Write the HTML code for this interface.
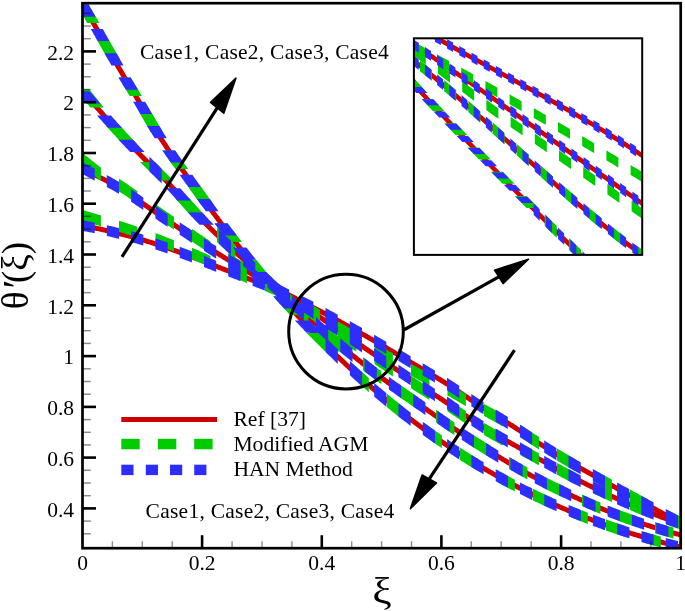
<!DOCTYPE html>
<html><head><meta charset="utf-8"><title>plot</title>
<style>
html,body{margin:0;padding:0;background:#fff;}
svg{display:block;}
text{font-family:"Liberation Serif","Times New Roman",serif;fill:#000;}
.tk{font-size:21.5px;}
.lg{font-size:21.6px;}
.cs{font-size:21.5px;letter-spacing:0.25px;}
.ax{font-size:38px;}
.ay{font-size:37px;}
</style></head><body>
<svg width="685" height="611" viewBox="0 0 685 611">
<rect width="685" height="611" fill="#fff"/>
<clipPath id="cm"><rect x="82.5" y="3.2" width="598.2" height="545.0"/></clipPath>
<g clip-path="url(#cm)">
<polygon fill="#cf0000" points="82.5,223 83.5,223.1 84.5,223.3 85.5,223.5 86.5,223.7 87.5,223.9 88.5,224.1 89.5,224.3 90.5,224.5 91.5,224.7 92.5,224.9 93.5,225.1 94.5,225.3 95.5,225.6 96.5,225.8 97.5,226 98.5,226.2 99.5,226.4 100.5,226.6 101.5,226.8 102.5,227.1 103.5,227.3 104.5,227.5 105.5,227.7 106.5,228 107.5,228.2 108.5,228.4 109.5,228.7 110.5,228.9 111.5,229.1 112.5,229.4 113.5,229.6 114.5,229.8 115.5,230.1 116.5,230.3 117.5,230.6 118.5,230.8 119.5,231.1 120.5,231.3 121.5,231.6 122.5,231.8 123.5,232.1 124.5,232.3 125.5,232.6 126.5,232.8 127.5,233.1 128.5,233.3 129.5,233.6 130.5,233.9 131.5,234.1 132.5,234.4 133.5,234.7 134.5,235 135.5,235.2 136.5,235.5 137.5,235.8 138.5,236.1 139.5,236.4 140.5,236.6 141.5,236.9 142.5,237.2 143.5,237.5 144.5,237.8 145.5,238.1 146.5,238.4 147.5,238.7 148.5,239 149.5,239.4 150.5,239.7 151.5,240 152.5,240.3 153.5,240.6 154.5,240.9 155.5,241.3 156.5,241.6 157.5,241.9 158.5,242.3 159.5,242.6 160.5,242.9 161.5,243.3 162.5,243.6 163.5,243.9 164.5,244.3 165.5,244.6 166.5,245 167.5,245.3 168.5,245.7 169.5,246 170.5,246.4 171.5,246.7 172.5,247.1 173.5,247.4 174.5,247.8 175.5,248.2 176.5,248.5 177.5,248.9 178.5,249.2 179.5,249.6 180.5,250 181.5,250.3 182.5,250.7 183.5,251.1 184.5,251.4 185.5,251.8 186.5,252.2 187.5,252.6 188.5,252.9 189.5,253.3 190.5,253.7 191.5,254.1 192.5,254.4 193.5,254.8 194.5,255.2 195.5,255.6 196.5,255.9 197.5,256.3 198.5,256.7 199.5,257.1 200.5,257.5 201.5,257.9 202.5,258.2 203.5,258.6 204.5,259 205.5,259.4 206.5,259.8 207.5,260.2 208.5,260.6 209.5,261 210.5,261.4 211.5,261.8 212.5,262.2 213.5,262.5 214.5,262.9 215.5,263.3 216.5,263.7 217.5,264.1 218.5,264.5 219.5,264.9 220.5,265.3 221.5,265.7 222.5,266 223.5,266.4 224.5,266.8 225.5,267.2 226.5,267.6 227.5,268 228.5,268.3 229.5,268.7 230.5,269.1 231.5,269.5 232.5,269.9 233.5,270.2 234.5,270.6 235.5,271 236.5,271.4 237.5,271.8 238.5,272.1 239.5,272.5 240.5,272.9 241.5,273.3 242.5,273.7 243.5,274.1 244.5,274.5 245.5,274.9 246.5,275.3 247.5,275.6 248.5,276 249.5,276.4 250.5,276.8 251.5,277.2 252.5,277.6 253.5,278 254.5,278.4 255.5,278.8 256.5,279.1 257.5,279.5 258.5,279.9 259.5,280.3 260.5,280.7 261.5,281 262.5,281.4 263.5,281.8 264.5,282.2 265.5,282.5 266.5,282.9 267.5,283.3 268.5,283.7 269.5,284 270.5,284.4 271.5,284.8 272.5,285.2 273.5,285.6 274.5,286 275.5,286.4 276.5,286.8 277.5,287.2 278.5,287.6 279.5,288 280.5,288.4 281.5,288.9 282.5,289.3 283.5,289.8 284.5,290.2 285.5,290.7 286.5,291.2 287.5,291.7 288.5,292.1 289.5,292.6 290.5,293.1 291.5,293.6 292.5,294.1 293.5,294.6 294.5,295.1 295.5,295.6 296.5,296.1 297.5,296.7 298.5,297.2 299.5,297.7 300.5,298.2 301.5,298.7 302.5,299.2 303.5,299.8 304.5,300.3 305.5,300.8 306.5,301.3 307.5,301.8 308.5,302.3 309.5,302.8 310.5,303.4 311.5,303.9 312.5,304.4 313.5,304.9 314.5,305.4 315.5,305.9 316.5,306.4 317.5,307 318.5,307.5 319.5,308 320.5,308.5 321.5,309 322.5,309.6 323.5,310.1 324.5,310.6 325.5,311.1 326.5,311.7 327.5,312.2 328.5,312.7 329.5,313.2 330.5,313.8 331.5,314.3 332.5,314.8 333.5,315.4 334.5,315.9 335.5,316.4 336.5,317 337.5,317.5 338.5,318 339.5,318.6 340.5,319.1 341.5,319.7 342.5,320.2 343.5,320.8 344.5,321.3 345.5,321.9 346.5,322.4 347.5,323 348.5,323.5 349.5,324.1 350.5,324.6 351.5,325.2 352.5,325.7 353.5,326.3 354.5,326.8 355.5,327.4 356.5,328 357.5,328.5 358.5,329.1 359.5,329.6 360.5,330.2 361.5,330.8 362.5,331.3 363.5,331.9 364.5,332.4 365.5,333 366.5,333.6 367.5,334.1 368.5,334.7 369.5,335.3 370.5,335.8 371.5,336.4 372.5,337 373.5,337.6 374.5,338.1 375.5,338.7 376.5,339.3 377.5,339.8 378.5,340.4 379.5,341 380.5,341.6 381.5,342.1 382.5,342.7 383.5,343.3 384.5,343.9 385.5,344.5 386.5,345 387.5,345.6 388.5,346.2 389.5,346.8 390.5,347.4 391.5,347.9 392.5,348.5 393.5,349.1 394.5,349.7 395.5,350.3 396.5,350.9 397.5,351.5 398.5,352.1 399.5,352.7 400.5,353.3 401.5,353.8 402.5,354.4 403.5,355 404.5,355.6 405.5,356.2 406.5,356.8 407.5,357.4 408.5,358 409.5,358.6 410.5,359.2 411.5,359.8 412.5,360.4 413.5,361 414.5,361.6 415.5,362.2 416.5,362.7 417.5,363.3 418.5,363.9 419.5,364.5 420.5,365.1 421.5,365.7 422.5,366.3 423.5,366.9 424.5,367.5 425.5,368.1 426.5,368.7 427.5,369.3 428.5,369.8 429.5,370.4 430.5,371 431.5,371.6 432.5,372.2 433.5,372.8 434.5,373.4 435.5,374 436.5,374.6 437.5,375.2 438.5,375.8 439.5,376.4 440.5,377 441.5,377.6 442.5,378.2 443.5,378.9 444.5,379.5 445.5,380.1 446.5,380.7 447.5,381.3 448.5,382 449.5,382.6 450.5,383.3 451.5,383.9 452.5,384.5 453.5,385.2 454.5,385.8 455.5,386.5 456.5,387.2 457.5,387.8 458.5,388.5 459.5,389.2 460.5,389.8 461.5,390.5 462.5,391.2 463.5,391.8 464.5,392.5 465.5,393.2 466.5,393.9 467.5,394.5 468.5,395.2 469.5,395.9 470.5,396.6 471.5,397.2 472.5,397.9 473.5,398.6 474.5,399.3 475.5,399.9 476.5,400.6 477.5,401.2 478.5,401.9 479.5,402.5 480.5,403.2 481.5,403.8 482.5,404.5 483.5,405.1 484.5,405.8 485.5,406.4 486.5,407 487.5,407.6 488.5,408.3 489.5,408.9 490.5,409.5 491.5,410.1 492.5,410.7 493.5,411.3 494.5,411.9 495.5,412.5 496.5,413.2 497.5,413.8 498.5,414.4 499.5,415 500.5,415.6 501.5,416.2 502.5,416.8 503.5,417.4 504.5,418 505.5,418.6 506.5,419.3 507.5,419.9 508.5,420.5 509.5,421.1 510.5,421.7 511.5,422.4 512.5,423 513.5,423.6 514.5,424.3 515.5,424.9 516.5,425.6 517.5,426.2 518.5,426.9 519.5,427.5 520.5,428.2 521.5,428.8 522.5,429.5 523.5,430.1 524.5,430.8 525.5,431.4 526.5,432.1 527.5,432.7 528.5,433.4 529.5,434.1 530.5,434.7 531.5,435.4 532.5,436 533.5,436.7 534.5,437.3 535.5,438 536.5,438.6 537.5,439.3 538.5,439.9 539.5,440.6 540.5,441.2 541.5,441.9 542.5,442.5 543.5,443.1 544.5,443.8 545.5,444.4 546.5,445 547.5,445.7 548.5,446.3 549.5,446.9 550.5,447.5 551.5,448.2 552.5,448.8 553.5,449.4 554.5,450 555.5,450.6 556.5,451.2 557.5,451.8 558.5,452.4 559.5,453 560.5,453.6 561.5,454.2 562.5,454.8 563.5,455.4 564.5,456 565.5,456.6 566.5,457.2 567.5,457.8 568.5,458.4 569.5,459 570.5,459.6 571.5,460.1 572.5,460.7 573.5,461.3 574.5,461.9 575.5,462.4 576.5,463 577.5,463.6 578.5,464.2 579.5,464.7 580.5,465.3 581.5,465.9 582.5,466.4 583.5,467 584.5,467.6 585.5,468.1 586.5,468.7 587.5,469.3 588.5,469.8 589.5,470.4 590.5,470.9 591.5,471.5 592.5,472.1 593.5,472.6 594.5,473.2 595.5,473.7 596.5,474.3 597.5,474.8 598.5,475.4 599.5,475.9 600.5,476.5 601.5,477 602.5,477.6 603.5,478.1 604.5,478.7 605.5,479.2 606.5,479.8 607.5,480.3 608.5,480.9 609.5,481.4 610.5,482 611.5,482.5 612.5,483 613.5,483.6 614.5,484.1 615.5,484.7 616.5,485.2 617.5,485.8 618.5,486.3 619.5,486.9 620.5,487.4 621.5,487.9 622.5,488.5 623.5,489 624.5,489.6 625.5,490.1 626.5,490.7 627.5,491.2 628.5,491.8 629.5,492.3 630.5,492.9 631.5,493.4 632.5,494 633.5,494.5 634.5,495.1 635.5,495.6 636.5,496.2 637.5,496.7 638.5,497.2 639.5,497.8 640.5,498.3 641.5,498.9 642.5,499.4 643.5,500 644.5,500.5 645.5,501.1 646.5,501.6 647.5,502.2 648.5,502.7 649.5,503.3 650.5,503.8 651.5,504.4 652.5,504.9 653.5,505.5 654.5,506 655.5,506.6 656.5,507.1 657.5,507.6 658.5,508.2 659.5,508.7 660.5,509.3 661.5,509.8 662.5,510.3 663.5,510.9 664.5,511.4 665.5,511.9 666.5,512.5 667.5,513 668.5,513.5 669.5,514.1 670.5,514.6 671.5,515.1 672.5,515.6 673.5,516.2 674.5,516.7 675.5,517.2 676.5,517.7 677.5,518.2 678.5,518.7 679.5,519.3 680.5,519.8 680.5,525.4 679.5,524.9 678.5,524.4 677.5,523.9 676.5,523.3 675.5,522.8 674.5,522.3 673.5,521.8 672.5,521.3 671.5,520.8 670.5,520.2 669.5,519.7 668.5,519.2 667.5,518.7 666.5,518.1 665.5,517.6 664.5,517.1 663.5,516.5 662.5,516 661.5,515.5 660.5,514.9 659.5,514.4 658.5,513.9 657.5,513.3 656.5,512.8 655.5,512.2 654.5,511.7 653.5,511.2 652.5,510.6 651.5,510.1 650.5,509.5 649.5,509 648.5,508.4 647.5,507.9 646.5,507.3 645.5,506.8 644.5,506.2 643.5,505.7 642.5,505.2 641.5,504.6 640.5,504.1 639.5,503.5 638.5,503 637.5,502.4 636.5,501.9 635.5,501.3 634.5,500.8 633.5,500.2 632.5,499.7 631.5,499.1 630.5,498.6 629.5,498 628.5,497.5 627.5,496.9 626.5,496.4 625.5,495.8 624.5,495.3 623.5,494.7 622.5,494.2 621.5,493.6 620.5,493.1 619.5,492.6 618.5,492 617.5,491.5 616.5,490.9 615.5,490.4 614.5,489.8 613.5,489.3 612.5,488.7 611.5,488.2 610.5,487.7 609.5,487.1 608.5,486.6 607.5,486 606.5,485.5 605.5,484.9 604.5,484.4 603.5,483.8 602.5,483.3 601.5,482.7 600.5,482.2 599.5,481.6 598.5,481.1 597.5,480.5 596.5,480 595.5,479.4 594.5,478.9 593.5,478.3 592.5,477.8 591.5,477.2 590.5,476.7 589.5,476.1 588.5,475.6 587.5,475 586.5,474.4 585.5,473.9 584.5,473.3 583.5,472.7 582.5,472.2 581.5,471.6 580.5,471.1 579.5,470.5 578.5,469.9 577.5,469.4 576.5,468.8 575.5,468.2 574.5,467.6 573.5,467.1 572.5,466.5 571.5,465.9 570.5,465.3 569.5,464.8 568.5,464.2 567.5,463.6 566.5,463 565.5,462.4 564.5,461.8 563.5,461.2 562.5,460.7 561.5,460.1 560.5,459.5 559.5,458.9 558.5,458.3 557.5,457.7 556.5,457.1 555.5,456.5 554.5,455.9 553.5,455.3 552.5,454.6 551.5,454 550.5,453.4 549.5,452.8 548.5,452.2 547.5,451.6 546.5,450.9 545.5,450.3 544.5,449.7 543.5,449.1 542.5,448.4 541.5,447.8 540.5,447.2 539.5,446.5 538.5,445.9 537.5,445.2 536.5,444.6 535.5,443.9 534.5,443.3 533.5,442.6 532.5,442 531.5,441.3 530.5,440.7 529.5,440 528.5,439.4 527.5,438.7 526.5,438.1 525.5,437.4 524.5,436.7 523.5,436.1 522.5,435.4 521.5,434.8 520.5,434.1 519.5,433.5 518.5,432.8 517.5,432.2 516.5,431.5 515.5,430.9 514.5,430.2 513.5,429.6 512.5,428.9 511.5,428.3 510.5,427.7 509.5,427 508.5,426.4 507.5,425.8 506.5,425.1 505.5,424.5 504.5,423.9 503.5,423.3 502.5,422.7 501.5,422.1 500.5,421.4 499.5,420.8 498.5,420.2 497.5,419.6 496.5,419 495.5,418.4 494.5,417.8 493.5,417.2 492.5,416.6 491.5,416 490.5,415.4 489.5,414.7 488.5,414.1 487.5,413.5 486.5,412.9 485.5,412.3 484.5,411.7 483.5,411 482.5,410.4 481.5,409.8 480.5,409.1 479.5,408.5 478.5,407.9 477.5,407.2 476.5,406.6 475.5,405.9 474.5,405.2 473.5,404.6 472.5,403.9 471.5,403.3 470.5,402.6 469.5,401.9 468.5,401.3 467.5,400.6 466.5,399.9 465.5,399.2 464.5,398.6 463.5,397.9 462.5,397.2 461.5,396.5 460.5,395.9 459.5,395.2 458.5,394.5 457.5,393.8 456.5,393.2 455.5,392.5 454.5,391.8 453.5,391.2 452.5,390.5 451.5,389.9 450.5,389.2 449.5,388.6 448.5,387.9 447.5,387.3 446.5,386.6 445.5,386 444.5,385.4 443.5,384.7 442.5,384.1 441.5,383.5 440.5,382.9 439.5,382.3 438.5,381.7 437.5,381 436.5,380.4 435.5,379.8 434.5,379.2 433.5,378.6 432.5,378 431.5,377.4 430.5,376.8 429.5,376.2 428.5,375.7 427.5,375.1 426.5,374.5 425.5,373.9 424.5,373.3 423.5,372.7 422.5,372.1 421.5,371.5 420.5,370.9 419.5,370.3 418.5,369.7 417.5,369.2 416.5,368.6 415.5,368 414.5,367.4 413.5,366.8 412.5,366.2 411.5,365.6 410.5,365 409.5,364.4 408.5,363.8 407.5,363.2 406.5,362.6 405.5,362 404.5,361.4 403.5,360.8 402.5,360.2 401.5,359.7 400.5,359.1 399.5,358.5 398.5,357.9 397.5,357.3 396.5,356.7 395.5,356.1 394.5,355.5 393.5,354.9 392.5,354.3 391.5,353.7 390.5,353.2 389.5,352.6 388.5,352 387.5,351.4 386.5,350.8 385.5,350.2 384.5,349.7 383.5,349.1 382.5,348.5 381.5,347.9 380.5,347.3 379.5,346.8 378.5,346.2 377.5,345.6 376.5,345 375.5,344.5 374.5,343.9 373.5,343.3 372.5,342.7 371.5,342.2 370.5,341.6 369.5,341 368.5,340.5 367.5,339.9 366.5,339.3 365.5,338.8 364.5,338.2 363.5,337.6 362.5,337.1 361.5,336.5 360.5,335.9 359.5,335.4 358.5,334.8 357.5,334.2 356.5,333.7 355.5,333.1 354.5,332.6 353.5,332 352.5,331.5 351.5,330.9 350.5,330.3 349.5,329.8 348.5,329.2 347.5,328.7 346.5,328.1 345.5,327.6 344.5,327 343.5,326.5 342.5,325.9 341.5,325.4 340.5,324.8 339.5,324.3 338.5,323.7 337.5,323.2 336.5,322.7 335.5,322.1 334.5,321.6 333.5,321 332.5,320.5 331.5,320 330.5,319.4 329.5,318.9 328.5,318.4 327.5,317.8 326.5,317.3 325.5,316.8 324.5,316.3 323.5,315.7 322.5,315.2 321.5,314.7 320.5,314.2 319.5,313.6 318.5,313.1 317.5,312.6 316.5,312.1 315.5,311.6 314.5,311 313.5,310.5 312.5,310 311.5,309.5 310.5,309 309.5,308.5 308.5,307.9 307.5,307.4 306.5,306.9 305.5,306.4 304.5,305.9 303.5,305.4 302.5,304.9 301.5,304.3 300.5,303.8 299.5,303.3 298.5,302.8 297.5,302.3 296.5,301.8 295.5,301.3 294.5,300.7 293.5,300.2 292.5,299.7 291.5,299.2 290.5,298.7 289.5,298.2 288.5,297.7 287.5,297.2 286.5,296.7 285.5,296.2 284.5,295.8 283.5,295.3 282.5,294.8 281.5,294.4 280.5,293.9 279.5,293.5 278.5,293 277.5,292.6 276.5,292.2 275.5,291.8 274.5,291.4 273.5,290.9 272.5,290.6 271.5,290.2 270.5,289.8 269.5,289.4 268.5,289 267.5,288.6 266.5,288.3 265.5,287.9 264.5,287.5 263.5,287.1 262.5,286.8 261.5,286.4 260.5,286 259.5,285.6 258.5,285.3 257.5,284.9 256.5,284.5 255.5,284.1 254.5,283.7 253.5,283.3 252.5,283 251.5,282.6 250.5,282.2 249.5,281.8 248.5,281.4 247.5,281 246.5,280.6 245.5,280.2 244.5,279.8 243.5,279.4 242.5,279.1 241.5,278.7 240.5,278.3 239.5,277.9 238.5,277.5 237.5,277.1 236.5,276.7 235.5,276.4 234.5,276 233.5,275.6 232.5,275.2 231.5,274.8 230.5,274.4 229.5,274.1 228.5,273.7 227.5,273.3 226.5,272.9 225.5,272.5 224.5,272.2 223.5,271.8 222.5,271.4 221.5,271 220.5,270.6 219.5,270.2 218.5,269.9 217.5,269.5 216.5,269.1 215.5,268.7 214.5,268.3 213.5,267.9 212.5,267.5 211.5,267.1 210.5,266.7 209.5,266.4 208.5,266 207.5,265.6 206.5,265.2 205.5,264.8 204.5,264.4 203.5,264 202.5,263.6 201.5,263.2 200.5,262.8 199.5,262.4 198.5,262.1 197.5,261.7 196.5,261.3 195.5,260.9 194.5,260.5 193.5,260.2 192.5,259.8 191.5,259.4 190.5,259 189.5,258.6 188.5,258.3 187.5,257.9 186.5,257.5 185.5,257.1 184.5,256.8 183.5,256.4 182.5,256 181.5,255.7 180.5,255.3 179.5,254.9 178.5,254.6 177.5,254.2 176.5,253.8 175.5,253.5 174.5,253.1 173.5,252.8 172.5,252.4 171.5,252 170.5,251.7 169.5,251.3 168.5,251 167.5,250.6 166.5,250.3 165.5,249.9 164.5,249.6 163.5,249.2 162.5,248.9 161.5,248.5 160.5,248.2 159.5,247.9 158.5,247.5 157.5,247.2 156.5,246.9 155.5,246.5 154.5,246.2 153.5,245.9 152.5,245.5 151.5,245.2 150.5,244.9 149.5,244.6 148.5,244.3 147.5,244 146.5,243.7 145.5,243.4 144.5,243 143.5,242.7 142.5,242.4 141.5,242.1 140.5,241.9 139.5,241.6 138.5,241.3 137.5,241 136.5,240.7 135.5,240.4 134.5,240.1 133.5,239.9 132.5,239.6 131.5,239.3 130.5,239 129.5,238.8 128.5,238.5 127.5,238.3 126.5,238 125.5,237.7 124.5,237.5 123.5,237.2 122.5,237 121.5,236.7 120.5,236.5 119.5,236.2 118.5,236 117.5,235.7 116.5,235.5 115.5,235.2 114.5,235 113.5,234.7 112.5,234.5 111.5,234.3 110.5,234 109.5,233.8 108.5,233.6 107.5,233.3 106.5,233.1 105.5,232.9 104.5,232.6 103.5,232.4 102.5,232.2 101.5,232 100.5,231.7 99.5,231.5 98.5,231.3 97.5,231.1 96.5,230.9 95.5,230.7 94.5,230.5 93.5,230.2 92.5,230 91.5,229.8 90.5,229.6 89.5,229.4 88.5,229.2 87.5,229 86.5,228.8 85.5,228.6 84.5,228.4 83.5,228.2 82.5,228"/>
<polygon fill="#cf0000" points="82.5,165.3 83.5,165.9 84.5,166.4 85.5,167 86.5,167.5 87.5,168 88.5,168.6 89.5,169.1 90.5,169.6 91.5,170.1 92.5,170.7 93.5,171.2 94.5,171.7 95.5,172.2 96.5,172.8 97.5,173.3 98.5,173.8 99.5,174.3 100.5,174.9 101.5,175.4 102.5,175.9 103.5,176.4 104.5,177 105.5,177.5 106.5,178 107.5,178.5 108.5,179.1 109.5,179.6 110.5,180.2 111.5,180.7 112.5,181.3 113.5,181.8 114.5,182.4 115.5,182.9 116.5,183.5 117.5,184.1 118.5,184.7 119.5,185.3 120.5,185.8 121.5,186.4 122.5,187 123.5,187.7 124.5,188.3 125.5,188.9 126.5,189.5 127.5,190.1 128.5,190.8 129.5,191.4 130.5,192.1 131.5,192.7 132.5,193.4 133.5,194 134.5,194.7 135.5,195.4 136.5,196.1 137.5,196.7 138.5,197.4 139.5,198.1 140.5,198.8 141.5,199.5 142.5,200.2 143.5,200.9 144.5,201.6 145.5,202.3 146.5,202.9 147.5,203.6 148.5,204.4 149.5,205.1 150.5,205.8 151.5,206.5 152.5,207.2 153.5,207.9 154.5,208.6 155.5,209.3 156.5,210 157.5,210.7 158.5,211.3 159.5,212 160.5,212.7 161.5,213.4 162.5,214.1 163.5,214.8 164.5,215.5 165.5,216.1 166.5,216.8 167.5,217.5 168.5,218.1 169.5,218.8 170.5,219.5 171.5,220.1 172.5,220.8 173.5,221.5 174.5,222.1 175.5,222.8 176.5,223.4 177.5,224.1 178.5,224.8 179.5,225.4 180.5,226.1 181.5,226.7 182.5,227.4 183.5,228 184.5,228.7 185.5,229.4 186.5,230 187.5,230.7 188.5,231.3 189.5,232 190.5,232.7 191.5,233.3 192.5,234 193.5,234.6 194.5,235.3 195.5,235.9 196.5,236.6 197.5,237.3 198.5,237.9 199.5,238.6 200.5,239.2 201.5,239.9 202.5,240.5 203.5,241.2 204.5,241.9 205.5,242.5 206.5,243.2 207.5,243.8 208.5,244.5 209.5,245.1 210.5,245.8 211.5,246.4 212.5,247.1 213.5,247.7 214.5,248.4 215.5,249 216.5,249.7 217.5,250.3 218.5,250.9 219.5,251.6 220.5,252.2 221.5,252.8 222.5,253.5 223.5,254.1 224.5,254.7 225.5,255.3 226.5,255.9 227.5,256.6 228.5,257.2 229.5,257.8 230.5,258.4 231.5,259 232.5,259.6 233.5,260.2 234.5,260.8 235.5,261.4 236.5,262 237.5,262.6 238.5,263.2 239.5,263.8 240.5,264.4 241.5,265 242.5,265.6 243.5,266.2 244.5,266.8 245.5,267.4 246.5,268 247.5,268.6 248.5,269.2 249.5,269.8 250.5,270.4 251.5,271 252.5,271.6 253.5,272.2 254.5,272.7 255.5,273.3 256.5,273.9 257.5,274.5 258.5,275.1 259.5,275.7 260.5,276.3 261.5,276.9 262.5,277.5 263.5,278.1 264.5,278.7 265.5,279.3 266.5,279.9 267.5,280.5 268.5,281.1 269.5,281.7 270.5,282.3 271.5,282.9 272.5,283.5 273.5,284.1 274.5,284.7 275.5,285.3 276.5,285.9 277.5,286.5 278.5,287.1 279.5,287.7 280.5,288.3 281.5,288.9 282.5,289.6 283.5,290.2 284.5,290.8 285.5,291.4 286.5,292 287.5,292.7 288.5,293.3 289.5,293.9 290.5,294.5 291.5,295.2 292.5,295.8 293.5,296.4 294.5,297.1 295.5,297.7 296.5,298.4 297.5,299 298.5,299.6 299.5,300.3 300.5,300.9 301.5,301.6 302.5,302.3 303.5,302.9 304.5,303.6 305.5,304.3 306.5,304.9 307.5,305.6 308.5,306.3 309.5,307 310.5,307.6 311.5,308.3 312.5,309 313.5,309.7 314.5,310.4 315.5,311.1 316.5,311.8 317.5,312.5 318.5,313.2 319.5,313.8 320.5,314.5 321.5,315.2 322.5,315.9 323.5,316.6 324.5,317.3 325.5,318 326.5,318.7 327.5,319.4 328.5,320.1 329.5,320.8 330.5,321.5 331.5,322.2 332.5,322.9 333.5,323.6 334.5,324.3 335.5,325 336.5,325.7 337.5,326.3 338.5,327 339.5,327.7 340.5,328.4 341.5,329.1 342.5,329.8 343.5,330.5 344.5,331.2 345.5,331.8 346.5,332.5 347.5,333.2 348.5,333.9 349.5,334.6 350.5,335.3 351.5,335.9 352.5,336.6 353.5,337.3 354.5,338 355.5,338.7 356.5,339.4 357.5,340 358.5,340.7 359.5,341.4 360.5,342.1 361.5,342.8 362.5,343.5 363.5,344.1 364.5,344.8 365.5,345.5 366.5,346.2 367.5,346.9 368.5,347.5 369.5,348.2 370.5,348.9 371.5,349.6 372.5,350.3 373.5,350.9 374.5,351.6 375.5,352.3 376.5,353 377.5,353.7 378.5,354.3 379.5,355 380.5,355.7 381.5,356.4 382.5,357.1 383.5,357.7 384.5,358.4 385.5,359.1 386.5,359.8 387.5,360.5 388.5,361.1 389.5,361.8 390.5,362.5 391.5,363.2 392.5,363.9 393.5,364.5 394.5,365.2 395.5,365.9 396.5,366.6 397.5,367.2 398.5,367.9 399.5,368.6 400.5,369.3 401.5,370 402.5,370.6 403.5,371.3 404.5,372 405.5,372.6 406.5,373.3 407.5,374 408.5,374.7 409.5,375.3 410.5,376 411.5,376.7 412.5,377.3 413.5,378 414.5,378.7 415.5,379.3 416.5,380 417.5,380.6 418.5,381.3 419.5,382 420.5,382.6 421.5,383.3 422.5,383.9 423.5,384.6 424.5,385.2 425.5,385.9 426.5,386.5 427.5,387.2 428.5,387.8 429.5,388.5 430.5,389.1 431.5,389.8 432.5,390.4 433.5,391.1 434.5,391.7 435.5,392.4 436.5,393 437.5,393.7 438.5,394.3 439.5,395 440.5,395.6 441.5,396.3 442.5,396.9 443.5,397.6 444.5,398.3 445.5,398.9 446.5,399.6 447.5,400.2 448.5,400.9 449.5,401.6 450.5,402.2 451.5,402.9 452.5,403.6 453.5,404.3 454.5,404.9 455.5,405.6 456.5,406.3 457.5,407 458.5,407.7 459.5,408.4 460.5,409 461.5,409.7 462.5,410.4 463.5,411.1 464.5,411.8 465.5,412.5 466.5,413.2 467.5,413.8 468.5,414.5 469.5,415.2 470.5,415.9 471.5,416.6 472.5,417.2 473.5,417.9 474.5,418.6 475.5,419.2 476.5,419.9 477.5,420.5 478.5,421.2 479.5,421.8 480.5,422.5 481.5,423.1 482.5,423.8 483.5,424.4 484.5,425 485.5,425.6 486.5,426.2 487.5,426.8 488.5,427.4 489.5,428 490.5,428.6 491.5,429.2 492.5,429.8 493.5,430.4 494.5,431 495.5,431.6 496.5,432.2 497.5,432.7 498.5,433.3 499.5,433.9 500.5,434.5 501.5,435 502.5,435.6 503.5,436.2 504.5,436.7 505.5,437.3 506.5,437.8 507.5,438.4 508.5,439 509.5,439.5 510.5,440.1 511.5,440.6 512.5,441.2 513.5,441.8 514.5,442.3 515.5,442.9 516.5,443.5 517.5,444 518.5,444.6 519.5,445.1 520.5,445.7 521.5,446.3 522.5,446.8 523.5,447.4 524.5,448 525.5,448.5 526.5,449.1 527.5,449.6 528.5,450.2 529.5,450.8 530.5,451.3 531.5,451.9 532.5,452.4 533.5,453 534.5,453.6 535.5,454.1 536.5,454.7 537.5,455.2 538.5,455.8 539.5,456.4 540.5,456.9 541.5,457.5 542.5,458 543.5,458.6 544.5,459.1 545.5,459.7 546.5,460.2 547.5,460.8 548.5,461.3 549.5,461.9 550.5,462.4 551.5,463 552.5,463.5 553.5,464.1 554.5,464.6 555.5,465.2 556.5,465.7 557.5,466.2 558.5,466.8 559.5,467.3 560.5,467.9 561.5,468.4 562.5,468.9 563.5,469.5 564.5,470 565.5,470.5 566.5,471.1 567.5,471.6 568.5,472.1 569.5,472.7 570.5,473.2 571.5,473.7 572.5,474.2 573.5,474.7 574.5,475.3 575.5,475.8 576.5,476.3 577.5,476.8 578.5,477.3 579.5,477.8 580.5,478.3 581.5,478.9 582.5,479.4 583.5,479.9 584.5,480.4 585.5,480.9 586.5,481.4 587.5,481.9 588.5,482.4 589.5,482.9 590.5,483.4 591.5,483.9 592.5,484.3 593.5,484.8 594.5,485.3 595.5,485.8 596.5,486.3 597.5,486.8 598.5,487.3 599.5,487.7 600.5,488.2 601.5,488.7 602.5,489.2 603.5,489.7 604.5,490.1 605.5,490.6 606.5,491.1 607.5,491.5 608.5,492 609.5,492.5 610.5,492.9 611.5,493.4 612.5,493.9 613.5,494.3 614.5,494.8 615.5,495.2 616.5,495.7 617.5,496.1 618.5,496.6 619.5,497 620.5,497.5 621.5,497.9 622.5,498.4 623.5,498.8 624.5,499.3 625.5,499.7 626.5,500.1 627.5,500.6 628.5,501 629.5,501.5 630.5,501.9 631.5,502.3 632.5,502.7 633.5,503.2 634.5,503.6 635.5,504 636.5,504.4 637.5,504.9 638.5,505.3 639.5,505.7 640.5,506.1 641.5,506.5 642.5,506.9 643.5,507.3 644.5,507.7 645.5,508.2 646.5,508.6 647.5,509 648.5,509.4 649.5,509.8 650.5,510.2 651.5,510.5 652.5,510.9 653.5,511.3 654.5,511.7 655.5,512.1 656.5,512.5 657.5,512.9 658.5,513.3 659.5,513.6 660.5,514 661.5,514.4 662.5,514.8 663.5,515.1 664.5,515.5 665.5,515.9 666.5,516.2 667.5,516.6 668.5,517 669.5,517.3 670.5,517.7 671.5,518 672.5,518.4 673.5,518.8 674.5,519.1 675.5,519.5 676.5,519.8 677.5,520.1 678.5,520.5 679.5,520.8 680.5,521.2 680.5,526.4 679.5,526.1 678.5,525.8 677.5,525.4 676.5,525.1 675.5,524.7 674.5,524.4 673.5,524.1 672.5,523.7 671.5,523.3 670.5,523 669.5,522.6 668.5,522.3 667.5,521.9 666.5,521.6 665.5,521.2 664.5,520.8 663.5,520.5 662.5,520.1 661.5,519.7 660.5,519.4 659.5,519 658.5,518.6 657.5,518.2 656.5,517.8 655.5,517.5 654.5,517.1 653.5,516.7 652.5,516.3 651.5,515.9 650.5,515.5 649.5,515.1 648.5,514.7 647.5,514.3 646.5,513.9 645.5,513.5 644.5,513.1 643.5,512.7 642.5,512.3 641.5,511.9 640.5,511.5 639.5,511.1 638.5,510.7 637.5,510.3 636.5,509.9 635.5,509.4 634.5,509 633.5,508.6 632.5,508.2 631.5,507.8 630.5,507.3 629.5,506.9 628.5,506.5 627.5,506 626.5,505.6 625.5,505.2 624.5,504.7 623.5,504.3 622.5,503.9 621.5,503.4 620.5,503 619.5,502.5 618.5,502.1 617.5,501.6 616.5,501.2 615.5,500.7 614.5,500.3 613.5,499.8 612.5,499.4 611.5,498.9 610.5,498.4 609.5,498 608.5,497.5 607.5,497.1 606.5,496.6 605.5,496.1 604.5,495.7 603.5,495.2 602.5,494.7 601.5,494.2 600.5,493.8 599.5,493.3 598.5,492.8 597.5,492.3 596.5,491.8 595.5,491.4 594.5,490.9 593.5,490.4 592.5,489.9 591.5,489.4 590.5,488.9 589.5,488.4 588.5,487.9 587.5,487.5 586.5,487 585.5,486.5 584.5,486 583.5,485.5 582.5,485 581.5,484.5 580.5,484 579.5,483.4 578.5,482.9 577.5,482.4 576.5,481.9 575.5,481.4 574.5,480.9 573.5,480.4 572.5,479.9 571.5,479.3 570.5,478.8 569.5,478.3 568.5,477.8 567.5,477.3 566.5,476.7 565.5,476.2 564.5,475.7 563.5,475.1 562.5,474.6 561.5,474.1 560.5,473.5 559.5,473 558.5,472.5 557.5,471.9 556.5,471.4 555.5,470.9 554.5,470.3 553.5,469.8 552.5,469.2 551.5,468.7 550.5,468.1 549.5,467.6 548.5,467 547.5,466.5 546.5,465.9 545.5,465.4 544.5,464.8 543.5,464.3 542.5,463.7 541.5,463.2 540.5,462.6 539.5,462.1 538.5,461.5 537.5,461 536.5,460.4 535.5,459.9 534.5,459.3 533.5,458.7 532.5,458.2 531.5,457.6 530.5,457.1 529.5,456.5 528.5,455.9 527.5,455.4 526.5,454.8 525.5,454.3 524.5,453.7 523.5,453.1 522.5,452.6 521.5,452 520.5,451.4 519.5,450.9 518.5,450.3 517.5,449.8 516.5,449.2 515.5,448.6 514.5,448.1 513.5,447.5 512.5,446.9 511.5,446.4 510.5,445.8 509.5,445.3 508.5,444.7 507.5,444.1 506.5,443.6 505.5,443 504.5,442.5 503.5,441.9 502.5,441.3 501.5,440.8 500.5,440.2 499.5,439.6 498.5,439.1 497.5,438.5 496.5,437.9 495.5,437.4 494.5,436.8 493.5,436.2 492.5,435.6 491.5,435 490.5,434.5 489.5,433.9 488.5,433.3 487.5,432.7 486.5,432.1 485.5,431.5 484.5,430.9 483.5,430.3 482.5,429.6 481.5,429 480.5,428.4 479.5,427.8 478.5,427.1 477.5,426.5 476.5,425.9 475.5,425.2 474.5,424.6 473.5,423.9 472.5,423.2 471.5,422.6 470.5,421.9 469.5,421.2 468.5,420.6 467.5,419.9 466.5,419.2 465.5,418.5 464.5,417.9 463.5,417.2 462.5,416.5 461.5,415.8 460.5,415.1 459.5,414.4 458.5,413.7 457.5,413.1 456.5,412.4 455.5,411.7 454.5,411 453.5,410.3 452.5,409.6 451.5,408.9 450.5,408.3 449.5,407.6 448.5,406.9 447.5,406.2 446.5,405.6 445.5,404.9 444.5,404.2 443.5,403.6 442.5,402.9 441.5,402.3 440.5,401.6 439.5,400.9 438.5,400.3 437.5,399.6 436.5,399 435.5,398.3 434.5,397.7 433.5,397 432.5,396.4 431.5,395.7 430.5,395.1 429.5,394.4 428.5,393.8 427.5,393.1 426.5,392.5 425.5,391.9 424.5,391.2 423.5,390.6 422.5,389.9 421.5,389.3 420.5,388.6 419.5,387.9 418.5,387.3 417.5,386.6 416.5,386 415.5,385.3 414.5,384.7 413.5,384 412.5,383.3 411.5,382.7 410.5,382 409.5,381.3 408.5,380.7 407.5,380 406.5,379.3 405.5,378.7 404.5,378 403.5,377.3 402.5,376.7 401.5,376 400.5,375.3 399.5,374.6 398.5,374 397.5,373.3 396.5,372.6 395.5,371.9 394.5,371.3 393.5,370.6 392.5,369.9 391.5,369.2 390.5,368.5 389.5,367.9 388.5,367.2 387.5,366.5 386.5,365.8 385.5,365.2 384.5,364.5 383.5,363.8 382.5,363.1 381.5,362.4 380.5,361.8 379.5,361.1 378.5,360.4 377.5,359.7 376.5,359 375.5,358.4 374.5,357.7 373.5,357 372.5,356.3 371.5,355.6 370.5,355 369.5,354.3 368.5,353.6 367.5,352.9 366.5,352.2 365.5,351.5 364.5,350.9 363.5,350.2 362.5,349.5 361.5,348.8 360.5,348.1 359.5,347.5 358.5,346.8 357.5,346.1 356.5,345.4 355.5,344.7 354.5,344 353.5,343.4 352.5,342.7 351.5,342 350.5,341.3 349.5,340.6 348.5,340 347.5,339.3 346.5,338.6 345.5,337.9 344.5,337.2 343.5,336.5 342.5,335.9 341.5,335.2 340.5,334.5 339.5,333.8 338.5,333.1 337.5,332.4 336.5,331.7 335.5,331 334.5,330.4 333.5,329.7 332.5,329 331.5,328.3 330.5,327.6 329.5,326.9 328.5,326.2 327.5,325.5 326.5,324.8 325.5,324.1 324.5,323.4 323.5,322.7 322.5,322 321.5,321.3 320.5,320.6 319.5,319.9 318.5,319.2 317.5,318.5 316.5,317.9 315.5,317.2 314.5,316.5 313.5,315.8 312.5,315.1 311.5,314.4 310.5,313.7 309.5,313 308.5,312.3 307.5,311.7 306.5,311 305.5,310.3 304.5,309.6 303.5,308.9 302.5,308.3 301.5,307.6 300.5,306.9 299.5,306.3 298.5,305.6 297.5,305 296.5,304.3 295.5,303.7 294.5,303 293.5,302.4 292.5,301.7 291.5,301.1 290.5,300.4 289.5,299.8 288.5,299.2 287.5,298.6 286.5,297.9 285.5,297.3 284.5,296.7 283.5,296.1 282.5,295.4 281.5,294.8 280.5,294.2 279.5,293.6 278.5,293 277.5,292.4 276.5,291.8 275.5,291.1 274.5,290.5 273.5,289.9 272.5,289.3 271.5,288.7 270.5,288.1 269.5,287.5 268.5,286.9 267.5,286.3 266.5,285.7 265.5,285.1 264.5,284.5 263.5,283.9 262.5,283.3 261.5,282.7 260.5,282.1 259.5,281.5 258.5,280.9 257.5,280.3 256.5,279.7 255.5,279.2 254.5,278.6 253.5,278 252.5,277.4 251.5,276.8 250.5,276.2 249.5,275.6 248.5,275 247.5,274.4 246.5,273.8 245.5,273.2 244.5,272.6 243.5,272 242.5,271.4 241.5,270.8 240.5,270.2 239.5,269.6 238.5,269 237.5,268.5 236.5,267.9 235.5,267.3 234.5,266.7 233.5,266.1 232.5,265.5 231.5,264.8 230.5,264.2 229.5,263.6 228.5,263 227.5,262.4 226.5,261.8 225.5,261.2 224.5,260.6 223.5,260 222.5,259.4 221.5,258.7 220.5,258.1 219.5,257.5 218.5,256.9 217.5,256.2 216.5,255.6 215.5,255 214.5,254.3 213.5,253.7 212.5,253 211.5,252.4 210.5,251.7 209.5,251.1 208.5,250.4 207.5,249.8 206.5,249.1 205.5,248.5 204.5,247.8 203.5,247.2 202.5,246.5 201.5,245.9 200.5,245.2 199.5,244.6 198.5,243.9 197.5,243.2 196.5,242.6 195.5,241.9 194.5,241.3 193.5,240.6 192.5,240 191.5,239.3 190.5,238.6 189.5,238 188.5,237.3 187.5,236.7 186.5,236 185.5,235.3 184.5,234.7 183.5,234 182.5,233.4 181.5,232.7 180.5,232.1 179.5,231.4 178.5,230.7 177.5,230.1 176.5,229.4 175.5,228.8 174.5,228.1 173.5,227.5 172.5,226.8 171.5,226.1 170.5,225.5 169.5,224.8 168.5,224.2 167.5,223.5 166.5,222.8 165.5,222.2 164.5,221.5 163.5,220.8 162.5,220.1 161.5,219.5 160.5,218.8 159.5,218.1 158.5,217.4 157.5,216.7 156.5,216 155.5,215.4 154.5,214.7 153.5,214 152.5,213.3 151.5,212.6 150.5,211.9 149.5,211.2 148.5,210.5 147.5,209.8 146.5,209.1 145.5,208.4 144.5,207.7 143.5,207 142.5,206.3 141.5,205.6 140.5,204.9 139.5,204.2 138.5,203.5 137.5,202.8 136.5,202.1 135.5,201.4 134.5,200.7 133.5,200.1 132.5,199.4 131.5,198.7 130.5,198.1 129.5,197.4 128.5,196.7 127.5,196.1 126.5,195.4 125.5,194.8 124.5,194.2 123.5,193.5 122.5,192.9 121.5,192.3 120.5,191.7 119.5,191.1 118.5,190.5 117.5,189.9 116.5,189.3 115.5,188.7 114.5,188.1 113.5,187.6 112.5,187 111.5,186.4 110.5,185.9 109.5,185.3 108.5,184.8 107.5,184.2 106.5,183.7 105.5,183.1 104.5,182.6 103.5,182.1 102.5,181.6 101.5,181 100.5,180.5 99.5,180 98.5,179.4 97.5,178.9 96.5,178.4 95.5,177.9 94.5,177.4 93.5,176.8 92.5,176.3 91.5,175.8 90.5,175.3 89.5,174.7 88.5,174.2 87.5,173.7 86.5,173.2 85.5,172.6 84.5,172.1 83.5,171.6 82.5,171"/>
<polygon fill="#cf0000" points="85.8,91.2 86.8,92.3 87.8,93.4 88.8,94.6 89.8,95.7 90.8,96.8 91.8,98 92.8,99.1 93.8,100.3 94.8,101.4 95.8,102.5 96.8,103.7 97.8,104.8 98.8,105.9 99.8,107.1 100.8,108.2 101.8,109.3 102.8,110.5 103.8,111.6 104.8,112.7 105.8,113.9 106.8,115 107.8,116.1 108.8,117.3 109.8,118.4 110.8,119.5 111.8,120.6 112.9,121.7 113.9,122.9 114.9,124 115.9,125.1 116.9,126.2 117.9,127.3 118.9,128.4 119.9,129.5 120.9,130.7 121.9,131.8 122.9,132.9 123.9,134 124.9,135.1 125.9,136.1 126.9,137.2 127.9,138.3 128.9,139.4 129.9,140.5 130.9,141.6 131.9,142.6 132.9,143.7 133.9,144.8 134.9,145.8 135.9,146.9 137,147.9 138,149 139,150 140,151 141,152.1 142,153.1 143,154.1 144,155.1 145,156.1 142.5,153.6 143.5,154.6 144.5,155.6 145.5,156.6 146.5,157.6 147.5,158.6 148.5,159.6 149.5,160.6 150.5,161.5 151.5,162.5 152.5,163.5 153.5,164.5 154.5,165.5 155.5,166.5 156.5,167.4 161,172 162,173 163,174 164,175 165,176 166,177 167,178.1 168,179.1 169,180.2 170,181.2 170.9,182.3 171.9,183.3 172.9,184.4 173.9,185.4 174.9,186.5 175.9,187.6 176.9,188.7 177.9,189.8 178.9,190.8 179.9,191.9 180.9,193 181.9,194.1 182.9,195.2 183.9,196.3 184.9,197.4 185.9,198.6 186.9,199.7 187.9,200.8 188.9,201.9 189.9,203 190.9,204.1 191.9,205.2 192.9,206.3 193.9,207.5 194.9,208.6 195.9,209.7 196.9,210.8 197.9,211.9 198.9,213 199.9,214 200.9,215.1 201.9,216.2 202.9,217.3 203.9,218.3 205,219.4 206,220.4 207,221.4 208,222.5 209,223.5 210,224.5 211,225.5 208.5,223 209.5,224 210.5,225 211.5,226 212.5,226.9 213.5,227.9 214.5,228.9 215.5,229.9 216.5,230.9 217.5,231.8 218.5,232.8 219.5,233.7 220.5,234.7 221.5,235.7 222.5,236.6 223.5,237.6 224.5,238.5 225.5,239.4 226.5,240.4 227.5,241.3 228.5,242.3 229.5,243.2 230.5,244.1 231.5,245.1 232.5,246 233.5,246.9 234.5,247.8 235.5,248.7 236.5,249.6 237.5,250.6 238.5,251.5 239.5,252.4 240.5,253.2 241.5,254.1 242.5,255 243.5,255.9 244.5,256.8 245.5,257.7 246.5,258.5 247.5,259.4 248.5,260.3 249.5,261.2 250.5,262 251.5,262.9 252.5,263.8 253.5,264.6 254.5,265.5 255.5,266.4 256.5,267.2 257.5,268.1 258.5,269 259.5,269.9 260.5,270.8 261.5,271.7 262.5,272.6 263.5,273.5 264.5,274.4 265.5,275.3 266.5,276.2 267.5,277.1 268.5,278 269.5,278.9 270.5,279.9 271.5,280.8 272.5,281.7 273.5,282.6 274.5,283.6 275.5,284.5 276.5,285.4 277.5,286.3 278.5,287.3 279.5,288.2 280.5,289.1 281.5,290 282.5,290.9 283.5,291.8 284.5,292.7 285.5,293.6 286.5,294.5 287.5,295.4 288.5,296.3 289.5,297.2 290.5,298.1 291.5,299 292.5,299.9 293.5,300.8 294.5,301.7 295.5,302.6 296.5,303.4 297.5,304.3 298.5,305.2 299.5,306.1 300.5,307 301.5,307.9 302.5,308.8 303.5,309.7 304.5,310.5 305.5,311.4 306.5,312.3 307.5,313.2 308.5,314.1 309.5,315 310.5,315.9 311.5,316.8 312.5,317.7 313.5,318.6 314.5,319.4 315.5,320.3 316.5,321.2 317.5,322.1 318.5,323 319.5,323.9 320.5,324.8 321.5,325.6 322.5,326.5 323.5,327.4 324.5,328.3 325.5,329.2 326.5,330 327.5,330.9 328.5,331.8 329.5,332.7 330.5,333.5 331.5,334.4 332.5,335.3 333.5,336.1 334.5,337 335.5,337.8 336.5,338.7 337.5,339.5 338.5,340.4 339.5,341.2 340.5,342.1 341.5,342.9 342.5,343.8 343.5,344.6 344.5,345.4 345.5,346.3 346.5,347.1 347.5,347.9 348.5,348.8 349.5,349.6 350.5,350.4 351.5,351.2 352.5,352 353.5,352.9 354.5,353.7 355.5,354.5 356.5,355.3 357.5,356.1 358.5,356.9 359.5,357.7 360.5,358.5 361.5,359.3 362.5,360.1 363.5,360.9 364.5,361.7 365.5,362.4 366.5,363.2 367.5,364 368.5,364.8 369.5,365.6 370.5,366.3 371.5,367.1 372.5,367.9 373.5,368.6 374.5,369.4 375.5,370.1 376.5,370.9 377.5,371.7 378.5,372.4 379.5,373.2 380.5,373.9 381.5,374.7 382.5,375.4 383.5,376.1 384.5,376.9 385.5,377.6 386.5,378.3 387.5,379.1 388.5,379.8 389.5,380.5 390.5,381.2 391.5,382 392.5,382.7 393.5,383.4 394.5,384.1 395.5,384.8 396.5,385.5 397.5,386.2 398.5,386.9 399.5,387.6 400.5,388.3 401.5,389 402.5,389.7 403.5,390.4 404.5,391.1 405.5,391.8 406.5,392.5 407.5,393.2 408.5,393.9 409.5,394.6 410.5,395.3 411.5,396 412.5,396.7 413.5,397.4 414.5,398.1 415.5,398.7 416.5,399.4 417.5,400.1 418.5,400.8 419.5,401.5 420.5,402.2 421.5,402.9 422.5,403.6 423.5,404.3 424.5,405 425.5,405.7 426.5,406.4 427.5,407.1 428.5,407.8 429.5,408.5 430.5,409.2 431.5,409.9 432.5,410.6 433.5,411.3 434.5,412 435.5,412.7 436.5,413.4 437.5,414.1 438.5,414.8 439.5,415.5 440.5,416.2 441.5,416.9 442.5,417.6 443.5,418.3 444.5,419 445.5,419.7 446.5,420.4 447.5,421.1 448.5,421.8 449.5,422.4 450.5,423.1 451.5,423.8 452.5,424.5 453.5,425.2 454.5,425.8 455.5,426.5 456.5,427.2 457.5,427.8 458.5,428.5 459.5,429.2 460.5,429.8 461.5,430.5 462.5,431.2 463.5,431.8 464.5,432.5 465.5,433.1 466.5,433.8 467.5,434.4 468.5,435.1 469.5,435.7 470.5,436.4 471.5,437 472.5,437.6 473.5,438.3 474.5,438.9 475.5,439.6 476.5,440.2 477.5,440.8 478.5,441.5 479.5,442.1 480.5,442.7 481.5,443.3 482.5,444 483.5,444.6 484.5,445.2 485.5,445.8 486.5,446.5 487.5,447.1 488.5,447.7 489.5,448.3 490.5,448.9 491.5,449.5 492.5,450.1 493.5,450.8 494.5,451.4 495.5,452 496.5,452.6 497.5,453.2 498.5,453.8 499.5,454.4 500.5,455 501.5,455.6 502.5,456.2 503.5,456.8 504.5,457.4 505.5,458 506.5,458.5 507.5,459.1 508.5,459.7 509.5,460.3 510.5,460.9 511.5,461.5 512.5,462.1 513.5,462.6 514.5,463.2 515.5,463.8 516.5,464.4 517.5,465 518.5,465.5 519.5,466.1 520.5,466.7 521.5,467.2 522.5,467.8 523.5,468.4 524.5,468.9 525.5,469.5 526.5,470.1 527.5,470.6 528.5,471.2 529.5,471.7 530.5,472.3 531.5,472.8 532.5,473.4 533.5,473.9 534.5,474.4 535.5,475 536.5,475.5 537.5,476.1 538.5,476.6 539.5,477.1 540.5,477.6 541.5,478.2 542.5,478.7 543.5,479.2 544.5,479.7 545.5,480.2 546.5,480.7 547.5,481.3 548.5,481.8 549.5,482.3 550.5,482.8 551.5,483.3 552.5,483.8 553.5,484.3 554.5,484.7 555.5,485.2 556.5,485.7 557.5,486.2 558.5,486.7 559.5,487.2 560.5,487.7 561.5,488.1 562.5,488.6 563.5,489.1 564.5,489.6 565.5,490 566.5,490.5 567.5,491 568.5,491.4 569.5,491.9 570.5,492.4 571.5,492.8 572.5,493.3 573.5,493.7 574.5,494.2 575.5,494.7 576.5,495.1 577.5,495.6 578.5,496 579.5,496.5 580.5,496.9 581.5,497.4 582.5,497.8 583.5,498.3 584.5,498.7 585.5,499.1 586.5,499.6 587.5,500 588.5,500.5 589.5,500.9 590.5,501.3 591.5,501.7 592.5,502.2 593.5,502.6 594.5,503 595.5,503.4 596.5,503.9 597.5,504.3 598.5,504.7 599.5,505.1 600.5,505.5 601.5,505.9 602.5,506.3 603.5,506.7 604.5,507.2 605.5,507.6 606.5,508 607.5,508.4 608.5,508.7 609.5,509.1 610.5,509.5 611.5,509.9 612.5,510.3 613.5,510.7 614.5,511.1 615.5,511.5 616.5,511.8 617.5,512.2 618.5,512.6 619.5,513 620.5,513.3 621.5,513.7 622.5,514.1 623.5,514.4 624.5,514.8 625.5,515.2 626.5,515.5 627.5,515.9 628.5,516.2 629.5,516.6 630.5,517 631.5,517.3 632.5,517.7 633.5,518 634.5,518.3 635.5,518.7 636.5,519 637.5,519.4 638.5,519.7 639.5,520.1 640.5,520.4 641.5,520.7 642.5,521.1 643.5,521.4 644.5,521.7 645.5,522 646.5,522.4 647.5,522.7 648.5,523 649.5,523.3 650.5,523.6 651.5,524 652.5,524.3 653.5,524.6 654.5,524.9 655.5,525.2 656.5,525.5 657.5,525.8 658.5,526.1 659.5,526.4 660.5,526.7 661.5,527 662.5,527.3 663.5,527.6 664.5,527.9 665.5,528.2 666.5,528.5 667.5,528.7 668.5,529 669.5,529.3 670.5,529.6 671.5,529.9 672.5,530.1 673.5,530.4 674.5,530.7 675.5,530.9 676.5,531.2 677.5,531.5 678.5,531.7 679.5,532 680.5,532.3 680.5,537.4 679.5,537.2 678.5,536.9 677.5,536.6 676.5,536.4 675.5,536.1 674.5,535.9 673.5,535.6 672.5,535.3 671.5,535 670.5,534.8 669.5,534.5 668.5,534.2 667.5,533.9 666.5,533.7 665.5,533.4 664.5,533.1 663.5,532.8 662.5,532.5 661.5,532.2 660.5,531.9 659.5,531.6 658.5,531.3 657.5,531 656.5,530.7 655.5,530.4 654.5,530.1 653.5,529.8 652.5,529.5 651.5,529.2 650.5,528.9 649.5,528.6 648.5,528.3 647.5,527.9 646.5,527.6 645.5,527.3 644.5,527 643.5,526.6 642.5,526.3 641.5,526 640.5,525.7 639.5,525.3 638.5,525 637.5,524.7 636.5,524.3 635.5,524 634.5,523.6 633.5,523.3 632.5,522.9 631.5,522.6 630.5,522.3 629.5,521.9 628.5,521.5 627.5,521.2 626.5,520.8 625.5,520.5 624.5,520.1 623.5,519.8 622.5,519.4 621.5,519 620.5,518.7 619.5,518.3 618.5,517.9 617.5,517.6 616.5,517.2 615.5,516.8 614.5,516.4 613.5,516 612.5,515.7 611.5,515.3 610.5,514.9 609.5,514.5 608.5,514.1 607.5,513.7 606.5,513.3 605.5,512.9 604.5,512.5 603.5,512.1 602.5,511.7 601.5,511.3 600.5,510.9 599.5,510.5 598.5,510.1 597.5,509.7 596.5,509.3 595.5,508.9 594.5,508.5 593.5,508 592.5,507.6 591.5,507.2 590.5,506.8 589.5,506.3 588.5,505.9 587.5,505.5 586.5,505 585.5,504.6 584.5,504.2 583.5,503.7 582.5,503.3 581.5,502.8 580.5,502.4 579.5,502 578.5,501.5 577.5,501.1 576.5,500.6 575.5,500.2 574.5,499.7 573.5,499.2 572.5,498.8 571.5,498.3 570.5,497.9 569.5,497.4 568.5,497 567.5,496.5 566.5,496 565.5,495.6 564.5,495.1 563.5,494.6 562.5,494.1 561.5,493.7 560.5,493.2 559.5,492.7 558.5,492.2 557.5,491.8 556.5,491.3 555.5,490.8 554.5,490.3 553.5,489.8 552.5,489.3 551.5,488.8 550.5,488.3 549.5,487.8 548.5,487.4 547.5,486.9 546.5,486.3 545.5,485.8 544.5,485.3 543.5,484.8 542.5,484.3 541.5,483.8 540.5,483.3 539.5,482.8 538.5,482.2 537.5,481.7 536.5,481.2 535.5,480.7 534.5,480.1 533.5,479.6 532.5,479 531.5,478.5 530.5,478 529.5,477.4 528.5,476.9 527.5,476.3 526.5,475.8 525.5,475.2 524.5,474.7 523.5,474.1 522.5,473.5 521.5,473 520.5,472.4 519.5,471.9 518.5,471.3 517.5,470.7 516.5,470.1 515.5,469.6 514.5,469 513.5,468.4 512.5,467.8 511.5,467.3 510.5,466.7 509.5,466.1 508.5,465.5 507.5,464.9 506.5,464.4 505.5,463.8 504.5,463.2 503.5,462.6 502.5,462 501.5,461.4 500.5,460.8 499.5,460.2 498.5,459.6 497.5,459 496.5,458.4 495.5,457.8 494.5,457.2 493.5,456.6 492.5,456 491.5,455.4 490.5,454.8 489.5,454.2 488.5,453.6 487.5,452.9 486.5,452.3 485.5,451.7 484.5,451.1 483.5,450.5 482.5,449.9 481.5,449.2 480.5,448.6 479.5,448 478.5,447.4 477.5,446.7 476.5,446.1 475.5,445.5 474.5,444.8 473.5,444.2 472.5,443.6 471.5,442.9 470.5,442.3 469.5,441.7 468.5,441 467.5,440.4 466.5,439.7 465.5,439.1 464.5,438.4 463.5,437.8 462.5,437.1 461.5,436.5 460.5,435.8 459.5,435.2 458.5,434.5 457.5,433.9 456.5,433.2 455.5,432.5 454.5,431.9 453.5,431.2 452.5,430.5 451.5,429.8 450.5,429.2 449.5,428.5 448.5,427.8 447.5,427.1 446.5,426.4 445.5,425.8 444.5,425.1 443.5,424.4 442.5,423.7 441.5,423 440.5,422.3 439.5,421.6 438.5,420.9 437.5,420.2 436.5,419.5 435.5,418.8 434.5,418.1 433.5,417.4 432.5,416.7 431.5,416 430.5,415.3 429.5,414.6 428.5,413.9 427.5,413.2 426.5,412.5 425.5,411.8 424.5,411.1 423.5,410.4 422.5,409.7 421.5,409 420.5,408.3 419.5,407.6 418.5,406.9 417.5,406.2 416.5,405.5 415.5,404.8 414.5,404.1 413.5,403.4 412.5,402.7 411.5,402.1 410.5,401.4 409.5,400.7 408.5,400 407.5,399.3 406.5,398.6 405.5,397.9 404.5,397.2 403.5,396.5 402.5,395.8 401.5,395.1 400.5,394.4 399.5,393.7 398.5,393 397.5,392.3 396.5,391.6 395.5,390.9 394.5,390.2 393.5,389.5 392.5,388.8 391.5,388.1 390.5,387.4 389.5,386.7 388.5,386 387.5,385.2 386.5,384.5 385.5,383.8 384.5,383.1 383.5,382.3 382.5,381.6 381.5,380.9 380.5,380.1 379.5,379.4 378.5,378.7 377.5,377.9 376.5,377.2 375.5,376.4 374.5,375.7 373.5,374.9 372.5,374.1 371.5,373.4 370.5,372.6 369.5,371.9 368.5,371.1 367.5,370.3 366.5,369.6 365.5,368.8 364.5,368 363.5,367.2 362.5,366.4 361.5,365.7 360.5,364.9 359.5,364.1 358.5,363.3 357.5,362.5 356.5,361.7 355.5,360.9 354.5,360.1 353.5,359.3 352.5,358.5 351.5,357.7 350.5,356.9 349.5,356 348.5,355.2 347.5,354.4 346.5,353.6 345.5,352.8 344.5,351.9 343.5,351.1 342.5,350.3 341.5,349.5 340.5,348.6 339.5,347.8 338.5,346.9 337.5,346.1 336.5,345.3 335.5,344.4 334.5,343.6 333.5,342.7 332.5,341.9 331.5,341 330.5,340.1 329.5,339.3 328.5,338.4 327.5,337.5 326.5,336.7 325.5,335.8 324.5,334.9 323.5,334.1 322.5,333.2 321.5,332.3 320.5,331.4 319.5,330.6 318.5,329.7 317.5,328.8 316.5,327.9 315.5,327 314.5,326.1 313.5,325.2 312.5,324.4 311.5,323.5 310.5,322.6 309.5,321.7 308.5,320.8 307.5,319.9 306.5,319 305.5,318.1 304.5,317.2 303.5,316.3 302.5,315.5 301.5,314.6 300.5,313.7 299.5,312.8 298.5,311.9 297.5,311 296.5,310.1 295.5,309.2 294.5,308.3 293.5,307.5 292.5,306.6 291.5,305.7 290.5,304.8 289.5,303.9 288.5,303 287.5,302.1 286.5,301.2 285.5,300.4 284.5,299.5 283.5,298.6 282.5,297.7 281.5,296.8 280.5,295.9 279.5,294.9 278.5,294 277.5,293.1 276.5,292.2 275.5,291.3 274.5,290.4 273.5,289.4 272.5,288.5 271.5,287.6 270.5,286.7 269.5,285.7 268.5,284.8 267.5,283.9 266.5,283 265.5,282.1 264.5,281.1 263.5,280.2 262.5,279.3 261.5,278.4 260.5,277.5 259.5,276.6 258.5,275.7 257.5,274.8 256.5,273.9 255.5,273 254.5,272.1 253.5,271.3 252.5,270.4 251.5,269.5 250.5,268.6 249.5,267.8 248.5,266.9 247.5,266 246.5,265.2 245.5,264.3 244.5,263.4 243.5,262.6 242.5,261.7 241.5,260.8 240.5,259.9 239.5,259 238.5,258.2 237.5,257.3 236.5,256.4 235.5,255.5 234.5,254.6 233.5,253.7 232.5,252.8 231.5,251.9 230.5,250.9 229.5,250 228.5,249.1 227.5,248.2 226.5,247.2 225.5,246.3 224.5,245.4 223.5,244.4 222.5,243.5 221.5,242.5 220.5,241.6 219.5,240.7 218.5,239.7 217.5,238.7 216.5,237.8 215.5,236.8 214.5,235.9 213.5,234.9 212.5,233.9 211.5,233 210.5,232 209.5,231 208.5,230 204,225.5 203,224.5 202,223.5 201,222.5 200,221.4 199,220.4 198,219.4 197.1,218.3 196.1,217.3 195.1,216.2 194.1,215.1 193.1,214 192.1,213 191.1,211.9 190.1,210.8 189.1,209.7 188.1,208.6 187.1,207.5 186.1,206.3 185.1,205.2 184.1,204.1 183.1,203 182.1,201.9 181.1,200.8 180.1,199.7 179.1,198.6 178.1,197.4 177.1,196.3 176.1,195.2 175.1,194.1 174.1,193 173.1,191.9 172.1,190.8 171.1,189.8 170.1,188.7 169.1,187.6 168.1,186.5 167.1,185.4 166.1,184.4 165.1,183.3 164.1,182.3 163,181.2 162,180.2 161,179.1 160,178.1 159,177 158,176 157,175 156,174 155,173 154,172 156.5,174.5 155.5,173.5 154.5,172.5 153.5,171.5 152.5,170.5 151.5,169.5 150.5,168.6 149.5,167.6 148.5,166.6 147.5,165.6 146.5,164.6 145.5,163.6 144.5,162.7 143.5,161.7 142.5,160.7 138,156.1 137,155.1 136,154.1 135,153.1 134,152.1 133,151 132,150 131,149 130,147.9 129.1,146.9 128.1,145.8 127.1,144.8 126.1,143.7 125.1,142.6 124.1,141.6 123.1,140.5 122.1,139.4 121.1,138.3 120.1,137.2 119.1,136.1 118.1,135.1 117.1,134 116.1,132.9 115.1,131.8 114.1,130.7 113.1,129.5 112.1,128.4 111.1,127.3 110.1,126.2 109.1,125.1 108.1,124 107.1,122.9 106.1,121.7 105.2,120.6 104.2,119.5 103.2,118.4 102.2,117.3 101.2,116.1 100.2,115 99.2,113.9 98.2,112.7 97.2,111.6 96.2,110.5 95.2,109.3 94.2,108.2 93.2,107.1 92.2,105.9 91.2,104.8 90.2,103.7 89.2,102.5 88.2,101.4 87.2,100.3 86.2,99.1 85.2,98 84.2,96.8 83.2,95.7 82.2,94.6 81.2,93.4 80.2,92.3 79.2,91.2"/>
<polygon fill="#cf0000" points="85.4,4.6 86.4,6.2 87.4,7.9 88.4,9.6 89.4,11.3 90.4,13 91.4,14.7 92.4,16.4 93.4,18.1 94.4,19.8 95.4,21.6 96.4,23.3 97.4,25.1 98.4,26.8 99.4,28.6 100.4,30.3 101.4,32.1 102.4,33.9 103.4,35.6 104.4,37.4 105.4,39.2 106.4,40.9 107.4,42.7 108.4,44.5 109.4,46.2 110.4,48 111.4,49.8 112.4,51.5 113.4,53.3 114.4,55.1 115.4,56.8 116.4,58.6 117.4,60.3 118.4,62 119.4,63.8 120.4,65.5 121.4,67.2 122.4,68.9 123.4,70.6 124.4,72.3 125.4,74 126.4,75.7 127.4,77.4 128.4,79 129.4,80.7 130.4,82.3 131.4,84 132.4,85.7 133.4,87.3 134.4,89 135.4,90.6 136.4,92.3 137.4,94 138.4,95.6 139.4,97.3 140.4,99 141.4,100.7 142.4,102.4 143.4,104.1 144.4,105.8 145.4,107.5 146.4,109.2 147.4,110.9 148.4,112.7 149.4,114.4 150.4,116.1 151.4,117.8 152.4,119.6 153.4,121.3 154.4,123 155.4,124.7 156.4,126.4 157.4,128.1 158.4,129.7 159.4,131.4 160.4,133.1 161.4,134.7 162.4,136.3 163.5,137.9 164.5,139.5 165.5,141 166.5,142.6 167.5,144.1 168.5,145.6 169.5,147.1 170.5,148.6 171.5,150.1 172.5,151.6 173.5,153 174.5,154.5 175.5,155.9 176.6,157.3 177.6,158.7 178.6,160.2 179.6,161.6 180.6,163 181.6,164.4 182.6,165.8 183.6,167.2 184.6,168.6 185.6,170 186.6,171.4 187.6,172.8 188.6,174.2 189.6,175.6 190.6,177 191.6,178.4 192.6,179.8 193.6,181.2 194.6,182.6 195.6,183.9 196.6,185.3 197.6,186.7 198.6,188.1 199.6,189.5 200.6,190.9 201.6,192.3 202.6,193.7 203.6,195.1 204.6,196.5 205.6,197.9 206.6,199.3 207.6,200.6 208.6,202 209.6,203.4 210.6,204.8 211.6,206.2 212.6,207.6 213.6,208.9 214.6,210.3 215.6,211.7 216.6,213 217.6,214.4 218.6,215.8 219.6,217.1 220.6,218.5 221.6,219.8 222.6,221.2 223.6,222.5 224.6,223.9 225.6,225.2 226.6,226.5 227.6,227.9 228.6,229.2 229.6,230.5 230.6,231.8 231.6,233.1 232.6,234.4 233.7,235.7 234.7,237 235.7,238.3 236.7,239.6 237.7,240.9 238.7,242.2 239.7,243.5 240.7,244.8 241.7,246 242.7,247.3 243.7,248.6 244.7,249.8 245.7,251.1 246.7,252.4 247.7,253.6 248.7,254.9 249.7,256.1 250.7,257.4 251.7,258.6 252.7,259.8 253.7,261.1 254.7,262.3 255.7,263.5 256.7,264.8 257.7,266 258.7,267.2 259.7,268.4 260.7,269.6 261.7,270.9 262.7,272.1 263.8,273.3 264.8,274.5 265.8,275.7 266.8,276.9 267.8,278 268.8,279.2 269.8,280.4 270.8,281.6 271.8,282.8 272.8,283.9 273.8,285.1 274.8,286.3 275.8,287.4 276.8,288.6 277.8,289.8 278.8,290.9 279.8,292.1 280.8,293.2 281.8,294.4 282.8,295.5 283.8,296.6 284.8,297.8 285.8,298.9 286.8,300 287.8,301.2 288.9,302.3 289.9,303.4 290.9,304.5 291.9,305.6 292.9,306.7 293.9,307.8 294.9,308.9 295.9,310 296.9,311.1 297.9,312.2 298.9,313.3 299.9,314.4 300.9,315.5 301.9,316.6 302.9,317.7 303.9,318.7 304.9,319.8 305.9,320.9 306.9,321.9 307.9,323 308.9,324.1 309.9,325.1 310.9,326.2 312,327.2 313,328.3 314,329.3 315,330.4 316,331.4 317,332.4 318,333.5 319,334.5 320,335.5 321,336.5 322,337.6 323,338.6 324,339.6 325,340.6 326,341.6 327,342.6 328,343.6 325.5,341.1 326.5,342.1 327.5,343.1 328.5,344.1 329.5,345.1 330.5,346.1 331.5,347 332.5,348 333.5,349 334.5,350 335.5,351 336.5,351.9 337.5,352.9 338.5,353.9 339.5,354.8 340.5,355.8 341.5,356.7 342.5,357.7 343.5,358.6 344.5,359.6 345.5,360.5 346.5,361.5 347.5,362.4 348.5,363.4 349.5,364.3 350.5,365.2 351.5,366.2 352.5,367.1 353.5,368 354.5,368.9 355.5,369.8 356.5,370.7 357.5,371.7 358.5,372.6 359.5,373.5 360.5,374.4 361.5,375.3 362.5,376.2 363.5,377.1 364.5,378 365.5,378.8 366.5,379.7 367.5,380.6 368.5,381.5 369.5,382.4 370.5,383.2 371.5,384.1 372.5,385 373.5,385.8 374.5,386.7 375.5,387.6 376.5,388.4 377.5,389.3 378.5,390.1 379.5,391 380.5,391.8 381.5,392.7 382.5,393.5 383.5,394.4 384.5,395.2 385.5,396 386.5,396.9 387.5,397.7 388.5,398.5 389.5,399.3 390.5,400.1 391.5,401 392.5,401.8 393.5,402.6 394.5,403.4 395.5,404.2 396.5,405 397.5,405.8 398.5,406.6 399.5,407.4 400.5,408.2 401.5,409 402.5,409.8 403.5,410.6 404.5,411.3 405.5,412.1 406.5,412.9 407.5,413.7 408.5,414.4 409.5,415.2 410.5,416 411.5,416.7 412.5,417.5 413.5,418.3 414.5,419 415.5,419.8 416.5,420.5 417.5,421.3 418.5,422 419.5,422.8 420.5,423.5 421.5,424.3 422.5,425 423.5,425.7 424.5,426.5 425.5,427.2 426.5,427.9 427.5,428.6 428.5,429.4 429.5,430.1 430.5,430.8 431.5,431.5 432.5,432.2 433.5,432.9 434.5,433.6 435.5,434.3 436.5,435 437.5,435.7 438.5,436.4 439.5,437.1 440.5,437.8 441.5,438.5 442.5,439.2 443.5,439.9 444.5,440.6 445.5,441.2 446.5,441.9 447.5,442.6 448.5,443.3 449.5,443.9 450.5,444.6 451.5,445.3 452.5,445.9 453.5,446.6 454.5,447.2 455.5,447.9 456.5,448.5 457.5,449.2 458.5,449.8 459.5,450.5 460.5,451.1 461.5,451.8 462.5,452.4 463.5,453.1 464.5,453.7 465.5,454.3 466.5,455 467.5,455.6 468.5,456.2 469.5,456.8 470.5,457.4 471.5,458.1 472.5,458.7 473.5,459.3 474.5,459.9 475.5,460.5 476.5,461.1 477.5,461.7 478.5,462.3 479.5,462.9 480.5,463.5 481.5,464.1 482.5,464.7 483.5,465.3 484.5,465.9 485.5,466.5 486.5,467.1 487.5,467.6 488.5,468.2 489.5,468.8 490.5,469.4 491.5,470 492.5,470.5 493.5,471.1 494.5,471.7 495.5,472.2 496.5,472.8 497.5,473.4 498.5,473.9 499.5,474.5 500.5,475 501.5,475.6 502.5,476.1 503.5,476.7 504.5,477.2 505.5,477.8 506.5,478.3 507.5,478.8 508.5,479.4 509.5,479.9 510.5,480.4 511.5,481 512.5,481.5 513.5,482 514.5,482.6 515.5,483.1 516.5,483.6 517.5,484.1 518.5,484.6 519.5,485.1 520.5,485.7 521.5,486.2 522.5,486.7 523.5,487.2 524.5,487.7 525.5,488.2 526.5,488.7 527.5,489.2 528.5,489.7 529.5,490.2 530.5,490.7 531.5,491.2 532.5,491.6 533.5,492.1 534.5,492.6 535.5,493.1 536.5,493.6 537.5,494 538.5,494.5 539.5,495 540.5,495.5 541.5,495.9 542.5,496.4 543.5,496.9 544.5,497.3 545.5,497.8 546.5,498.3 547.5,498.7 548.5,499.2 549.5,499.6 550.5,500.1 551.5,500.5 552.5,501 553.5,501.4 554.5,501.9 555.5,502.3 556.5,502.8 557.5,503.2 558.5,503.6 559.5,504.1 560.5,504.5 561.5,504.9 562.5,505.4 563.5,505.8 564.5,506.2 565.5,506.6 566.5,507.1 567.5,507.5 568.5,507.9 569.5,508.3 570.5,508.7 571.5,509.2 572.5,509.6 573.5,510 574.5,510.4 575.5,510.8 576.5,511.2 577.5,511.6 578.5,512 579.5,512.4 580.5,512.8 581.5,513.2 582.5,513.6 583.5,514 584.5,514.4 585.5,514.8 586.5,515.1 587.5,515.5 588.5,515.9 589.5,516.3 590.5,516.7 591.5,517.1 592.5,517.4 593.5,517.8 594.5,518.2 595.5,518.6 596.5,518.9 597.5,519.3 598.5,519.7 599.5,520 600.5,520.4 601.5,520.7 602.5,521.1 603.5,521.5 604.5,521.8 605.5,522.2 606.5,522.5 607.5,522.9 608.5,523.2 609.5,523.6 610.5,523.9 611.5,524.3 612.5,524.6 613.5,525 614.5,525.3 615.5,525.6 616.5,526 617.5,526.3 618.5,526.6 619.5,527 620.5,527.3 621.5,527.6 622.5,528 623.5,528.3 624.5,528.6 625.5,528.9 626.5,529.3 627.5,529.6 628.5,529.9 629.5,530.2 630.5,530.5 631.5,530.9 632.5,531.2 633.5,531.5 634.5,531.8 635.5,532.1 636.5,532.4 637.5,532.7 638.5,533 639.5,533.3 640.5,533.6 641.5,533.9 642.5,534.2 643.5,534.5 644.5,534.8 645.5,535.1 646.5,535.4 647.5,535.7 648.5,536 649.5,536.3 650.5,536.5 651.5,536.8 652.5,537.1 653.5,537.4 654.5,537.7 655.5,538 656.5,538.2 657.5,538.5 658.5,538.8 659.5,539.1 660.5,539.3 661.5,539.6 662.5,539.9 663.5,540.1 664.5,540.4 665.5,540.7 666.5,540.9 667.5,541.2 668.5,541.5 669.5,541.7 670.5,542 671.5,542.2 672.5,542.5 673.5,542.8 674.5,543 675.5,543.3 676.5,543.5 677.5,543.8 678.5,544 679.5,544.3 680.5,544.5 680.5,549.7 679.5,549.4 678.5,549.2 677.5,548.9 676.5,548.7 675.5,548.4 674.5,548.2 673.5,547.9 672.5,547.7 671.5,547.4 670.5,547.1 669.5,546.9 668.5,546.6 667.5,546.4 666.5,546.1 665.5,545.8 664.5,545.6 663.5,545.3 662.5,545.1 661.5,544.8 660.5,544.5 659.5,544.2 658.5,544 657.5,543.7 656.5,543.4 655.5,543.1 654.5,542.9 653.5,542.6 652.5,542.3 651.5,542 650.5,541.7 649.5,541.5 648.5,541.2 647.5,540.9 646.5,540.6 645.5,540.3 644.5,540 643.5,539.7 642.5,539.4 641.5,539.1 640.5,538.8 639.5,538.5 638.5,538.2 637.5,537.9 636.5,537.6 635.5,537.3 634.5,537 633.5,536.7 632.5,536.4 631.5,536.1 630.5,535.8 629.5,535.5 628.5,535.2 627.5,534.8 626.5,534.5 625.5,534.2 624.5,533.9 623.5,533.6 622.5,533.2 621.5,532.9 620.5,532.6 619.5,532.2 618.5,531.9 617.5,531.6 616.5,531.3 615.5,530.9 614.5,530.6 613.5,530.2 612.5,529.9 611.5,529.6 610.5,529.2 609.5,528.9 608.5,528.5 607.5,528.2 606.5,527.8 605.5,527.5 604.5,527.1 603.5,526.8 602.5,526.4 601.5,526.1 600.5,525.7 599.5,525.3 598.5,525 597.5,524.6 596.5,524.2 595.5,523.9 594.5,523.5 593.5,523.1 592.5,522.8 591.5,522.4 590.5,522 589.5,521.6 588.5,521.3 587.5,520.9 586.5,520.5 585.5,520.1 584.5,519.7 583.5,519.3 582.5,519 581.5,518.6 580.5,518.2 579.5,517.8 578.5,517.4 577.5,517 576.5,516.6 575.5,516.2 574.5,515.8 573.5,515.4 572.5,515 571.5,514.6 570.5,514.1 569.5,513.7 568.5,513.3 567.5,512.9 566.5,512.5 565.5,512.1 564.5,511.6 563.5,511.2 562.5,510.8 561.5,510.4 560.5,509.9 559.5,509.5 558.5,509.1 557.5,508.7 556.5,508.2 555.5,507.8 554.5,507.3 553.5,506.9 552.5,506.5 551.5,506 550.5,505.6 549.5,505.1 548.5,504.7 547.5,504.2 546.5,503.8 545.5,503.3 544.5,502.8 543.5,502.4 542.5,501.9 541.5,501.5 540.5,501 539.5,500.5 538.5,500.1 537.5,499.6 536.5,499.1 535.5,498.6 534.5,498.2 533.5,497.7 532.5,497.2 531.5,496.7 530.5,496.2 529.5,495.7 528.5,495.2 527.5,494.8 526.5,494.3 525.5,493.8 524.5,493.3 523.5,492.8 522.5,492.3 521.5,491.8 520.5,491.3 519.5,490.8 518.5,490.2 517.5,489.7 516.5,489.2 515.5,488.7 514.5,488.2 513.5,487.7 512.5,487.1 511.5,486.6 510.5,486.1 509.5,485.6 508.5,485 507.5,484.5 506.5,484 505.5,483.4 504.5,482.9 503.5,482.4 502.5,481.8 501.5,481.3 500.5,480.7 499.5,480.2 498.5,479.6 497.5,479.1 496.5,478.5 495.5,478 494.5,477.4 493.5,476.8 492.5,476.3 491.5,475.7 490.5,475.1 489.5,474.6 488.5,474 487.5,473.4 486.5,472.8 485.5,472.3 484.5,471.7 483.5,471.1 482.5,470.5 481.5,469.9 480.5,469.3 479.5,468.8 478.5,468.2 477.5,467.6 476.5,467 475.5,466.4 474.5,465.8 473.5,465.2 472.5,464.5 471.5,463.9 470.5,463.3 469.5,462.7 468.5,462.1 467.5,461.5 466.5,460.8 465.5,460.2 464.5,459.6 463.5,459 462.5,458.3 461.5,457.7 460.5,457.1 459.5,456.4 458.5,455.8 457.5,455.2 456.5,454.5 455.5,453.9 454.5,453.2 453.5,452.6 452.5,451.9 451.5,451.3 450.5,450.6 449.5,449.9 448.5,449.3 447.5,448.6 446.5,447.9 445.5,447.3 444.5,446.6 443.5,445.9 442.5,445.2 441.5,444.6 440.5,443.9 439.5,443.2 438.5,442.5 437.5,441.8 436.5,441.1 435.5,440.4 434.5,439.7 433.5,439 432.5,438.3 431.5,437.6 430.5,436.9 429.5,436.2 428.5,435.5 427.5,434.8 426.5,434.1 425.5,433.4 424.5,432.6 423.5,431.9 422.5,431.2 421.5,430.5 420.5,429.7 419.5,429 418.5,428.3 417.5,427.5 416.5,426.8 415.5,426 414.5,425.3 413.5,424.5 412.5,423.8 411.5,423 410.5,422.3 409.5,421.5 408.5,420.7 407.5,420 406.5,419.2 405.5,418.4 404.5,417.7 403.5,416.9 402.5,416.1 401.5,415.3 400.5,414.6 399.5,413.8 398.5,413 397.5,412.2 396.5,411.4 395.5,410.6 394.5,409.8 393.5,409 392.5,408.2 391.5,407.4 390.5,406.6 389.5,405.8 388.5,405 387.5,404.2 386.5,403.3 385.5,402.5 384.5,401.7 383.5,400.9 382.5,400 381.5,399.2 380.5,398.4 379.5,397.5 378.5,396.7 377.5,395.8 376.5,395 375.5,394.1 374.5,393.3 373.5,392.4 372.5,391.6 371.5,390.7 370.5,389.9 369.5,389 368.5,388.1 367.5,387.3 366.5,386.4 365.5,385.5 364.5,384.6 363.5,383.7 362.5,382.9 361.5,382 360.5,381.1 359.5,380.2 358.5,379.3 357.5,378.4 356.5,377.5 355.5,376.6 354.5,375.7 353.5,374.8 352.5,373.9 351.5,372.9 350.5,372 349.5,371.1 348.5,370.2 347.5,369.3 346.5,368.3 345.5,367.4 344.5,366.5 343.5,365.5 342.5,364.6 341.5,363.6 340.5,362.7 339.5,361.7 338.5,360.8 337.5,359.8 336.5,358.9 335.5,357.9 334.5,357 333.5,356 332.5,355 331.5,354 330.5,353.1 329.5,352.1 328.5,351.1 327.5,350.1 326.5,349.1 325.5,348.1 321,343.6 320,342.6 319,341.6 318,340.6 317,339.6 316,338.6 315,337.6 314,336.5 313,335.5 312,334.5 311,333.5 310,332.4 309,331.4 308,330.4 307,329.3 306,328.3 305,327.2 304.1,326.2 303.1,325.1 302.1,324.1 301.1,323 300.1,321.9 299.1,320.9 298.1,319.8 297.1,318.7 296.1,317.7 295.1,316.6 294.1,315.5 293.1,314.4 292.1,313.3 291.1,312.2 290.1,311.1 289.1,310 288.1,308.9 287.1,307.8 286.1,306.7 285.1,305.6 284.1,304.5 283.1,303.4 282.1,302.3 281.2,301.2 280.2,300 279.2,298.9 278.2,297.8 277.2,296.6 276.2,295.5 275.2,294.4 274.2,293.2 273.2,292.1 272.2,290.9 271.2,289.8 270.2,288.6 269.2,287.4 268.2,286.3 267.2,285.1 266.2,283.9 265.2,282.8 264.2,281.6 263.2,280.4 262.2,279.2 261.2,278 260.2,276.9 259.2,275.7 258.2,274.5 257.2,273.3 256.3,272.1 255.3,270.9 254.3,269.6 253.3,268.4 252.3,267.2 251.3,266 250.3,264.8 249.3,263.5 248.3,262.3 247.3,261.1 246.3,259.8 245.3,258.6 244.3,257.4 243.3,256.1 242.3,254.9 241.3,253.6 240.3,252.4 239.3,251.1 238.3,249.8 237.3,248.6 236.3,247.3 235.3,246 234.3,244.8 233.3,243.5 232.3,242.2 231.3,240.9 230.3,239.6 229.3,238.3 228.3,237 227.3,235.7 226.4,234.4 225.4,233.1 224.4,231.8 223.4,230.5 222.4,229.2 221.4,227.9 220.4,226.5 219.4,225.2 218.4,223.9 217.4,222.5 216.4,221.2 215.4,219.8 214.4,218.5 213.4,217.1 212.4,215.8 211.4,214.4 210.4,213 209.4,211.7 208.4,210.3 207.4,208.9 206.4,207.6 205.4,206.2 204.4,204.8 203.4,203.4 202.4,202 201.4,200.6 200.4,199.3 199.4,197.9 198.4,196.5 197.4,195.1 196.4,193.7 195.4,192.3 194.4,190.9 193.4,189.5 192.4,188.1 191.4,186.7 190.4,185.3 189.4,183.9 188.4,182.6 187.4,181.2 186.4,179.8 185.4,178.4 184.4,177 183.4,175.6 182.4,174.2 181.4,172.8 180.4,171.4 179.4,170 178.4,168.6 177.4,167.2 176.4,165.8 175.4,164.4 174.4,163 173.4,161.6 172.4,160.2 171.4,158.7 170.4,157.3 169.5,155.9 168.5,154.5 167.5,153 166.5,151.6 165.5,150.1 164.5,148.6 163.5,147.1 162.5,145.6 161.5,144.1 160.5,142.6 159.5,141 158.5,139.5 157.5,137.9 156.6,136.3 155.6,134.7 154.6,133.1 153.6,131.4 152.6,129.7 151.6,128.1 150.6,126.4 149.6,124.7 148.6,123 147.6,121.3 146.6,119.6 145.6,117.8 144.6,116.1 143.6,114.4 142.6,112.7 141.6,110.9 140.6,109.2 139.6,107.5 138.6,105.8 137.6,104.1 136.6,102.4 135.6,100.7 134.6,99 133.6,97.3 132.6,95.6 131.6,94 130.6,92.3 129.6,90.6 128.6,89 127.6,87.3 126.6,85.7 125.6,84 124.6,82.3 123.6,80.7 122.6,79 121.6,77.4 120.6,75.7 119.6,74 118.6,72.3 117.6,70.6 116.6,68.9 115.6,67.2 114.6,65.5 113.6,63.8 112.6,62 111.6,60.3 110.6,58.6 109.6,56.8 108.6,55.1 107.6,53.3 106.6,51.5 105.6,49.8 104.6,48 103.6,46.2 102.6,44.5 101.6,42.7 100.6,40.9 99.6,39.2 98.6,37.4 97.6,35.6 96.6,33.9 95.6,32.1 94.6,30.3 93.6,28.6 92.6,26.8 91.6,25.1 90.6,23.3 89.6,21.6 88.6,19.8 87.6,18.1 86.6,16.4 85.6,14.7 84.6,13 83.6,11.3 82.6,9.6 81.6,7.9 80.6,6.2 79.6,4.6"/>
<polygon fill="#00cc00" points="82.5,210 83.5,210.3 84.5,210.6 85.5,210.9 86.5,211.2 87.5,211.4 88.5,211.7 89.5,212 90.5,212.3 91.5,212.6 92.5,212.9 93.5,213.2 94.5,213.5 95.5,213.8 96.5,214.1 97.5,214.4 98.5,214.7 99.5,215 100.5,215.3 100.9,215.4 100.9,226.3 100.5,226.2 99.5,225.9 98.5,225.6 97.5,225.3 96.5,225 95.5,224.7 94.5,224.4 93.5,224.1 92.5,223.8 91.5,223.5 90.5,223.2 89.5,222.9 88.5,222.7 87.5,222.4 86.5,222.1 85.5,221.8 84.5,221.5 83.5,221.2 82.5,221"/>
<polygon fill="#00cc00" points="119,220.7 119.5,220.9 120.5,221.2 121.5,221.5 122.5,221.8 123.5,222.1 124.5,222.4 125.5,222.8 126.5,223.1 127.5,223.4 128.5,223.7 129.5,224 130.5,224.4 131.5,224.7 132.5,225 133.5,225.4 134.5,225.7 135.5,226 136.5,226.4 137.4,226.7 137.4,237.7 136.5,237.4 135.5,237.1 134.5,236.7 133.5,236.4 132.5,236.1 131.5,235.7 130.5,235.4 129.5,235.1 128.5,234.8 127.5,234.4 126.5,234.1 125.5,233.8 124.5,233.5 123.5,233.2 122.5,232.8 121.5,232.5 120.5,232.2 119.5,231.9 119,231.8"/>
<polygon fill="#00cc00" points="155.5,233 156.5,233.4 157.5,233.8 158.5,234.2 159.5,234.6 160.5,234.9 161.5,235.3 162.5,235.7 163.5,236.1 164.5,236.5 165.5,236.9 166.5,237.3 167.5,237.7 168.5,238.1 169.5,238.5 170.5,238.9 171.5,239.3 172.5,239.7 173.5,240.1 173.9,240.3 173.9,251.6 173.5,251.4 172.5,251 171.5,250.6 170.5,250.2 169.5,249.8 168.5,249.4 167.5,249 166.5,248.6 165.5,248.2 164.5,247.8 163.5,247.4 162.5,247 161.5,246.6 160.5,246.2 159.5,245.8 158.5,245.5 157.5,245.1 156.5,244.7 155.5,244.3"/>
<polygon fill="#00cc00" points="192,247.8 192.5,248 193.5,248.4 194.5,248.9 195.5,249.3 196.5,249.7 197.5,250.1 198.5,250.6 199.5,251 200.5,251.5 201.5,251.9 202.5,252.3 203.5,252.8 204.5,253.2 205.5,253.6 206.5,254.1 207.5,254.5 208.5,255 209.5,255.4 210.4,255.8 210.4,267.3 209.5,266.9 208.5,266.4 207.5,266 206.5,265.5 205.5,265.1 204.5,264.7 203.5,264.2 202.5,263.8 201.5,263.3 200.5,262.9 199.5,262.5 198.5,262 197.5,261.6 196.5,261.2 195.5,260.7 194.5,260.3 193.5,259.9 192.5,259.5 192,259.2"/>
<polygon fill="#00cc00" points="228.5,263.7 229.5,264.1 230.5,264.6 231.5,265 232.5,265.4 233.5,265.8 234.5,266.3 235.5,266.7 236.5,267.1 237.5,267.6 238.5,268 239.5,268.4 240.5,268.9 241.5,269.3 242.5,269.7 243.5,270.2 244.5,270.6 245.5,271.1 246.5,271.5 246.9,271.7 246.9,283.1 246.5,282.9 245.5,282.5 244.5,282.1 243.5,281.6 242.5,281.2 241.5,280.7 240.5,280.3 239.5,279.9 238.5,279.4 237.5,279 236.5,278.6 235.5,278.1 234.5,277.7 233.5,277.3 232.5,276.9 231.5,276.4 230.5,276 229.5,275.6 228.5,275.1"/>
<polygon fill="#00cc00" points="265,279.4 265.5,279.6 266.5,280.1 267.5,280.5 268.5,280.9 269.5,281.3 270.5,281.8 271.5,282.2 272.5,282.6 273.5,283.1 274.5,283.5 275.5,284 276.5,284.4 277.5,284.9 278.5,285.4 279.5,285.8 280.5,286.3 281.5,286.8 282.5,287.3 283.4,287.9 283.4,299.4 282.5,298.9 281.5,298.4 280.5,297.9 279.5,297.4 278.5,296.9 277.5,296.4 276.5,296 275.5,295.5 274.5,295.1 273.5,294.6 272.5,294.2 271.5,293.7 270.5,293.3 269.5,292.9 268.5,292.5 267.5,292 266.5,291.6 265.5,291.2 265,291"/>
<polygon fill="#00cc00" points="301.5,298.4 302.5,299 303.5,299.6 304.5,300.2 305.5,300.8 306.5,301.5 307.5,302.1 308.5,302.7 309.5,303.3 310.5,303.9 311.5,304.6 312.5,305.2 313.5,305.8 314.5,306.4 315.5,307 316.5,307.7 317.5,308.3 318.5,308.9 319.5,309.5 319.9,309.8 319.9,322.1 319.5,321.9 318.5,321.2 317.5,320.6 316.5,320 315.5,319.4 314.5,318.8 313.5,318.1 312.5,317.5 311.5,316.9 310.5,316.3 309.5,315.7 308.5,315.1 307.5,314.4 306.5,313.8 305.5,313.2 304.5,312.6 303.5,312 302.5,311.3 301.5,310.7"/>
<polygon fill="#00cc00" points="338,321.4 338.5,321.7 339.5,322.3 340.5,322.9 341.5,323.5 342.5,324.1 343.5,324.6 344.5,325.2 345.5,325.7 346.5,326.3 347.5,326.9 348.5,327.5 349.5,328 350.5,328.6 351.5,329.2 352.5,329.7 353.5,330.3 354.5,330.9 355.5,331.5 356.4,332 356.4,344.1 355.5,343.6 354.5,343 353.5,342.4 352.5,341.9 351.5,341.3 350.5,340.7 349.5,340.1 348.5,339.6 347.5,339 346.5,338.4 345.5,337.9 344.5,337.3 343.5,336.7 342.5,336.2 341.5,335.6 340.5,335.1 339.5,334.4 338.5,333.8 338,333.5"/>
<polygon fill="#00cc00" points="374.5,342.5 375.5,343.1 376.5,343.6 377.5,344.2 378.5,344.8 379.5,345.4 380.5,346 381.5,346.6 382.5,347.2 383.5,347.8 384.5,348.4 385.5,349 386.5,349.6 387.5,350.2 388.5,350.8 389.5,351.4 390.5,352 391.5,352.6 392.5,353.2 392.9,353.4 392.9,365.7 392.5,365.4 391.5,364.8 390.5,364.2 389.5,363.6 388.5,363 387.5,362.4 386.5,361.8 385.5,361.2 384.5,360.6 383.5,360 382.5,359.4 381.5,358.8 380.5,358.2 379.5,357.6 378.5,357.1 377.5,356.5 376.5,355.9 375.5,355.3 374.5,354.7"/>
<polygon fill="#00cc00" points="411,363.9 411.5,364.2 412.5,364.7 413.5,365.3 414.5,365.8 415.5,366.3 416.5,366.9 417.5,367.4 418.5,368 419.5,368.5 420.5,369 421.5,369.6 422.5,370.1 423.5,370.6 424.5,371.1 425.5,371.6 426.5,372.2 427.5,372.7 428.5,373.2 429.4,373.7 429.4,385.6 428.5,385.1 427.5,384.6 426.5,384 425.5,383.5 424.5,383 423.5,382.5 422.5,382 421.5,381.5 420.5,380.9 419.5,380.4 418.5,379.9 417.5,379.3 416.5,378.8 415.5,378.2 414.5,377.7 413.5,377.1 412.5,376.6 411.5,376.1 411,375.8"/>
<polygon fill="#00cc00" points="447.5,383.3 448.5,383.8 449.5,384.4 450.5,385 451.5,385.5 452.5,386.1 453.5,386.7 454.5,387.3 455.5,387.9 456.5,388.5 457.5,389.1 458.5,389.7 459.5,390.3 460.5,390.9 461.5,391.5 462.5,392.1 463.5,392.6 464.5,393.2 465.5,393.8 465.9,394 465.9,406.1 465.5,405.9 464.5,405.3 463.5,404.8 462.5,404.2 461.5,403.6 460.5,403 459.5,402.4 458.5,401.8 457.5,401.2 456.5,400.6 455.5,400 454.5,399.5 453.5,398.9 452.5,398.3 451.5,397.7 450.5,397.1 449.5,396.6 448.5,396 447.5,395.4"/>
<polygon fill="#00cc00" points="484,404 484.5,404.3 485.5,404.8 486.5,405.3 487.5,405.8 488.5,406.3 489.5,406.9 490.5,407.4 491.5,408 492.5,408.6 493.5,409.1 494.5,409.7 495.5,410.3 496.5,410.9 497.5,411.4 498.5,412 499.5,412.6 500.5,413.2 501.5,413.7 502.4,414.3 502.4,426.3 501.5,425.8 500.5,425.2 499.5,424.6 498.5,424 497.5,423.4 496.5,422.9 495.5,422.3 494.5,421.7 493.5,421.1 492.5,420.6 491.5,420 490.5,419.4 489.5,418.9 488.5,418.4 487.5,417.8 486.5,417.3 485.5,416.8 484.5,416.3 484,416"/>
<polygon fill="#00cc00" points="520.5,424.9 521.5,425.5 522.5,426.2 523.5,426.8 524.5,427.5 525.5,428.1 526.5,428.8 527.5,429.5 528.5,430.1 529.5,430.8 530.5,431.4 531.5,432.1 532.5,432.7 533.5,433.4 534.5,434 535.5,434.7 536.5,435.3 537.5,436 538.5,436.6 538.9,436.9 538.9,449.4 538.5,449.2 537.5,448.5 536.5,447.9 535.5,447.2 534.5,446.6 533.5,445.9 532.5,445.3 531.5,444.6 530.5,444 529.5,443.3 528.5,442.7 527.5,442 526.5,441.3 525.5,440.7 524.5,440 523.5,439.4 522.5,438.7 521.5,438.1 520.5,437.4"/>
<polygon fill="#00cc00" points="557,448.4 557.5,448.7 558.5,449.3 559.5,449.9 560.5,450.5 561.5,451.1 562.5,451.7 563.5,452.2 564.5,452.8 565.5,453.4 566.5,454 567.5,454.6 568.5,455.2 569.5,455.8 570.5,456.4 571.5,456.9 572.5,457.5 573.5,458.1 574.5,458.7 575.4,459.2 575.4,471.4 574.5,470.8 573.5,470.3 572.5,469.7 571.5,469.1 570.5,468.5 569.5,468 568.5,467.4 567.5,466.8 566.5,466.2 565.5,465.6 564.5,465 563.5,464.4 562.5,463.8 561.5,463.2 560.5,462.6 559.5,462 558.5,461.4 557.5,460.8 557,460.5"/>
<polygon fill="#00cc00" points="593.5,469.5 594.5,470 595.5,470.6 596.5,471.1 597.5,471.7 598.5,472.2 599.5,472.8 600.5,473.3 601.5,473.9 602.5,474.4 603.5,475 604.5,475.5 605.5,476.1 606.5,476.6 607.5,477.2 608.5,477.7 609.5,478.3 610.5,478.8 611.5,479.4 611.9,479.6 611.9,491.6 611.5,491.3 610.5,490.8 609.5,490.2 608.5,489.7 607.5,489.2 606.5,488.6 605.5,488.1 604.5,487.5 603.5,487 602.5,486.4 601.5,485.9 600.5,485.3 599.5,484.8 598.5,484.2 597.5,483.7 596.5,483.1 595.5,482.6 594.5,482 593.5,481.5"/>
<polygon fill="#00cc00" points="630,489.4 630.5,489.7 631.5,490.3 632.5,490.8 633.5,491.4 634.5,491.9 635.5,492.5 636.5,493 637.5,493.6 638.5,494.1 639.5,494.7 640.5,495.2 641.5,495.8 642.5,496.3 643.5,496.9 644.5,497.4 645.5,498 646.5,498.5 647.5,499.1 648.4,499.5 648.4,511.5 647.5,511 646.5,510.5 645.5,509.9 644.5,509.4 643.5,508.8 642.5,508.3 641.5,507.7 640.5,507.2 639.5,506.6 638.5,506.1 637.5,505.5 636.5,505 635.5,504.4 634.5,503.9 633.5,503.3 632.5,502.8 631.5,502.2 630.5,501.7 630,501.4"/>
<polygon fill="#00cc00" points="666.5,509.4 667.5,509.9 668.5,510.5 669.5,511 670.5,511.5 671.5,512 672.5,512.5 673.5,513.1 674.5,513.6 675.5,514.1 676.5,514.6 677.5,515.1 678.5,515.6 679.5,516.2 680.5,516.7 680.5,528.5 679.5,528 678.5,527.5 677.5,527 676.5,526.4 675.5,525.9 674.5,525.4 673.5,524.9 672.5,524.4 671.5,523.9 670.5,523.3 669.5,522.8 668.5,522.3 667.5,521.8 666.5,521.2"/>
<polygon fill="#00cc00" points="82.5,153 83.5,153.8 84.5,154.6 85.5,155.4 86.5,156.2 87.5,157 88.5,157.8 89.5,158.6 90.5,159.4 91.5,160.2 92.5,161 93.5,161.8 94.5,162.6 95.5,163.4 96.5,164.2 97.5,164.9 98.5,165.7 99.5,166.5 100.5,167.3 100.9,167.6 100.9,181 100.5,180.7 99.5,180 98.5,179.2 97.5,178.4 96.5,177.6 95.5,176.8 94.5,176 93.5,175.2 92.5,174.4 91.5,173.6 90.5,172.8 89.5,172 88.5,171.2 87.5,170.4 86.5,169.6 85.5,168.8 84.5,168 83.5,167.2 82.5,166.4"/>
<polygon fill="#00cc00" points="119,178.7 119.5,179 120.5,179.7 121.5,180.3 122.5,181 123.5,181.6 124.5,182.3 125.5,182.9 126.5,183.6 127.5,184.3 128.5,185 129.5,185.7 130.5,186.4 131.5,187 132.5,187.7 133.5,188.5 134.5,189.2 135.5,189.9 136.5,190.6 137.4,191.2 137.4,203.9 136.5,203.3 135.5,202.6 134.5,201.9 133.5,201.2 132.5,200.5 131.5,199.8 130.5,199.1 129.5,198.4 128.5,197.7 127.5,197 126.5,196.3 125.5,195.6 124.5,195 123.5,194.3 122.5,193.7 121.5,193 120.5,192.4 119.5,191.7 119,191.4"/>
<polygon fill="#00cc00" points="155.5,204.1 156.5,204.8 157.5,205.5 158.5,206.2 159.5,206.9 160.5,207.6 161.5,208.3 162.5,209 163.5,209.7 164.5,210.4 165.5,211.1 166.5,211.8 167.5,212.5 168.5,213.1 169.5,213.8 170.5,214.5 171.5,215.2 172.5,215.8 173.5,216.5 173.9,216.8 173.9,229.5 173.5,229.3 172.5,228.6 171.5,227.9 170.5,227.2 169.5,226.6 168.5,225.9 167.5,225.2 166.5,224.5 165.5,223.8 164.5,223.2 163.5,222.5 162.5,221.8 161.5,221.1 160.5,220.4 159.5,219.7 158.5,219 157.5,218.3 156.5,217.6 155.5,216.9"/>
<polygon fill="#00cc00" points="192,229 192.5,229.3 193.5,230 194.5,230.6 195.5,231.3 196.5,232 197.5,232.7 198.5,233.3 199.5,234 200.5,234.7 201.5,235.3 202.5,236 203.5,236.7 204.5,237.3 205.5,238 206.5,238.7 207.5,239.3 208.5,240 209.5,240.7 210.4,241.3 210.4,253.9 209.5,253.3 208.5,252.6 207.5,252 206.5,251.3 205.5,250.6 204.5,250 203.5,249.3 202.5,248.6 201.5,248 200.5,247.3 199.5,246.6 198.5,246 197.5,245.3 196.5,244.6 195.5,243.9 194.5,243.3 193.5,242.6 192.5,241.9 192,241.6"/>
<polygon fill="#00cc00" points="228.5,253.1 229.5,253.7 230.5,254.3 231.5,254.9 232.5,255.6 233.5,256.2 234.5,256.8 235.5,257.4 236.5,258 237.5,258.7 238.5,259.3 239.5,259.9 240.5,260.5 241.5,261.1 242.5,261.7 243.5,262.3 244.5,262.9 245.5,263.6 246.5,264.2 246.9,264.4 246.9,276.7 246.5,276.5 245.5,275.9 244.5,275.3 243.5,274.7 242.5,274.1 241.5,273.4 240.5,272.8 239.5,272.2 238.5,271.6 237.5,271 236.5,270.4 235.5,269.8 234.5,269.1 233.5,268.5 232.5,267.9 231.5,267.3 230.5,266.7 229.5,266 228.5,265.4"/>
<polygon fill="#00cc00" points="265,275.4 265.5,275.7 266.5,276.4 267.5,277 268.5,277.6 269.5,278.2 270.5,278.8 271.5,279.4 272.5,280.1 273.5,280.7 274.5,281.3 275.5,281.9 276.5,282.5 277.5,283.2 278.5,283.8 279.5,284.4 280.5,285.1 281.5,285.7 282.5,286.3 283.4,286.9 283.4,299.3 282.5,298.7 281.5,298.1 280.5,297.4 279.5,296.8 278.5,296.2 277.5,295.6 276.5,294.9 275.5,294.3 274.5,293.7 273.5,293.1 272.5,292.4 271.5,291.8 270.5,291.2 269.5,290.6 268.5,290 267.5,289.4 266.5,288.7 265.5,288.1 265,287.8"/>
<polygon fill="#00cc00" points="301.5,299.1 302.5,299.8 303.5,300.5 304.5,301.3 305.5,302 306.5,302.7 307.5,303.4 308.5,304.2 309.5,304.9 310.5,305.6 311.5,306.4 312.5,307.1 313.5,307.9 314.5,308.6 315.5,309.3 316.5,310.1 317.5,310.8 318.5,311.6 319.5,312.3 319.9,312.6 319.9,325.6 319.5,325.3 318.5,324.6 317.5,323.9 316.5,323.1 315.5,322.4 314.5,321.6 313.5,320.9 312.5,320.1 311.5,319.4 310.5,318.7 309.5,317.9 308.5,317.2 307.5,316.5 306.5,315.7 305.5,315 304.5,314.3 303.5,313.6 302.5,312.8 301.5,312.1"/>
<polygon fill="#00cc00" points="338,326.2 338.5,326.6 339.5,327.4 340.5,328.1 341.5,328.8 342.5,329.4 343.5,330.1 344.5,330.8 345.5,331.5 346.5,332.2 347.5,332.9 348.5,333.5 349.5,334.2 350.5,334.9 351.5,335.6 352.5,336.3 353.5,337 354.5,337.6 355.5,338.3 356.4,338.9 356.4,351.7 355.5,351.1 354.5,350.4 353.5,349.7 352.5,349 351.5,348.4 350.5,347.7 349.5,347 348.5,346.3 347.5,345.6 346.5,344.9 345.5,344.3 344.5,343.6 343.5,342.9 342.5,342.2 341.5,341.5 340.5,340.8 339.5,340.1 338.5,339.4 338,339"/>
<polygon fill="#00cc00" points="374.5,351.3 375.5,352 376.5,352.7 377.5,353.3 378.5,354 379.5,354.7 380.5,355.4 381.5,356.1 382.5,356.7 383.5,357.4 384.5,358.1 385.5,358.8 386.5,359.5 387.5,360.1 388.5,360.8 389.5,361.5 390.5,362.2 391.5,362.9 392.5,363.5 392.9,363.8 392.9,376.5 392.5,376.2 391.5,375.5 390.5,374.9 389.5,374.2 388.5,373.5 387.5,372.8 386.5,372.2 385.5,371.5 384.5,370.8 383.5,370.1 382.5,369.4 381.5,368.8 380.5,368.1 379.5,367.4 378.5,366.7 377.5,366 376.5,365.4 375.5,364.7 374.5,364"/>
<polygon fill="#00cc00" points="411,375.9 411.5,376.2 412.5,376.8 413.5,377.5 414.5,378.1 415.5,378.7 416.5,379.4 417.5,380 418.5,380.6 419.5,381.3 420.5,381.9 421.5,382.5 422.5,383.2 423.5,383.8 424.5,384.4 425.5,385 426.5,385.7 427.5,386.3 428.5,386.9 429.4,387.5 429.4,399.9 428.5,399.3 427.5,398.7 426.5,398.1 425.5,397.5 424.5,396.8 423.5,396.2 422.5,395.6 421.5,394.9 420.5,394.3 419.5,393.7 418.5,393.1 417.5,392.4 416.5,391.8 415.5,391.2 414.5,390.5 413.5,389.9 412.5,389.2 411.5,388.6 411,388.3"/>
<polygon fill="#00cc00" points="447.5,398.8 448.5,399.5 449.5,400.1 450.5,400.8 451.5,401.4 452.5,402.1 453.5,402.8 454.5,403.4 455.5,404.1 456.5,404.8 457.5,405.4 458.5,406.1 459.5,406.8 460.5,407.4 461.5,408.1 462.5,408.8 463.5,409.5 464.5,410.1 465.5,410.8 465.9,411.1 465.9,423.7 465.5,423.4 464.5,422.7 463.5,422.1 462.5,421.4 461.5,420.7 460.5,420.1 459.5,419.4 458.5,418.7 457.5,418 456.5,417.4 455.5,416.7 454.5,416 453.5,415.4 452.5,414.7 451.5,414.1 450.5,413.4 449.5,412.7 448.5,412.1 447.5,411.4"/>
<polygon fill="#00cc00" points="484,422.9 484.5,423.2 485.5,423.8 486.5,424.3 487.5,424.9 488.5,425.5 489.5,426.1 490.5,426.7 491.5,427.2 492.5,427.8 493.5,428.4 494.5,428.9 495.5,429.5 496.5,430.1 497.5,430.6 498.5,431.2 499.5,431.7 500.5,432.3 501.5,432.8 502.4,433.3 502.4,445.4 501.5,444.9 500.5,444.4 499.5,443.8 498.5,443.3 497.5,442.7 496.5,442.1 495.5,441.6 494.5,441 493.5,440.5 492.5,439.9 491.5,439.3 490.5,438.8 489.5,438.2 488.5,437.6 487.5,437 486.5,436.4 485.5,435.8 484.5,435.2 484,434.9"/>
<polygon fill="#00cc00" points="520.5,443.3 521.5,443.8 522.5,444.4 523.5,444.9 524.5,445.4 525.5,446 526.5,446.5 527.5,447.1 528.5,447.6 529.5,448.2 530.5,448.7 531.5,449.3 532.5,449.8 533.5,450.3 534.5,450.9 535.5,451.4 536.5,452 537.5,452.5 538.5,453.1 538.9,453.3 538.9,465.2 538.5,465 537.5,464.5 536.5,463.9 535.5,463.4 534.5,462.8 533.5,462.3 532.5,461.8 531.5,461.2 530.5,460.7 529.5,460.1 528.5,459.6 527.5,459 526.5,458.5 525.5,457.9 524.5,457.4 523.5,456.9 522.5,456.3 521.5,455.8 520.5,455.2"/>
<polygon fill="#00cc00" points="557,463 557.5,463.2 558.5,463.7 559.5,464.3 560.5,464.8 561.5,465.3 562.5,465.8 563.5,466.4 564.5,466.9 565.5,467.4 566.5,468 567.5,468.5 568.5,469 569.5,469.5 570.5,470.1 571.5,470.6 572.5,471.1 573.5,471.6 574.5,472.1 575.4,472.6 575.4,484.5 574.5,484 573.5,483.5 572.5,483 571.5,482.5 570.5,481.9 569.5,481.4 568.5,480.9 567.5,480.4 566.5,479.8 565.5,479.3 564.5,478.8 563.5,478.2 562.5,477.7 561.5,477.2 560.5,476.6 559.5,476.1 558.5,475.6 557.5,475.1 557,474.8"/>
<polygon fill="#00cc00" points="593.5,481.8 594.5,482.3 595.5,482.8 596.5,483.3 597.5,483.7 598.5,484.2 599.5,484.7 600.5,485.2 601.5,485.7 602.5,486.1 603.5,486.6 604.5,487.1 605.5,487.6 606.5,488 607.5,488.5 608.5,489 609.5,489.4 610.5,489.9 611.5,490.3 611.9,490.5 611.9,502.1 611.5,502 610.5,501.5 609.5,501 608.5,500.6 607.5,500.1 606.5,499.6 605.5,499.2 604.5,498.7 603.5,498.2 602.5,497.8 601.5,497.3 600.5,496.8 599.5,496.3 598.5,495.8 597.5,495.4 596.5,494.9 595.5,494.4 594.5,493.9 593.5,493.4"/>
<polygon fill="#00cc00" points="630,498.7 630.5,498.9 631.5,499.4 632.5,499.8 633.5,500.2 634.5,500.6 635.5,501 636.5,501.5 637.5,501.9 638.5,502.3 639.5,502.7 640.5,503.1 641.5,503.5 642.5,503.9 643.5,504.4 644.5,504.8 645.5,505.2 646.5,505.6 647.5,506 648.4,506.3 648.4,517.7 647.5,517.3 646.5,516.9 645.5,516.5 644.5,516.1 643.5,515.7 642.5,515.3 641.5,514.9 640.5,514.5 639.5,514.1 638.5,513.7 637.5,513.2 636.5,512.8 635.5,512.4 634.5,512 633.5,511.6 632.5,511.1 631.5,510.7 630.5,510.3 630,510.1"/>
<polygon fill="#00cc00" points="666.5,513.3 667.5,513.7 668.5,514.1 669.5,514.4 670.5,514.8 671.5,515.1 672.5,515.5 673.5,515.8 674.5,516.2 675.5,516.5 676.5,516.9 677.5,517.2 678.5,517.6 679.5,517.9 680.5,518.2 680.5,529.4 679.5,529 678.5,528.7 677.5,528.4 676.5,528 675.5,527.7 674.5,527.3 673.5,527 672.5,526.6 671.5,526.3 670.5,525.9 669.5,525.5 668.5,525.2 667.5,524.8 666.5,524.5"/>
<polygon fill="#00cc00" points="89.2,89.2 90.2,90.4 91.2,91.7 92.2,92.9 93.2,94.2 94.2,95.4 95.2,96.7 96.2,97.9 97.2,99.2 98.2,100.4 99.2,101.7 100.2,102.9 101.2,104.2 102.2,105.4 103.2,106.7 103.9,107.6 90.5,107.6 89.8,106.7 88.8,105.4 87.8,104.2 86.8,102.9 85.8,101.7 84.8,100.4 83.8,99.2 82.8,97.9 81.8,96.7 80.8,95.4 79.8,94.2 78.8,92.9 77.8,91.7 76.8,90.4 75.8,89.2"/>
<polygon fill="#00cc00" points="120.1,125.7 120.6,126.2 121.6,127.3 122.6,128.4 123.6,129.5 124.6,130.7 125.6,131.8 126.6,132.9 127.6,134 128.6,135.1 129.6,136.1 130.6,137.2 131.6,138.3 132.6,139.4 133.6,140.5 134.6,141.6 135.6,142.6 136.6,143.7 137,144.1 122.7,144.1 122.4,143.7 121.4,142.6 120.4,141.6 119.4,140.5 118.4,139.4 117.4,138.3 116.4,137.2 115.4,136.1 114.4,135.1 113.4,134 112.4,132.9 111.4,131.8 110.4,130.7 109.4,129.5 108.4,128.4 107.4,127.3 106.4,126.2 105.9,125.7"/>
<polygon fill="#00cc00" points="154.9,162.1 155.9,163.1 156.9,164.1 157.9,165.1 158.9,166 159.9,167 160.9,168 161.9,169 162.9,170 163.9,171 164.9,172 165.9,173 166.9,174 167.9,175 168.9,176 169.9,177 170.9,178.1 171.9,179.1 172.9,180.2 173.1,180.4 158.3,180.4 158.1,180.2 157.1,179.1 156.1,178.1 155.1,177 154.1,176 153.1,175 152.1,174 151.1,173 150.1,172 149.1,171 148.1,170 147.1,169 146.1,168 145.1,167 144.1,166 143.1,165.1 142.1,164.1 141.1,163.1 140.1,162.1"/>
<polygon fill="#00cc00" points="189.5,198.5 189.6,198.6 190.6,199.7 191.6,200.8 192.6,201.9 193.6,203 194.6,204.1 195.6,205.2 196.6,206.3 197.6,207.5 198.6,208.6 199.6,209.7 200.6,210.8 201.6,211.9 202.6,213 203.6,214 204.6,215.1 205.6,216.2 206.3,216.9 192.1,216.9 191.4,216.2 190.4,215.1 189.4,214 188.4,213 187.4,211.9 186.4,210.8 185.4,209.7 184.4,208.6 183.4,207.5 182.4,206.3 181.4,205.2 180.4,204.1 179.4,203 178.4,201.9 177.4,200.8 176.4,199.7 175.4,198.6 175.4,198.5"/>
<polygon fill="#00cc00" points="217,227.6 217.5,228.1 218.5,229.1 219.5,230 220.5,231 221.5,231.9 222.5,232.9 223.5,233.8 224.5,234.7 225.5,235.7 226.5,236.6 227.5,237.6 228.5,238.5 229.5,239.4 230.5,240.3 231.5,241.3 232.5,242.2 233.5,243.1 234.5,244 235.4,244.8 235.4,259.2 234.5,258.4 233.5,257.5 232.5,256.6 231.5,255.6 230.5,254.7 229.5,253.8 228.5,252.9 227.5,251.9 226.5,251 225.5,250.1 224.5,249.1 223.5,248.2 222.5,247.2 221.5,246.3 220.5,245.3 219.5,244.4 218.5,243.4 217.5,242.5 217,242"/>
<polygon fill="#00cc00" points="253.5,260.9 254.5,261.7 255.5,262.6 256.5,263.5 257.5,264.4 258.5,265.3 259.5,266.2 260.5,267.1 261.5,268 262.5,268.9 263.5,269.8 264.5,270.7 265.5,271.6 266.5,272.5 267.5,273.4 268.5,274.4 269.5,275.3 270.5,276.2 271.5,277.1 271.9,277.5 271.9,291.6 271.5,291.3 270.5,290.3 269.5,289.4 268.5,288.5 267.5,287.6 266.5,286.7 265.5,285.7 264.5,284.8 263.5,283.9 262.5,283 261.5,282.1 260.5,281.2 259.5,280.3 258.5,279.4 257.5,278.5 256.5,277.7 255.5,276.8 254.5,275.9 253.5,275"/>
<polygon fill="#00cc00" points="290,294 290.5,294.4 291.5,295.3 292.5,296.2 293.5,297.1 294.5,298 295.5,298.9 296.5,299.8 297.5,300.6 298.5,301.5 299.5,302.4 300.5,303.3 301.5,304.2 302.5,305.1 303.5,306 304.5,306.9 305.5,307.8 306.5,308.6 307.5,309.5 308.4,310.3 308.4,324.4 307.5,323.6 306.5,322.7 305.5,321.8 304.5,320.9 303.5,320 302.5,319.1 301.5,318.2 300.5,317.4 299.5,316.5 298.5,315.6 297.5,314.7 296.5,313.8 295.5,312.9 294.5,312 293.5,311.1 292.5,310.3 291.5,309.4 290.5,308.5 290,308"/>
<polygon fill="#00cc00" points="326.5,326.5 327.5,327.3 328.5,328.2 329.5,329.1 330.5,329.9 331.5,330.8 332.5,331.7 333.5,332.5 334.5,333.4 335.5,334.2 336.5,335.1 337.5,335.9 338.5,336.8 339.5,337.6 340.5,338.5 341.5,339.3 342.5,340.1 343.5,341 344.5,341.8 344.9,342.1 344.9,355.9 344.5,355.6 343.5,354.8 342.5,353.9 341.5,353.1 340.5,352.2 339.5,351.4 338.5,350.6 337.5,349.7 336.5,348.9 335.5,348 334.5,347.2 333.5,346.3 332.5,345.4 331.5,344.6 330.5,343.7 329.5,342.9 328.5,342 327.5,341.1 326.5,340.3"/>
<polygon fill="#00cc00" points="363,357 363.5,357.4 364.5,358.2 365.5,359 366.5,359.8 367.5,360.6 368.5,361.3 369.5,362.1 370.5,362.9 371.5,363.6 372.5,364.4 373.5,365.2 374.5,365.9 375.5,366.7 376.5,367.4 377.5,368.2 378.5,368.9 379.5,369.7 380.5,370.4 381.4,371.1 381.4,384.3 380.5,383.6 379.5,382.9 378.5,382.1 377.5,381.4 376.5,380.6 375.5,379.9 374.5,379.1 373.5,378.4 372.5,377.6 371.5,376.8 370.5,376.1 369.5,375.3 368.5,374.5 367.5,373.8 366.5,373 365.5,372.2 364.5,371.4 363.5,370.6 363,370.3"/>
<polygon fill="#00cc00" points="399.5,384.3 400.5,385 401.5,385.7 402.5,386.4 403.5,387.1 404.5,387.8 405.5,388.5 406.5,389.2 407.5,389.9 408.5,390.6 409.5,391.2 410.5,391.9 411.5,392.6 412.5,393.3 413.5,394 414.5,394.7 415.5,395.4 416.5,396.1 417.5,396.8 417.9,397.1 417.9,409.8 417.5,409.6 416.5,408.9 415.5,408.2 414.5,407.5 413.5,406.8 412.5,406.1 411.5,405.4 410.5,404.7 409.5,404 408.5,403.3 407.5,402.6 406.5,401.9 405.5,401.3 404.5,400.6 403.5,399.9 402.5,399.2 401.5,398.5 400.5,397.8 399.5,397.1"/>
<polygon fill="#00cc00" points="436,409.7 436.5,410.1 437.5,410.8 438.5,411.5 439.5,412.2 440.5,412.9 441.5,413.6 442.5,414.3 443.5,415 444.5,415.7 445.5,416.3 446.5,417 447.5,417.7 448.5,418.4 449.5,419.1 450.5,419.8 451.5,420.4 452.5,421.1 453.5,421.8 454.4,422.4 454.4,435.2 453.5,434.5 452.5,433.9 451.5,433.2 450.5,432.5 449.5,431.8 448.5,431.2 447.5,430.5 446.5,429.8 445.5,429.1 444.5,428.4 443.5,427.7 442.5,427 441.5,426.3 440.5,425.6 439.5,424.9 438.5,424.2 437.5,423.5 436.5,422.8 436,422.5"/>
<polygon fill="#00cc00" points="472.5,434.4 473.5,435.1 474.5,435.7 475.5,436.3 476.5,437 477.5,437.6 478.5,438.2 479.5,438.9 480.5,439.5 481.5,440.1 482.5,440.7 483.5,441.3 484.5,442 485.5,442.6 486.5,443.2 487.5,443.8 488.5,444.4 489.5,445.1 490.5,445.7 490.9,445.9 490.9,458.3 490.5,458 489.5,457.4 488.5,456.8 487.5,456.2 486.5,455.6 485.5,455 484.5,454.3 483.5,453.7 482.5,453.1 481.5,452.5 480.5,451.9 479.5,451.2 478.5,450.6 477.5,450 476.5,449.3 475.5,448.7 474.5,448.1 473.5,447.4 472.5,446.8"/>
<polygon fill="#00cc00" points="509,456.9 509.5,457.2 510.5,457.8 511.5,458.3 512.5,458.9 513.5,459.5 514.5,460.1 515.5,460.6 516.5,461.2 517.5,461.8 518.5,462.4 519.5,462.9 520.5,463.5 521.5,464.1 522.5,464.6 523.5,465.2 524.5,465.8 525.5,466.3 526.5,466.9 527.4,467.4 527.4,479.5 526.5,479 525.5,478.4 524.5,477.8 523.5,477.3 522.5,476.7 521.5,476.2 520.5,475.6 519.5,475 518.5,474.5 517.5,473.9 516.5,473.3 515.5,472.7 514.5,472.2 513.5,471.6 512.5,471 511.5,470.4 510.5,469.8 509.5,469.3 509,469"/>
<polygon fill="#00cc00" points="545.5,477.2 546.5,477.7 547.5,478.2 548.5,478.7 549.5,479.2 550.5,479.7 551.5,480.2 552.5,480.7 553.5,481.2 554.5,481.7 555.5,482.2 556.5,482.7 557.5,483.1 558.5,483.6 559.5,484.1 560.5,484.6 561.5,485.1 562.5,485.5 563.5,486 563.9,486.2 563.9,497.9 563.5,497.7 562.5,497.2 561.5,496.7 560.5,496.3 559.5,495.8 558.5,495.3 557.5,494.8 556.5,494.3 555.5,493.9 554.5,493.4 553.5,492.9 552.5,492.4 551.5,491.9 550.5,491.4 549.5,490.9 548.5,490.4 547.5,489.9 546.5,489.4 545.5,488.9"/>
<polygon fill="#00cc00" points="582,494.6 582.5,494.8 583.5,495.3 584.5,495.7 585.5,496.2 586.5,496.6 587.5,497 588.5,497.5 589.5,497.9 590.5,498.3 591.5,498.8 592.5,499.2 593.5,499.6 594.5,500 595.5,500.4 596.5,500.9 597.5,501.3 598.5,501.7 599.5,502.1 600.4,502.5 600.4,513.9 599.5,513.5 598.5,513.1 597.5,512.7 596.5,512.3 595.5,511.9 594.5,511.4 593.5,511 592.5,510.6 591.5,510.2 590.5,509.7 589.5,509.3 588.5,508.9 587.5,508.5 586.5,508 585.5,507.6 584.5,507.1 583.5,506.7 582.5,506.3 582,506"/>
<polygon fill="#00cc00" points="618.5,509.7 619.5,510.1 620.5,510.4 621.5,510.8 622.5,511.2 623.5,511.5 624.5,511.9 625.5,512.3 626.5,512.6 627.5,513 628.5,513.3 629.5,513.7 630.5,514 631.5,514.4 632.5,514.7 633.5,515.1 634.5,515.4 635.5,515.8 636.5,516.1 636.9,516.2 636.9,527.4 636.5,527.2 635.5,526.9 634.5,526.6 633.5,526.2 632.5,525.9 631.5,525.5 630.5,525.2 629.5,524.8 628.5,524.5 627.5,524.1 626.5,523.8 625.5,523.4 624.5,523 623.5,522.7 622.5,522.3 621.5,521.9 620.5,521.6 619.5,521.2 618.5,520.8"/>
<polygon fill="#00cc00" points="655,522.2 655.5,522.3 656.5,522.7 657.5,523 658.5,523.3 659.5,523.6 660.5,523.8 661.5,524.1 662.5,524.4 663.5,524.7 664.5,525 665.5,525.3 666.5,525.6 667.5,525.9 668.5,526.2 669.5,526.4 670.5,526.7 671.5,527 672.5,527.3 673.4,527.5 673.4,538.4 672.5,538.2 671.5,537.9 670.5,537.6 669.5,537.4 668.5,537.1 667.5,536.8 666.5,536.5 665.5,536.2 664.5,535.9 663.5,535.7 662.5,535.4 661.5,535.1 660.5,534.8 659.5,534.5 658.5,534.2 657.5,533.9 656.5,533.6 655.5,533.3 655,533.1"/>
<polygon fill="#00cc00" points="88.6,4.6 89.6,6.2 90.6,7.9 91.6,9.6 92.6,11.3 93.6,13 94.6,14.7 95.6,16.4 96.6,18.1 97.6,19.8 98.6,21.6 99.4,23 87.2,23 86.4,21.6 85.4,19.8 84.4,18.1 83.4,16.4 82.4,14.7 81.4,13 80.4,11.3 79.4,9.6 78.4,7.9 77.4,6.2 76.4,4.6"/>
<polygon fill="#00cc00" points="109.6,41.1 110.5,42.7 111.5,44.5 112.5,46.2 113.5,48 114.5,49.8 115.5,51.5 116.5,53.3 117.5,55.1 118.5,56.8 119.5,58.6 120.1,59.5 108,59.5 107.5,58.6 106.5,56.8 105.5,55.1 104.5,53.3 103.5,51.5 102.5,49.8 101.5,48 100.5,46.2 99.5,44.5 98.5,42.7 97.5,41.1"/>
<polygon fill="#00cc00" points="130.8,77.6 131.6,79 132.6,80.7 133.6,82.3 134.6,84 135.6,85.7 136.6,87.3 137.6,89 138.6,90.6 139.6,92.3 140.6,94 141.6,95.6 141.8,96 129.6,96 129.4,95.6 128.4,94 127.4,92.3 126.4,90.6 125.4,89 124.4,87.3 123.4,85.7 122.4,84 121.4,82.3 120.4,80.7 119.4,79 118.5,77.6"/>
<polygon fill="#00cc00" points="152.4,114.1 152.6,114.4 153.6,116.1 154.6,117.8 155.6,119.6 156.6,121.3 157.6,123 158.6,124.7 159.6,126.4 160.6,128.1 161.6,129.7 162.6,131.4 163.2,132.5 151,132.5 150.4,131.4 149.4,129.7 148.4,128.1 147.4,126.4 146.4,124.7 145.4,123 144.4,121.3 143.4,119.6 142.4,117.8 141.4,116.1 140.4,114.4 140.2,114.1"/>
<polygon fill="#00cc00" points="175.2,150.6 175.9,151.6 176.9,153 177.9,154.5 178.9,155.9 179.9,157.3 180.9,158.7 181.9,160.2 182.9,161.6 183.9,163 184.9,164.4 185.9,165.8 186.9,167.2 187.9,168.6 188.2,169 175.3,169 175.1,168.6 174.1,167.2 173.1,165.8 172.1,164.4 171.1,163 170.1,161.6 169.1,160.2 168.1,158.7 167.1,157.3 166.1,155.9 165.1,154.5 164.1,153 163.1,151.6 162.4,150.6"/>
<polygon fill="#00cc00" points="201.2,187.1 202,188.1 203,189.5 204,190.9 205,192.3 206,193.7 207,195.1 208,196.5 209,197.9 210,199.3 211,200.6 212,202 213,203.4 214,204.8 214.4,205.5 201.5,205.5 201,204.8 200,203.4 199,202 198,200.6 197,199.3 196,197.9 195,196.5 194,195.1 193,193.7 192,192.3 191,190.9 190,189.5 189,188.1 188.3,187.1"/>
<polygon fill="#00cc00" points="227.9,223.6 228.1,223.9 229.1,225.2 230.1,226.5 231.1,227.9 232.1,229.2 233.1,230.5 234.1,231.8 235.1,233.1 236.1,234.4 237.1,235.7 238.1,237 239.1,238.3 240.1,239.6 241.1,240.9 241.9,242 228.7,242 227.9,240.9 226.9,239.6 225.9,238.3 224.9,237 223.9,235.7 222.9,234.4 221.9,233.1 220.9,231.8 219.9,230.5 218.9,229.2 217.9,227.9 216.9,226.5 215.9,225.2 214.9,223.9 214.7,223.6"/>
<polygon fill="#00cc00" points="256.5,260.1 257.3,261.1 258.3,262.3 259.3,263.5 260.3,264.8 261.3,266 262.3,267.2 263.3,268.4 264.3,269.6 265.3,270.9 266.3,272.1 267.3,273.3 268.3,274.5 269.3,275.7 270.3,276.9 271.3,278 271.7,278.5 258,278.5 257.7,278 256.7,276.9 255.7,275.7 254.7,274.5 253.7,273.3 252.7,272.1 251.7,270.9 250.7,269.6 249.7,268.4 248.7,267.2 247.7,266 246.7,264.8 245.7,263.5 244.7,262.3 243.7,261.1 242.9,260.1"/>
<polygon fill="#00cc00" points="287.5,296.6 287.6,296.6 288.6,297.8 289.6,298.9 290.6,300 291.6,301.2 292.6,302.3 293.6,303.4 294.6,304.5 295.6,305.6 296.6,306.7 297.6,307.8 298.6,308.9 299.6,310 300.6,311.1 301.6,312.2 302.6,313.3 303.6,314.4 304.1,315 289.9,315 289.4,314.4 288.4,313.3 287.4,312.2 286.4,311.1 285.4,310 284.4,308.9 283.4,307.8 282.4,306.7 281.4,305.6 280.4,304.5 279.4,303.4 278.4,302.3 277.4,301.2 276.4,300 275.4,298.9 274.4,297.8 273.4,296.6 273.4,296.6"/>
<polygon fill="#00cc00" points="321.5,333.1 321.9,333.5 322.9,334.5 323.9,335.5 324.9,336.5 325.9,337.6 326.9,338.6 327.9,339.6 328.9,340.6 329.9,341.6 330.9,342.6 331.9,343.6 332.9,344.6 333.9,345.6 334.9,346.6 335.9,347.6 336.9,348.6 337.9,349.6 338.9,350.5 339.8,351.4 324.9,351.4 324.1,350.5 323.1,349.6 322.1,348.6 321.1,347.6 320.1,346.6 319.1,345.6 318.1,344.6 317.1,343.6 316.1,342.6 315.1,341.6 314.1,340.6 313.1,339.6 312.1,338.6 311.1,337.6 310.1,336.5 309.1,335.5 308.1,334.5 307.1,333.5 306.7,333.1"/>
<polygon fill="#00cc00" points="350.4,361.5 350.5,361.6 351.5,362.5 352.5,363.4 353.5,364.3 354.5,365.2 355.5,366.2 356.5,367.1 357.5,368 358.5,368.9 359.5,369.8 360.5,370.7 361.5,371.6 362.5,372.5 363.5,373.3 364.5,374.2 365.5,375.1 366.5,376 367.5,376.9 368.5,377.8 368.8,378.1 368.8,392.2 368.5,391.9 367.5,391 366.5,390.1 365.5,389.2 364.5,388.3 363.5,387.5 362.5,386.6 361.5,385.7 360.5,384.8 359.5,383.9 358.5,383 357.5,382.1 356.5,381.2 355.5,380.3 354.5,379.4 353.5,378.4 352.5,377.5 351.5,376.6 350.5,375.7 350.4,375.6"/>
<polygon fill="#00cc00" points="386.9,393.7 387.5,394.2 388.5,395 389.5,395.8 390.5,396.7 391.5,397.5 392.5,398.3 393.5,399.1 394.5,399.9 395.5,400.7 396.5,401.5 397.5,402.3 398.5,403.1 399.5,403.9 400.5,404.7 401.5,405.4 402.5,406.2 403.5,407 404.5,407.8 405.3,408.4 405.3,421.9 404.5,421.2 403.5,420.5 402.5,419.7 401.5,418.9 400.5,418.1 399.5,417.3 398.5,416.5 397.5,415.7 396.5,414.9 395.5,414.1 394.5,413.3 393.5,412.5 392.5,411.7 391.5,410.9 390.5,410.1 389.5,409.3 388.5,408.5 387.5,407.6 386.9,407.2"/>
<polygon fill="#00cc00" points="423.4,422.3 423.5,422.4 424.5,423.1 425.5,423.8 426.5,424.6 427.5,425.3 428.5,426 429.5,426.7 430.5,427.4 431.5,428.1 432.5,428.8 433.5,429.5 434.5,430.3 435.5,431 436.5,431.7 437.5,432.3 438.5,433 439.5,433.7 440.5,434.4 441.5,435.1 441.8,435.3 441.8,448.2 441.5,448 440.5,447.3 439.5,446.6 438.5,445.9 437.5,445.2 436.5,444.5 435.5,443.8 434.5,443.1 433.5,442.4 432.5,441.7 431.5,441 430.5,440.3 429.5,439.6 428.5,438.9 427.5,438.1 426.5,437.4 425.5,436.7 424.5,436 423.5,435.2 423.4,435.2"/>
<polygon fill="#00cc00" points="459.9,447.6 460.5,447.9 461.5,448.6 462.5,449.2 463.5,449.8 464.5,450.5 465.5,451.1 466.5,451.7 467.5,452.3 468.5,453 469.5,453.6 470.5,454.2 471.5,454.8 472.5,455.4 473.5,456 474.5,456.7 475.5,457.3 476.5,457.9 477.5,458.5 478.3,459 478.3,471.3 477.5,470.8 476.5,470.2 475.5,469.6 474.5,469 473.5,468.4 472.5,467.8 471.5,467.2 470.5,466.6 469.5,465.9 468.5,465.3 467.5,464.7 466.5,464.1 465.5,463.4 464.5,462.8 463.5,462.2 462.5,461.6 461.5,460.9 460.5,460.3 459.9,459.9"/>
<polygon fill="#00cc00" points="496.4,469.7 496.5,469.7 497.5,470.2 498.5,470.8 499.5,471.4 500.5,471.9 501.5,472.5 502.5,473 503.5,473.5 504.5,474.1 505.5,474.6 506.5,475.2 507.5,475.7 508.5,476.2 509.5,476.8 510.5,477.3 511.5,477.8 512.5,478.4 513.5,478.9 514.5,479.4 514.8,479.6 514.8,491.5 514.5,491.3 513.5,490.8 512.5,490.3 511.5,489.8 510.5,489.2 509.5,488.7 508.5,488.2 507.5,487.6 506.5,487.1 505.5,486.6 504.5,486 503.5,485.5 502.5,484.9 501.5,484.4 500.5,483.8 499.5,483.3 498.5,482.7 497.5,482.2 496.5,481.6 496.4,481.6"/>
<polygon fill="#00cc00" points="532.9,488.8 533.5,489.1 534.5,489.6 535.5,490.1 536.5,490.5 537.5,491 538.5,491.5 539.5,492 540.5,492.4 541.5,492.9 542.5,493.4 543.5,493.8 544.5,494.3 545.5,494.8 546.5,495.2 547.5,495.7 548.5,496.1 549.5,496.6 550.5,497 551.3,497.4 551.3,509 550.5,508.6 549.5,508.2 548.5,507.7 547.5,507.3 546.5,506.8 545.5,506.3 544.5,505.9 543.5,505.4 542.5,505 541.5,504.5 540.5,504 539.5,503.6 538.5,503.1 537.5,502.6 536.5,502.1 535.5,501.7 534.5,501.2 533.5,500.7 532.9,500.4"/>
<polygon fill="#00cc00" points="569.4,505.4 569.5,505.4 570.5,505.8 571.5,506.2 572.5,506.6 573.5,507 574.5,507.4 575.5,507.8 576.5,508.2 577.5,508.6 578.5,509 579.5,509.4 580.5,509.8 581.5,510.2 582.5,510.6 583.5,511 584.5,511.4 585.5,511.8 586.5,512.2 587.5,512.6 587.8,512.7 587.8,524 587.5,523.9 586.5,523.5 585.5,523.1 584.5,522.7 583.5,522.3 582.5,521.9 581.5,521.5 580.5,521.1 579.5,520.7 578.5,520.3 577.5,519.9 576.5,519.5 575.5,519.1 574.5,518.7 573.5,518.3 572.5,517.9 571.5,517.5 570.5,517.1 569.5,516.7 569.4,516.7"/>
<polygon fill="#00cc00" points="605.9,519.4 606.5,519.6 607.5,520 608.5,520.3 609.5,520.7 610.5,521 611.5,521.4 612.5,521.7 613.5,522.1 614.5,522.4 615.5,522.7 616.5,523.1 617.5,523.4 618.5,523.7 619.5,524.1 620.5,524.4 621.5,524.7 622.5,525.1 623.5,525.4 624.3,525.7 624.3,536.7 623.5,536.5 622.5,536.1 621.5,535.8 620.5,535.5 619.5,535.2 618.5,534.8 617.5,534.5 616.5,534.2 615.5,533.8 614.5,533.5 613.5,533.1 612.5,532.8 611.5,532.5 610.5,532.1 609.5,531.8 608.5,531.4 607.5,531.1 606.5,530.7 605.9,530.5"/>
<polygon fill="#00cc00" points="642.4,531.3 642.5,531.4 643.5,531.7 644.5,532 645.5,532.2 646.5,532.5 647.5,532.8 648.5,533.1 649.5,533.4 650.5,533.7 651.5,534 652.5,534.3 653.5,534.5 654.5,534.8 655.5,535.1 656.5,535.4 657.5,535.6 658.5,535.9 659.5,536.2 660.5,536.5 660.8,536.6 660.8,547.5 660.5,547.4 659.5,547.1 658.5,546.8 657.5,546.6 656.5,546.3 655.5,546 654.5,545.7 653.5,545.4 652.5,545.2 651.5,544.9 650.5,544.6 649.5,544.3 648.5,544 647.5,543.7 646.5,543.5 645.5,543.2 644.5,542.9 643.5,542.6 642.5,542.3 642.4,542.3"/>
<polygon fill="#00cc00" points="678.9,541.3 679.5,541.4 680.5,541.7 680.5,552.5 679.5,552.2 678.9,552.1"/>
<polygon fill="#2d2dff" points="82.5,220.2 83.5,220.4 84.5,220.6 85.5,220.8 86.5,221 87.5,221.2 88.5,221.4 89.5,221.6 90.5,221.8 91.5,222 92.5,222.2 93.5,222.4 94.5,222.6 94.7,222.6 94.7,233.2 94.5,233.2 93.5,233 92.5,232.8 91.5,232.6 90.5,232.4 89.5,232.2 88.5,232 87.5,231.8 86.5,231.6 85.5,231.4 84.5,231.2 83.5,231 82.5,230.8"/>
<polygon fill="#2d2dff" points="106.8,225.3 107.5,225.4 108.5,225.6 109.5,225.9 110.5,226.1 111.5,226.3 112.5,226.6 113.5,226.8 114.5,227.1 115.5,227.3 116.5,227.5 117.5,227.8 118.5,228 119,228.2 119,238.9 118.5,238.7 117.5,238.5 116.5,238.2 115.5,238 114.5,237.8 113.5,237.5 112.5,237.3 111.5,237 110.5,236.8 109.5,236.6 108.5,236.3 107.5,236.1 106.8,235.9"/>
<polygon fill="#2d2dff" points="131.1,231.2 131.5,231.3 132.5,231.6 133.5,231.9 134.5,232.1 135.5,232.4 136.5,232.7 137.5,233 138.5,233.3 139.5,233.6 140.5,233.8 141.5,234.1 142.5,234.4 143.3,234.7 143.3,245.5 142.5,245.2 141.5,244.9 140.5,244.7 139.5,244.4 138.5,244.1 137.5,243.8 136.5,243.5 135.5,243.2 134.5,243 133.5,242.7 132.5,242.4 131.5,242.1 131.1,242"/>
<polygon fill="#2d2dff" points="155.4,238.4 155.5,238.4 156.5,238.7 157.5,239.1 158.5,239.4 159.5,239.7 160.5,240.1 161.5,240.4 162.5,240.7 163.5,241.1 164.5,241.4 165.5,241.8 166.5,242.1 167.5,242.5 167.6,242.5 167.6,253.5 167.5,253.5 166.5,253.1 165.5,252.8 164.5,252.4 163.5,252.1 162.5,251.7 161.5,251.4 160.5,251 159.5,250.7 158.5,250.4 157.5,250 156.5,249.7 155.5,249.4 155.4,249.4"/>
<polygon fill="#2d2dff" points="179.7,246.8 180.5,247.1 181.5,247.5 182.5,247.8 183.5,248.2 184.5,248.6 185.5,248.9 186.5,249.3 187.5,249.7 188.5,250.1 189.5,250.4 190.5,250.8 191.5,251.2 191.9,251.3 191.9,262.4 191.5,262.3 190.5,261.9 189.5,261.5 188.5,261.1 187.5,260.8 186.5,260.4 185.5,260 184.5,259.7 183.5,259.3 182.5,258.9 181.5,258.6 180.5,258.2 179.7,257.9"/>
<polygon fill="#2d2dff" points="204,255.9 204.5,256.1 205.5,256.5 206.5,256.9 207.5,257.3 208.5,257.7 209.5,258.1 210.5,258.5 211.5,258.9 212.5,259.3 213.5,259.6 214.5,260 215.5,260.4 216.2,260.7 216.2,271.9 215.5,271.6 214.5,271.2 213.5,270.8 212.5,270.4 211.5,270 210.5,269.6 209.5,269.2 208.5,268.9 207.5,268.5 206.5,268.1 205.5,267.7 204.5,267.3 204,267.1"/>
<polygon fill="#2d2dff" points="228.3,265.4 228.5,265.4 229.5,265.8 230.5,266.2 231.5,266.6 232.5,267 233.5,267.3 234.5,267.7 235.5,268.1 236.5,268.5 237.5,268.9 238.5,269.3 239.5,269.6 240.5,270 240.5,281.2 239.5,280.8 238.5,280.4 237.5,280 236.5,279.6 235.5,279.2 234.5,278.9 233.5,278.5 232.5,278.1 231.5,277.7 230.5,277.3 229.5,277 228.5,276.6 228.3,276.5"/>
<polygon fill="#2d2dff" points="252.6,274.8 253.5,275.1 254.5,275.5 255.5,275.9 256.5,276.3 257.5,276.6 258.5,277 259.5,277.4 260.5,277.8 261.5,278.2 262.5,278.5 263.5,278.9 264.5,279.3 264.8,279.4 264.8,290.5 264.5,290.4 263.5,290 262.5,289.7 261.5,289.3 260.5,288.9 259.5,288.5 258.5,288.1 257.5,287.8 256.5,287.4 255.5,287 254.5,286.6 253.5,286.2 252.6,285.9"/>
<polygon fill="#2d2dff" points="276.9,283.9 277.5,284.2 278.5,284.6 279.5,285 280.5,285.5 281.5,285.9 282.5,286.4 283.5,286.8 284.5,287.3 285.5,287.8 286.5,288.2 287.5,288.7 288.5,289.2 289.1,289.5 289.1,300.9 288.5,300.6 287.5,300.2 286.5,299.7 285.5,299.2 284.5,298.7 283.5,298.2 282.5,297.8 281.5,297.3 280.5,296.9 279.5,296.5 278.5,296 277.5,295.6 276.9,295.4"/>
<polygon fill="#2d2dff" points="301.2,295.5 301.5,295.7 302.5,296.2 303.5,296.7 304.5,297.2 305.5,297.7 306.5,298.3 307.5,298.8 308.5,299.3 309.5,299.8 310.5,300.3 311.5,300.8 312.5,301.3 313.4,301.8 313.4,313.5 312.5,313 311.5,312.5 310.5,312 309.5,311.5 308.5,311 307.5,310.5 306.5,310 305.5,309.4 304.5,308.9 303.5,308.4 302.5,307.9 301.5,307.4 301.2,307.2"/>
<polygon fill="#2d2dff" points="325.5,308.1 326.5,308.6 327.5,309.1 328.5,309.6 329.5,310.2 330.5,310.7 331.5,311.2 332.5,311.8 333.5,312.3 334.5,312.8 335.5,313.4 336.5,313.9 337.5,314.5 337.7,314.6 337.7,326.4 337.5,326.2 336.5,325.7 335.5,325.2 334.5,324.6 333.5,324.1 332.5,323.6 331.5,323 330.5,322.5 329.5,322 328.5,321.4 327.5,320.9 326.5,320.4 325.5,319.8"/>
<polygon fill="#2d2dff" points="349.8,321.1 350.5,321.5 351.5,322.1 352.5,322.6 353.5,323.2 354.5,323.7 355.5,324.3 356.5,324.9 357.5,325.4 358.5,326 359.5,326.5 360.5,327.1 361.5,327.7 362,328 362,339.9 361.5,339.6 360.5,339 359.5,338.5 358.5,337.9 357.5,337.3 356.5,336.8 355.5,336.2 354.5,335.7 353.5,335.1 352.5,334.5 351.5,334 350.5,333.4 349.8,333"/>
<polygon fill="#2d2dff" points="374.1,334.8 374.5,335 375.5,335.6 376.5,336.1 377.5,336.7 378.5,337.3 379.5,337.9 380.5,338.4 381.5,339 382.5,339.6 383.5,340.2 384.5,340.8 385.5,341.3 386.3,341.8 386.3,353.8 385.5,353.3 384.5,352.8 383.5,352.2 382.5,351.6 381.5,351 380.5,350.5 379.5,349.9 378.5,349.3 377.5,348.7 376.5,348.1 375.5,347.6 374.5,347 374.1,346.8"/>
<polygon fill="#2d2dff" points="398.4,348.9 398.5,348.9 399.5,349.5 400.5,350.1 401.5,350.7 402.5,351.3 403.5,351.9 404.5,352.5 405.5,353.1 406.5,353.7 407.5,354.3 408.5,354.9 409.5,355.5 410.5,356 410.6,356.1 410.6,368.2 410.5,368.1 409.5,367.5 408.5,367 407.5,366.4 406.5,365.8 405.5,365.2 404.5,364.6 403.5,364 402.5,363.4 401.5,362.8 400.5,362.2 399.5,361.6 398.5,361 398.4,361"/>
<polygon fill="#2d2dff" points="422.7,363.3 423.5,363.7 424.5,364.3 425.5,364.9 426.5,365.5 427.5,366.1 428.5,366.7 429.5,367.3 430.5,367.9 431.5,368.5 432.5,369.1 433.5,369.7 434.5,370.3 434.9,370.5 434.9,382.6 434.5,382.4 433.5,381.8 432.5,381.2 431.5,380.6 430.5,380 429.5,379.4 428.5,378.8 427.5,378.2 426.5,377.6 425.5,377 424.5,376.4 423.5,375.8 422.7,375.4"/>
<polygon fill="#2d2dff" points="447,377.8 447.5,378.1 448.5,378.7 449.5,379.4 450.5,380 451.5,380.7 452.5,381.3 453.5,382 454.5,382.6 455.5,383.3 456.5,384 457.5,384.6 458.5,385.3 459.2,385.8 459.2,398.2 458.5,397.7 457.5,397 456.5,396.4 455.5,395.7 454.5,395.1 453.5,394.4 452.5,393.7 451.5,393.1 450.5,392.4 449.5,391.8 448.5,391.2 447.5,390.5 447,390.2"/>
<polygon fill="#2d2dff" points="471.3,393.9 471.5,394 472.5,394.7 473.5,395.4 474.5,396 475.5,396.7 476.5,397.4 477.5,398 478.5,398.7 479.5,399.3 480.5,400 481.5,400.6 482.5,401.2 483.5,401.9 483.5,414.3 482.5,413.6 481.5,413 480.5,412.4 479.5,411.7 478.5,411.1 477.5,410.4 476.5,409.8 475.5,409.1 474.5,408.5 473.5,407.8 472.5,407.1 471.5,406.5 471.3,406.3"/>
<polygon fill="#2d2dff" points="495.6,409.4 496.5,410 497.5,410.6 498.5,411.2 499.5,411.8 500.5,412.4 501.5,413 502.5,413.6 503.5,414.3 504.5,414.9 505.5,415.5 506.5,416.1 507.5,416.7 507.8,416.9 507.8,429.1 507.5,428.9 506.5,428.3 505.5,427.7 504.5,427.1 503.5,426.5 502.5,425.8 501.5,425.2 500.5,424.6 499.5,424 498.5,423.4 497.5,422.8 496.5,422.2 495.6,421.6"/>
<polygon fill="#2d2dff" points="519.9,424.5 520.5,424.9 521.5,425.6 522.5,426.2 523.5,426.9 524.5,427.5 525.5,428.2 526.5,428.9 527.5,429.5 528.5,430.2 529.5,430.8 530.5,431.5 531.5,432.1 532.1,432.5 532.1,445 531.5,444.6 530.5,443.9 529.5,443.3 528.5,442.6 527.5,441.9 526.5,441.3 525.5,440.6 524.5,440 523.5,439.3 522.5,438.7 521.5,438 520.5,437.4 519.9,437"/>
<polygon fill="#2d2dff" points="544.2,440.4 544.5,440.6 545.5,441.3 546.5,441.9 547.5,442.5 548.5,443.1 549.5,443.7 550.5,444.4 551.5,445 552.5,445.6 553.5,446.2 554.5,446.8 555.5,447.4 556.4,448 556.4,460.2 555.5,459.7 554.5,459 553.5,458.4 552.5,457.8 551.5,457.2 550.5,456.6 549.5,456 548.5,455.4 547.5,454.7 546.5,454.1 545.5,453.5 544.5,452.8 544.2,452.7"/>
<polygon fill="#2d2dff" points="568.5,455.3 569.5,455.9 570.5,456.4 571.5,457 572.5,457.6 573.5,458.2 574.5,458.8 575.5,459.3 576.5,459.9 577.5,460.5 578.5,461 579.5,461.6 580.5,462.2 580.7,462.3 580.7,474.3 580.5,474.2 579.5,473.6 578.5,473 577.5,472.5 576.5,471.9 575.5,471.3 574.5,470.8 573.5,470.2 572.5,469.6 571.5,469 570.5,468.4 569.5,467.9 568.5,467.3"/>
<polygon fill="#2d2dff" points="592.8,469.1 593.5,469.5 594.5,470.1 595.5,470.6 596.5,471.2 597.5,471.7 598.5,472.3 599.5,472.8 600.5,473.4 601.5,473.9 602.5,474.5 603.5,475 604.5,475.6 605,475.9 605,487.7 604.5,487.5 603.5,486.9 602.5,486.4 601.5,485.8 600.5,485.3 599.5,484.7 598.5,484.2 597.5,483.6 596.5,483.1 595.5,482.5 594.5,482 593.5,481.4 592.8,481"/>
<polygon fill="#2d2dff" points="617.1,482.5 617.5,482.7 618.5,483.2 619.5,483.8 620.5,484.3 621.5,484.9 622.5,485.4 623.5,486 624.5,486.5 625.5,487.1 626.5,487.6 627.5,488.1 628.5,488.7 629.3,489.1 629.3,501 628.5,500.5 627.5,500 626.5,499.4 625.5,498.9 624.5,498.4 623.5,497.8 622.5,497.3 621.5,496.7 620.5,496.2 619.5,495.6 618.5,495.1 617.5,494.5 617.1,494.3"/>
<polygon fill="#2d2dff" points="641.4,495.8 641.5,495.8 642.5,496.4 643.5,496.9 644.5,497.5 645.5,498 646.5,498.6 647.5,499.1 648.5,499.7 649.5,500.2 650.5,500.8 651.5,501.3 652.5,501.8 653.5,502.4 653.6,502.4 653.6,514.3 653.5,514.2 652.5,513.7 651.5,513.2 650.5,512.6 649.5,512.1 648.5,511.5 647.5,511 646.5,510.4 645.5,509.9 644.5,509.3 643.5,508.8 642.5,508.2 641.5,507.7 641.4,507.6"/>
<polygon fill="#2d2dff" points="665.7,509 666.5,509.4 667.5,510 668.5,510.5 669.5,511 670.5,511.6 671.5,512.1 672.5,512.6 673.5,513.1 674.5,513.6 675.5,514.2 676.5,514.7 677.5,515.2 677.9,515.4 677.9,527.1 677.5,526.9 676.5,526.4 675.5,525.9 674.5,525.4 673.5,524.8 672.5,524.3 671.5,523.8 670.5,523.3 669.5,522.8 668.5,522.2 667.5,521.7 666.5,521.2 665.7,520.8"/>
<polygon fill="#2d2dff" points="82.5,162.3 83.5,162.8 84.5,163.4 85.5,163.9 86.5,164.4 87.5,165 88.5,165.5 89.5,166 90.5,166.6 91.5,167.1 92.5,167.6 93.5,168.1 94.5,168.7 94.7,168.8 94.7,180.5 94.5,180.4 93.5,179.9 92.5,179.4 91.5,178.9 90.5,178.3 89.5,177.8 88.5,177.3 87.5,176.7 86.5,176.2 85.5,175.7 84.5,175.1 83.5,174.6 82.5,174.1"/>
<polygon fill="#2d2dff" points="106.8,175 107.5,175.4 108.5,176 109.5,176.5 110.5,177.1 111.5,177.6 112.5,178.2 113.5,178.7 114.5,179.3 115.5,179.9 116.5,180.4 117.5,181 118.5,181.6 119,181.9 119,193.8 118.5,193.5 117.5,192.9 116.5,192.4 115.5,191.8 114.5,191.2 113.5,190.7 112.5,190.1 111.5,189.5 110.5,189 109.5,188.4 108.5,187.9 107.5,187.4 106.8,187"/>
<polygon fill="#2d2dff" points="131.1,189.2 131.5,189.4 132.5,190.1 133.5,190.8 134.5,191.4 135.5,192.1 136.5,192.8 137.5,193.5 138.5,194.2 139.5,194.8 140.5,195.5 141.5,196.2 142.5,196.9 143.3,197.5 143.3,210.1 142.5,209.5 141.5,208.8 140.5,208.1 139.5,207.4 138.5,206.7 137.5,206.1 136.5,205.4 135.5,204.7 134.5,204 133.5,203.3 132.5,202.7 131.5,202 131.1,201.8"/>
<polygon fill="#2d2dff" points="155.4,205.9 155.5,206 156.5,206.7 157.5,207.4 158.5,208.1 159.5,208.8 160.5,209.5 161.5,210.2 162.5,210.8 163.5,211.5 164.5,212.2 165.5,212.9 166.5,213.5 167.5,214.2 167.6,214.3 167.6,226.8 167.5,226.8 166.5,226.1 165.5,225.4 164.5,224.8 163.5,224.1 162.5,223.4 161.5,222.7 160.5,222.1 159.5,221.4 158.5,220.7 157.5,220 156.5,219.3 155.5,218.6 155.4,218.5"/>
<polygon fill="#2d2dff" points="179.7,222.3 180.5,222.8 181.5,223.5 182.5,224.2 183.5,224.8 184.5,225.5 185.5,226.1 186.5,226.8 187.5,227.4 188.5,228.1 189.5,228.8 190.5,229.4 191.5,230.1 191.9,230.3 191.9,242.8 191.5,242.5 190.5,241.9 189.5,241.2 188.5,240.6 187.5,239.9 186.5,239.2 185.5,238.6 184.5,237.9 183.5,237.3 182.5,236.6 181.5,236 180.5,235.3 179.7,234.8"/>
<polygon fill="#2d2dff" points="204,238.3 204.5,238.7 205.5,239.3 206.5,240 207.5,240.6 208.5,241.3 209.5,241.9 210.5,242.6 211.5,243.2 212.5,243.9 213.5,244.5 214.5,245.1 215.5,245.8 216.2,246.2 216.2,258.6 215.5,258.2 214.5,257.5 213.5,256.9 212.5,256.3 211.5,255.6 210.5,255 209.5,254.3 208.5,253.7 207.5,253 206.5,252.4 205.5,251.7 204.5,251 204,250.7"/>
<polygon fill="#2d2dff" points="228.3,253.9 228.5,254 229.5,254.6 230.5,255.3 231.5,255.9 232.5,256.5 233.5,257.1 234.5,257.7 235.5,258.3 236.5,258.9 237.5,259.5 238.5,260.1 239.5,260.7 240.5,261.3 240.5,273.4 239.5,272.8 238.5,272.2 237.5,271.6 236.5,271 235.5,270.4 234.5,269.8 233.5,269.2 232.5,268.6 231.5,268 230.5,267.4 229.5,266.8 228.5,266.2 228.3,266.1"/>
<polygon fill="#2d2dff" points="252.6,268.5 253.5,269 254.5,269.6 255.5,270.2 256.5,270.8 257.5,271.4 258.5,272 259.5,272.6 260.5,273.2 261.5,273.8 262.5,274.4 263.5,275 264.5,275.6 264.8,275.7 264.8,287.8 264.5,287.7 263.5,287.1 262.5,286.5 261.5,285.9 260.5,285.3 259.5,284.7 258.5,284.1 257.5,283.5 256.5,282.9 255.5,282.3 254.5,281.7 253.5,281.1 252.6,280.6"/>
<polygon fill="#2d2dff" points="276.9,283 277.5,283.3 278.5,283.9 279.5,284.5 280.5,285.2 281.5,285.8 282.5,286.4 283.5,287 284.5,287.6 285.5,288.2 286.5,288.9 287.5,289.5 288.5,290.1 289.1,290.5 289.1,302.7 288.5,302.3 287.5,301.7 286.5,301.1 285.5,300.5 284.5,299.8 283.5,299.2 282.5,298.6 281.5,298 280.5,297.4 279.5,296.8 278.5,296.2 277.5,295.5 276.9,295.2"/>
<polygon fill="#2d2dff" points="301.2,298.1 301.5,298.3 302.5,299 303.5,299.7 304.5,300.3 305.5,301 306.5,301.7 307.5,302.4 308.5,303 309.5,303.7 310.5,304.4 311.5,305.1 312.5,305.8 313.4,306.4 313.4,318.9 312.5,318.3 311.5,317.6 310.5,317 309.5,316.3 308.5,315.6 307.5,314.9 306.5,314.2 305.5,313.6 304.5,312.9 303.5,312.2 302.5,311.6 301.5,310.9 301.2,310.7"/>
<polygon fill="#2d2dff" points="325.5,314.7 326.5,315.4 327.5,316.1 328.5,316.8 329.5,317.5 330.5,318.2 331.5,318.9 332.5,319.6 333.5,320.3 334.5,321 335.5,321.7 336.5,322.4 337.5,323.1 337.7,323.2 337.7,335.8 337.5,335.7 336.5,335 335.5,334.3 334.5,333.6 333.5,332.9 332.5,332.3 331.5,331.6 330.5,330.9 329.5,330.2 328.5,329.5 327.5,328.8 326.5,328.1 325.5,327.4"/>
<polygon fill="#2d2dff" points="349.8,331.5 350.5,332 351.5,332.7 352.5,333.4 353.5,334 354.5,334.7 355.5,335.4 356.5,336.1 357.5,336.8 358.5,337.5 359.5,338.1 360.5,338.8 361.5,339.5 362,339.8 362,352.4 361.5,352.1 360.5,351.4 359.5,350.7 358.5,350 357.5,349.4 356.5,348.7 355.5,348 354.5,347.3 353.5,346.6 352.5,346 351.5,345.3 350.5,344.6 349.8,344.1"/>
<polygon fill="#2d2dff" points="374.1,348.1 374.5,348.4 375.5,349 376.5,349.7 377.5,350.4 378.5,351.1 379.5,351.8 380.5,352.4 381.5,353.1 382.5,353.8 383.5,354.5 384.5,355.2 385.5,355.8 386.3,356.4 386.3,369 385.5,368.4 384.5,367.7 383.5,367.1 382.5,366.4 381.5,365.7 380.5,365 379.5,364.3 378.5,363.7 377.5,363 376.5,362.3 375.5,361.6 374.5,360.9 374.1,360.7"/>
<polygon fill="#2d2dff" points="398.4,364.6 398.5,364.7 399.5,365.4 400.5,366 401.5,366.7 402.5,367.4 403.5,368 404.5,368.7 405.5,369.4 406.5,370.1 407.5,370.7 408.5,371.4 409.5,372.1 410.5,372.7 410.6,372.8 410.6,385.3 410.5,385.3 409.5,384.6 408.5,383.9 407.5,383.3 406.5,382.6 405.5,381.9 404.5,381.2 403.5,380.6 402.5,379.9 401.5,379.2 400.5,378.6 399.5,377.9 398.5,377.2 398.4,377.1"/>
<polygon fill="#2d2dff" points="422.7,380.8 423.5,381.4 424.5,382 425.5,382.7 426.5,383.3 427.5,384 428.5,384.6 429.5,385.3 430.5,385.9 431.5,386.6 432.5,387.2 433.5,387.9 434.5,388.5 434.9,388.8 434.9,401.2 434.5,400.9 433.5,400.3 432.5,399.6 431.5,399 430.5,398.3 429.5,397.7 428.5,397 427.5,396.4 426.5,395.7 425.5,395.1 424.5,394.4 423.5,393.8 422.7,393.2"/>
<polygon fill="#2d2dff" points="447,396.6 447.5,397 448.5,397.6 449.5,398.3 450.5,399 451.5,399.6 452.5,400.3 453.5,401 454.5,401.7 455.5,402.4 456.5,403.1 457.5,403.7 458.5,404.4 459.2,404.9 459.2,417.5 458.5,417 457.5,416.3 456.5,415.6 455.5,414.9 454.5,414.3 453.5,413.6 452.5,412.9 451.5,412.2 450.5,411.5 449.5,410.9 448.5,410.2 447.5,409.5 447,409.2"/>
<polygon fill="#2d2dff" points="471.3,413.2 471.5,413.4 472.5,414 473.5,414.7 474.5,415.4 475.5,416 476.5,416.7 477.5,417.3 478.5,418 479.5,418.6 480.5,419.3 481.5,419.9 482.5,420.5 483.5,421.1 483.5,433.5 482.5,432.9 481.5,432.3 480.5,431.6 479.5,431 478.5,430.4 477.5,429.7 476.5,429.1 475.5,428.4 474.5,427.8 473.5,427.1 472.5,426.4 471.5,425.8 471.3,425.6"/>
<polygon fill="#2d2dff" points="495.6,428.5 496.5,429.1 497.5,429.6 498.5,430.2 499.5,430.8 500.5,431.3 501.5,431.9 502.5,432.5 503.5,433 504.5,433.6 505.5,434.2 506.5,434.7 507.5,435.3 507.8,435.5 507.8,447.4 507.5,447.2 506.5,446.7 505.5,446.1 504.5,445.6 503.5,445 502.5,444.4 501.5,443.9 500.5,443.3 499.5,442.7 498.5,442.2 497.5,441.6 496.5,441 495.6,440.5"/>
<polygon fill="#2d2dff" points="519.9,442.3 520.5,442.6 521.5,443.2 522.5,443.7 523.5,444.3 524.5,444.9 525.5,445.4 526.5,446 527.5,446.5 528.5,447.1 529.5,447.7 530.5,448.2 531.5,448.8 532.1,449.1 532.1,461.1 531.5,460.7 530.5,460.2 529.5,459.6 528.5,459 527.5,458.5 526.5,457.9 525.5,457.4 524.5,456.8 523.5,456.2 522.5,455.7 521.5,455.1 520.5,454.5 519.9,454.2"/>
<polygon fill="#2d2dff" points="544.2,455.9 544.5,456.1 545.5,456.6 546.5,457.2 547.5,457.7 548.5,458.3 549.5,458.8 550.5,459.4 551.5,459.9 552.5,460.5 553.5,461 554.5,461.5 555.5,462.1 556.4,462.6 556.4,474.4 555.5,473.9 554.5,473.4 553.5,472.9 552.5,472.3 551.5,471.8 550.5,471.2 549.5,470.7 548.5,470.1 547.5,469.6 546.5,469 545.5,468.5 544.5,467.9 544.2,467.7"/>
<polygon fill="#2d2dff" points="568.5,469.1 569.5,469.6 570.5,470.1 571.5,470.7 572.5,471.2 573.5,471.7 574.5,472.2 575.5,472.7 576.5,473.3 577.5,473.8 578.5,474.3 579.5,474.8 580.5,475.3 580.7,475.4 580.7,487.1 580.5,487 579.5,486.5 578.5,486 577.5,485.5 576.5,485 575.5,484.4 574.5,483.9 573.5,483.4 572.5,482.9 571.5,482.4 570.5,481.9 569.5,481.3 568.5,480.8"/>
<polygon fill="#2d2dff" points="592.8,481.5 593.5,481.8 594.5,482.3 595.5,482.8 596.5,483.3 597.5,483.8 598.5,484.3 599.5,484.7 600.5,485.2 601.5,485.7 602.5,486.2 603.5,486.7 604.5,487.1 605,487.4 605,498.9 604.5,498.7 603.5,498.2 602.5,497.7 601.5,497.2 600.5,496.8 599.5,496.3 598.5,495.8 597.5,495.3 596.5,494.8 595.5,494.4 594.5,493.9 593.5,493.4 592.8,493"/>
<polygon fill="#2d2dff" points="617.1,493 617.5,493.2 618.5,493.7 619.5,494.1 620.5,494.5 621.5,495 622.5,495.4 623.5,495.9 624.5,496.3 625.5,496.8 626.5,497.2 627.5,497.6 628.5,498.1 629.3,498.4 629.3,509.8 628.5,509.4 627.5,509 626.5,508.6 625.5,508.1 624.5,507.7 623.5,507.2 622.5,506.8 621.5,506.4 620.5,505.9 619.5,505.5 618.5,505 617.5,504.6 617.1,504.4"/>
<polygon fill="#2d2dff" points="641.4,503.6 641.5,503.6 642.5,504 643.5,504.4 644.5,504.8 645.5,505.2 646.5,505.6 647.5,506.1 648.5,506.4 649.5,506.8 650.5,507.2 651.5,507.6 652.5,508 653.5,508.4 653.6,508.5 653.6,519.6 653.5,519.6 652.5,519.2 651.5,518.8 650.5,518.4 649.5,518 648.5,517.6 647.5,517.2 646.5,516.8 645.5,516.4 644.5,516 643.5,515.6 642.5,515.2 641.5,514.8 641.4,514.8"/>
<polygon fill="#2d2dff" points="665.7,513.1 666.5,513.4 667.5,513.7 668.5,514.1 669.5,514.5 670.5,514.8 671.5,515.2 672.5,515.5 673.5,515.9 674.5,516.2 675.5,516.6 676.5,516.9 677.5,517.3 677.9,517.4 677.9,528.4 677.5,528.3 676.5,528 675.5,527.6 674.5,527.3 673.5,526.9 672.5,526.6 671.5,526.2 670.5,525.9 669.5,525.5 668.5,525.1 667.5,524.8 666.5,524.4 665.7,524.1"/>
<polygon fill="#2d2dff" points="89.4,91.2 90.4,92.3 91.4,93.4 92.4,94.6 93.4,95.7 94.4,96.8 95.4,98 96.4,99.1 97.4,100.3 98.4,101.4 99.4,102.5 100.2,103.4 86.3,103.4 85.6,102.5 84.6,101.4 83.6,100.3 82.6,99.1 81.6,98 80.6,96.8 79.6,95.7 78.6,94.6 77.6,93.4 76.6,92.3 75.6,91.2"/>
<polygon fill="#2d2dff" points="110.9,115.5 111.5,116.1 112.5,117.3 113.5,118.4 114.5,119.5 115.5,120.6 116.5,121.7 117.5,122.9 118.5,124 119.5,125.1 120.5,126.2 121.5,127.3 121.8,127.7 107.8,127.7 107.5,127.3 106.5,126.2 105.5,125.1 104.5,124 103.5,122.9 102.5,121.7 101.5,120.6 100.5,119.5 99.5,118.4 98.5,117.3 97.5,116.1 96.9,115.5"/>
<polygon fill="#2d2dff" points="133,139.8 133.7,140.5 134.7,141.6 135.7,142.6 136.7,143.7 137.7,144.8 138.7,145.8 139.7,146.9 140.7,147.9 141.7,149 142.7,150 143.7,151 144.6,152 130.2,152 129.3,151 128.3,150 127.3,149 126.3,147.9 125.3,146.9 124.3,145.8 123.3,144.8 122.3,143.7 121.3,142.6 120.3,141.6 119.3,140.5 118.7,139.8"/>
<polygon fill="#2d2dff" points="149.4,156.6 149.5,156.7 150.5,157.7 151.5,158.7 152.5,159.7 153.5,160.7 154.5,161.7 155.5,162.6 156.5,163.6 157.5,164.6 158.5,165.6 159.5,166.6 160.5,167.7 161.5,168.7 161.6,168.8 161.6,183.4 161.5,183.4 160.5,182.3 159.5,181.3 158.5,180.3 157.5,179.3 156.5,178.3 155.5,177.3 154.5,176.3 153.5,175.3 152.5,174.4 151.5,173.4 150.5,172.4 149.5,171.4 149.4,171.3"/>
<polygon fill="#2d2dff" points="180.1,188.2 180.5,188.7 181.5,189.8 182.5,190.8 183.5,191.9 184.5,193 185.5,194.1 186.5,195.2 187.5,196.3 188.5,197.4 189.5,198.6 190.5,199.7 191.2,200.4 177.1,200.4 176.5,199.7 175.5,198.6 174.5,197.4 173.5,196.3 172.5,195.2 171.5,194.1 170.5,193 169.5,191.9 168.5,190.8 167.5,189.8 166.5,188.7 166,188.2"/>
<polygon fill="#2d2dff" points="202.3,212.5 202.7,213 203.7,214 204.7,215.1 205.7,216.2 206.7,217.3 207.7,218.3 208.7,219.4 209.7,220.4 210.7,221.4 211.7,222.5 212.7,223.5 213.7,224.5 213.9,224.7 199.5,224.7 199.3,224.5 198.3,223.5 197.3,222.5 196.3,221.4 195.3,220.4 194.3,219.4 193.3,218.3 192.3,217.3 191.3,216.2 190.3,215.1 189.3,214 188.3,213 187.9,212.5"/>
<polygon fill="#2d2dff" points="218.8,229.4 219.5,230.1 220.5,231 221.5,232 222.5,232.9 223.5,233.9 224.5,234.8 225.5,235.7 226.5,236.7 227.5,237.6 228.5,238.5 229.5,239.5 230.5,240.4 231,240.9 231,255.1 230.5,254.7 229.5,253.7 228.5,252.8 227.5,251.9 226.5,250.9 225.5,250 224.5,249.1 223.5,248.1 222.5,247.2 221.5,246.2 220.5,245.3 219.5,244.3 218.8,243.7"/>
<polygon fill="#2d2dff" points="243.1,252 243.5,252.3 244.5,253.2 245.5,254.1 246.5,255 247.5,255.8 248.5,256.7 249.5,257.6 250.5,258.4 251.5,259.3 252.5,260.2 253.5,261 254.5,261.9 255.3,262.6 255.3,276.4 254.5,275.7 253.5,274.8 252.5,274 251.5,273.1 250.5,272.2 249.5,271.4 248.5,270.5 247.5,269.6 246.5,268.8 245.5,267.9 244.5,267 243.5,266.1 243.1,265.8"/>
<polygon fill="#2d2dff" points="267.4,273.3 267.5,273.4 268.5,274.4 269.5,275.3 270.5,276.2 271.5,277.1 272.5,278 273.5,279 274.5,279.9 275.5,280.8 276.5,281.7 277.5,282.7 278.5,283.6 279.5,284.5 279.6,284.6 279.6,298.7 279.5,298.6 278.5,297.7 277.5,296.8 276.5,295.9 275.5,295 274.5,294 273.5,293.1 272.5,292.2 271.5,291.3 270.5,290.3 269.5,289.4 268.5,288.5 267.5,287.6 267.4,287.5"/>
<polygon fill="#2d2dff" points="291.7,295.6 292.5,296.3 293.5,297.2 294.5,298.1 295.5,298.9 296.5,299.8 297.5,300.7 298.5,301.6 299.5,302.5 300.5,303.4 301.5,304.3 302.5,305.2 303.5,306 303.9,306.4 303.9,320.3 303.5,320 302.5,319.1 301.5,318.2 300.5,317.3 299.5,316.4 298.5,315.5 297.5,314.6 296.5,313.7 295.5,312.8 294.5,312 293.5,311.1 292.5,310.2 291.7,309.5"/>
<polygon fill="#2d2dff" points="316,317.2 316.5,317.6 317.5,318.5 318.5,319.4 319.5,320.3 320.5,321.2 321.5,322.1 322.5,322.9 323.5,323.8 324.5,324.7 325.5,325.6 326.5,326.4 327.5,327.3 328.2,327.9 328.2,341.8 327.5,341.2 326.5,340.3 325.5,339.4 324.5,338.5 323.5,337.7 322.5,336.8 321.5,335.9 320.5,335 319.5,334.1 318.5,333.3 317.5,332.4 316.5,331.5 316,331"/>
<polygon fill="#2d2dff" points="340.3,338.4 340.5,338.6 341.5,339.4 342.5,340.3 343.5,341.1 344.5,341.9 345.5,342.8 346.5,343.6 347.5,344.4 348.5,345.3 349.5,346.1 350.5,346.9 351.5,347.7 352.5,348.5 352.5,348.5 352.5,362 352.5,362 351.5,361.2 350.5,360.4 349.5,359.6 348.5,358.7 347.5,357.9 346.5,357.1 345.5,356.3 344.5,355.4 343.5,354.6 342.5,353.8 341.5,352.9 340.5,352.1 340.3,351.9"/>
<polygon fill="#2d2dff" points="364.6,358.3 365.5,359.1 366.5,359.8 367.5,360.6 368.5,361.4 369.5,362.2 370.5,362.9 371.5,363.7 372.5,364.5 373.5,365.2 374.5,366 375.5,366.7 376.5,367.5 376.8,367.7 376.8,380.8 376.5,380.6 375.5,379.8 374.5,379.1 373.5,378.3 372.5,377.6 371.5,376.8 370.5,376 369.5,375.3 368.5,374.5 367.5,373.7 366.5,372.9 365.5,372.2 364.6,371.5"/>
<polygon fill="#2d2dff" points="388.9,376.8 389.5,377.2 390.5,378 391.5,378.7 392.5,379.4 393.5,380.1 394.5,380.8 395.5,381.5 396.5,382.2 397.5,382.9 398.5,383.6 399.5,384.3 400.5,385 401.1,385.4 401.1,398.2 400.5,397.8 399.5,397.1 398.5,396.4 397.5,395.7 396.5,395 395.5,394.3 394.5,393.5 393.5,392.8 392.5,392.1 391.5,391.4 390.5,390.7 389.5,390 388.9,389.5"/>
<polygon fill="#2d2dff" points="413.2,393.9 413.5,394.1 414.5,394.8 415.5,395.4 416.5,396.1 417.5,396.8 418.5,397.5 419.5,398.2 420.5,398.9 421.5,399.6 422.5,400.3 423.5,401 424.5,401.7 425.4,402.3 425.4,415 424.5,414.4 423.5,413.7 422.5,413 421.5,412.3 420.5,411.6 419.5,410.9 418.5,410.2 417.5,409.5 416.5,408.8 415.5,408.1 414.5,407.4 413.5,406.7 413.2,406.5"/>
<polygon fill="#2d2dff" points="437.5,410.8 438.5,411.5 439.5,412.2 440.5,412.9 441.5,413.6 442.5,414.3 443.5,415 444.5,415.7 445.5,416.4 446.5,417.1 447.5,417.8 448.5,418.5 449.5,419.1 449.7,419.3 449.7,431.9 449.5,431.8 448.5,431.1 447.5,430.4 446.5,429.7 445.5,429 444.5,428.4 443.5,427.7 442.5,427 441.5,426.3 440.5,425.6 439.5,424.9 438.5,424.2 437.5,423.5"/>
<polygon fill="#2d2dff" points="461.8,427.5 462.5,428 463.5,428.6 464.5,429.3 465.5,429.9 466.5,430.6 467.5,431.2 468.5,431.9 469.5,432.5 470.5,433.1 471.5,433.8 472.5,434.4 473.5,435.1 474,435.4 474,447.8 473.5,447.4 472.5,446.8 471.5,446.2 470.5,445.5 469.5,444.9 468.5,444.2 467.5,443.6 466.5,442.9 465.5,442.3 464.5,441.6 463.5,441 462.5,440.3 461.8,439.9"/>
<polygon fill="#2d2dff" points="486.1,443.1 486.5,443.3 487.5,443.9 488.5,444.5 489.5,445.2 490.5,445.8 491.5,446.4 492.5,447 493.5,447.6 494.5,448.2 495.5,448.8 496.5,449.4 497.5,450 498.3,450.5 498.3,462.7 497.5,462.2 496.5,461.6 495.5,461 494.5,460.4 493.5,459.8 492.5,459.2 491.5,458.6 490.5,457.9 489.5,457.3 488.5,456.7 487.5,456.1 486.5,455.5 486.1,455.2"/>
<polygon fill="#2d2dff" points="510.4,457.7 510.5,457.8 511.5,458.4 512.5,459 513.5,459.5 514.5,460.1 515.5,460.7 516.5,461.3 517.5,461.8 518.5,462.4 519.5,463 520.5,463.6 521.5,464.1 522.5,464.7 522.6,464.7 522.6,476.7 522.5,476.7 521.5,476.1 520.5,475.5 519.5,475 518.5,474.4 517.5,473.8 516.5,473.3 515.5,472.7 514.5,472.1 513.5,471.5 512.5,471 511.5,470.4 510.5,469.8 510.4,469.7"/>
<polygon fill="#2d2dff" points="534.7,471.5 535.5,472 536.5,472.5 537.5,473 538.5,473.5 539.5,474.1 540.5,474.6 541.5,475.1 542.5,475.6 543.5,476.1 544.5,476.7 545.5,477.2 546.5,477.7 546.9,477.9 546.9,489.6 546.5,489.4 545.5,488.9 544.5,488.4 543.5,487.9 542.5,487.4 541.5,486.8 540.5,486.3 539.5,485.8 538.5,485.3 537.5,484.7 536.5,484.2 535.5,483.7 534.7,483.3"/>
<polygon fill="#2d2dff" points="559,484 559.5,484.2 560.5,484.7 561.5,485.2 562.5,485.6 563.5,486.1 564.5,486.6 565.5,487 566.5,487.5 567.5,488 568.5,488.4 569.5,488.9 570.5,489.4 571.2,489.7 571.2,501.2 570.5,500.9 569.5,500.4 568.5,499.9 567.5,499.5 566.5,499 565.5,498.5 564.5,498.1 563.5,497.6 562.5,497.1 561.5,496.6 560.5,496.2 559.5,495.7 559,495.5"/>
<polygon fill="#2d2dff" points="583.3,495.2 583.5,495.3 584.5,495.8 585.5,496.2 586.5,496.6 587.5,497.1 588.5,497.5 589.5,497.9 590.5,498.4 591.5,498.8 592.5,499.2 593.5,499.7 594.5,500.1 595.5,500.5 595.5,500.5 595.5,511.8 595.5,511.8 594.5,511.4 593.5,511 592.5,510.6 591.5,510.1 590.5,509.7 589.5,509.3 588.5,508.8 587.5,508.4 586.5,508 585.5,507.5 584.5,507.1 583.5,506.7 583.3,506.6"/>
<polygon fill="#2d2dff" points="607.6,505.5 608.5,505.9 609.5,506.3 610.5,506.6 611.5,507 612.5,507.4 613.5,507.8 614.5,508.2 615.5,508.6 616.5,508.9 617.5,509.3 618.5,509.7 619.5,510.1 619.8,510.2 619.8,521.3 619.5,521.2 618.5,520.8 617.5,520.5 616.5,520.1 615.5,519.7 614.5,519.3 613.5,518.9 612.5,518.6 611.5,518.2 610.5,517.8 609.5,517.4 608.5,517 607.6,516.6"/>
<polygon fill="#2d2dff" points="631.9,514.6 632.5,514.8 633.5,515.2 634.5,515.5 635.5,515.8 636.5,516.2 637.5,516.5 638.5,516.9 639.5,517.2 640.5,517.5 641.5,517.9 642.5,518.2 643.5,518.5 644.1,518.7 644.1,529.7 643.5,529.5 642.5,529.2 641.5,528.8 640.5,528.5 639.5,528.2 638.5,527.8 637.5,527.5 636.5,527.2 635.5,526.8 634.5,526.5 633.5,526.1 632.5,525.8 631.9,525.6"/>
<polygon fill="#2d2dff" points="656.2,522.6 656.5,522.7 657.5,523 658.5,523.3 659.5,523.6 660.5,523.9 661.5,524.2 662.5,524.5 663.5,524.8 664.5,525.1 665.5,525.4 666.5,525.6 667.5,525.9 668.4,526.2 668.4,537 667.5,536.8 666.5,536.5 665.5,536.2 664.5,535.9 663.5,535.6 662.5,535.3 661.5,535 660.5,534.7 659.5,534.4 658.5,534.1 657.5,533.8 656.5,533.5 656.2,533.4"/>
<polygon fill="#2d2dff" points="88.5,4.6 89.5,6.2 90.5,7.9 91.5,9.6 92.5,11.3 93.5,13 94.5,14.7 95.5,16.4 95.8,16.8 83.7,16.8 83.5,16.4 82.5,14.7 81.5,13 80.5,11.3 79.5,9.6 78.5,7.9 77.5,6.2 76.5,4.6"/>
<polygon fill="#2d2dff" points="102.6,28.9 103.5,30.3 104.5,32.1 105.5,33.9 106.5,35.6 107.5,37.4 108.5,39.2 109.5,40.9 109.5,41.1 97.6,41.1 97.5,40.9 96.5,39.2 95.5,37.4 94.5,35.6 93.5,33.9 92.5,32.1 91.5,30.3 90.7,28.9"/>
<polygon fill="#2d2dff" points="116.4,53.2 116.5,53.3 117.5,55.1 118.5,56.8 119.5,58.6 120.5,60.3 121.5,62 122.5,63.8 123.4,65.4 111.4,65.4 110.5,63.8 109.5,62 108.5,60.3 107.5,58.6 106.5,56.8 105.5,55.1 104.5,53.3 104.4,53.2"/>
<polygon fill="#2d2dff" points="130.6,77.5 131.6,79 132.6,80.7 133.6,82.3 134.6,84 135.6,85.7 136.6,87.3 137.6,89 138,89.7 125.8,89.7 125.4,89 124.4,87.3 123.4,85.7 122.4,84 121.4,82.3 120.4,80.7 119.4,79 118.5,77.5"/>
<polygon fill="#2d2dff" points="145.2,101.8 145.5,102.4 146.5,104.1 147.5,105.8 148.5,107.5 149.5,109.2 150.5,110.9 151.5,112.7 152.3,114 140.2,114 139.5,112.7 138.5,110.9 137.5,109.2 136.5,107.5 135.5,105.8 134.5,104.1 133.5,102.4 133.1,101.8"/>
<polygon fill="#2d2dff" points="159.4,126.1 159.6,126.4 160.6,128.1 161.6,129.7 162.6,131.4 163.6,133.1 164.6,134.7 165.6,136.3 166.6,137.9 166.8,138.3 154.6,138.3 154.4,137.9 153.4,136.3 152.4,134.7 151.4,133.1 150.4,131.4 149.4,129.7 148.4,128.1 147.4,126.4 147.2,126.1"/>
<polygon fill="#2d2dff" points="175,150.4 175.8,151.6 176.8,153 177.8,154.5 178.8,155.9 179.8,157.3 180.8,158.7 181.8,160.2 182.8,161.6 183.5,162.6 170.9,162.6 170.2,161.6 169.2,160.2 168.2,158.7 167.2,157.3 166.2,155.9 165.2,154.5 164.2,153 163.2,151.6 162.3,150.4"/>
<polygon fill="#2d2dff" points="192.2,174.7 192.9,175.6 193.9,177 194.9,178.4 195.9,179.8 196.9,181.2 197.9,182.6 198.9,183.9 199.9,185.3 200.9,186.7 201,186.9 188.2,186.9 188.1,186.7 187.1,185.3 186.1,183.9 185.1,182.6 184.1,181.2 183.1,179.8 182.1,178.4 181.1,177 180.1,175.6 179.4,174.7"/>
<polygon fill="#2d2dff" points="209.7,199 209.9,199.3 210.9,200.6 211.9,202 212.9,203.4 213.9,204.8 214.9,206.2 215.9,207.6 216.9,208.9 217.9,210.3 218.5,211.2 205.7,211.2 205.1,210.3 204.1,208.9 203.1,207.6 202.1,206.2 201.1,204.8 200.1,203.4 199.1,202 198.1,200.6 197.1,199.3 196.9,199"/>
<polygon fill="#2d2dff" points="227.6,223.3 228,223.9 229,225.2 230,226.5 231,227.9 232,229.2 233,230.5 234,231.8 235,233.1 236,234.4 236.8,235.5 223.8,235.5 223,234.4 222,233.1 221,231.8 220,230.5 219,229.2 218,227.9 217,226.5 216,225.2 215,223.9 214.5,223.3"/>
<polygon fill="#2d2dff" points="246.3,247.6 247.2,248.6 248.2,249.8 249.2,251.1 250.2,252.4 251.2,253.6 252.2,254.9 253.2,256.1 254.2,257.4 255.2,258.6 256.1,259.8 242.8,259.8 241.8,258.6 240.8,257.4 239.8,256.1 238.8,254.9 237.8,253.6 236.8,252.4 235.8,251.1 234.8,249.8 233.8,248.6 233,247.6"/>
<polygon fill="#2d2dff" points="266.1,271.9 266.3,272.1 267.3,273.3 268.3,274.5 269.3,275.7 270.3,276.9 271.3,278 272.3,279.2 273.3,280.4 274.3,281.6 275.3,282.8 276.3,283.9 276.4,284.1 262.8,284.1 262.7,283.9 261.7,282.8 260.7,281.6 259.7,280.4 258.7,279.2 257.7,278 256.7,276.9 255.7,275.7 254.7,274.5 253.7,273.3 252.7,272.1 252.5,271.9"/>
<polygon fill="#2d2dff" points="287,296.2 287.5,296.6 288.5,297.8 289.5,298.9 290.5,300 291.5,301.2 292.5,302.3 293.5,303.4 294.5,304.5 295.5,305.6 296.5,306.7 297.5,307.8 297.9,308.4 284,308.4 283.5,307.8 282.5,306.7 281.5,305.6 280.5,304.5 279.5,303.4 278.5,302.3 277.5,301.2 276.5,300 275.5,298.9 274.5,297.8 273.5,296.6 273.1,296.2"/>
<polygon fill="#2d2dff" points="309.3,320.5 309.7,320.9 310.7,321.9 311.7,323 312.7,324.1 313.7,325.1 314.7,326.2 315.7,327.2 316.7,328.3 317.7,329.3 318.7,330.4 319.7,331.4 320.7,332.4 320.9,332.7 306.5,332.7 306.3,332.4 305.3,331.4 304.3,330.4 303.3,329.3 302.3,328.3 301.3,327.2 300.3,326.2 299.3,325.1 298.3,324.1 297.3,323 296.3,321.9 295.3,320.9 294.9,320.5"/>
<polygon fill="#2d2dff" points="325.6,337.5 326.5,338.3 327.5,339.3 328.5,340.3 329.5,341.3 330.5,342.3 331.5,343.3 332.5,344.2 333.5,345.2 334.5,346.2 335.5,347.2 336.5,348.1 337.5,349.1 337.8,349.4 337.8,364 337.5,363.6 336.5,362.7 335.5,361.7 334.5,360.7 333.5,359.8 332.5,358.8 331.5,357.8 330.5,356.8 329.5,355.9 328.5,354.9 327.5,353.9 326.5,352.9 325.6,352"/>
<polygon fill="#2d2dff" points="349.9,361.1 350.5,361.6 351.5,362.5 352.5,363.4 353.5,364.4 354.5,365.3 355.5,366.2 356.5,367.1 357.5,368 358.5,368.9 359.5,369.8 360.5,370.7 361.5,371.6 362.1,372.2 362.1,386.2 361.5,385.7 360.5,384.8 359.5,383.9 358.5,383 357.5,382.1 356.5,381.1 355.5,380.2 354.5,379.3 353.5,378.4 352.5,377.5 351.5,376.6 350.5,375.7 349.9,375.1"/>
<polygon fill="#2d2dff" points="374.2,383 374.5,383.2 375.5,384.1 376.5,384.9 377.5,385.8 378.5,386.6 379.5,387.5 380.5,388.3 381.5,389.1 382.5,390 383.5,390.8 384.5,391.6 385.5,392.5 386.4,393.3 386.4,406.8 385.5,406.1 384.5,405.2 383.5,404.4 382.5,403.6 381.5,402.7 380.5,401.9 379.5,401.1 378.5,400.2 377.5,399.4 376.5,398.5 375.5,397.7 374.5,396.8 374.2,396.6"/>
<polygon fill="#2d2dff" points="398.5,403.3 399.5,404 400.5,404.8 401.5,405.6 402.5,406.4 403.5,407.1 404.5,407.9 405.5,408.7 406.5,409.5 407.5,410.2 408.5,411 409.5,411.8 410.5,412.5 410.7,412.7 410.7,425.9 410.5,425.7 409.5,424.9 408.5,424.2 407.5,423.4 406.5,422.6 405.5,421.9 404.5,421.1 403.5,420.3 402.5,419.5 401.5,418.8 400.5,418 399.5,417.2 398.5,416.4"/>
<polygon fill="#2d2dff" points="422.8,421.9 423.5,422.4 424.5,423.1 425.5,423.9 426.5,424.6 427.5,425.3 428.5,426 429.5,426.7 430.5,427.5 431.5,428.2 432.5,428.9 433.5,429.6 434.5,430.3 435,430.7 435,443.5 434.5,443.1 433.5,442.4 432.5,441.7 431.5,441 430.5,440.2 429.5,439.5 428.5,438.8 427.5,438.1 426.5,437.4 425.5,436.7 424.5,435.9 423.5,435.2 422.8,434.7"/>
<polygon fill="#2d2dff" points="447.1,439.1 447.5,439.4 448.5,440 449.5,440.7 450.5,441.4 451.5,442 452.5,442.7 453.5,443.4 454.5,444 455.5,444.7 456.5,445.3 457.5,446 458.5,446.6 459.3,447.1 459.3,459.6 458.5,459 457.5,458.4 456.5,457.7 455.5,457.1 454.5,456.4 453.5,455.8 452.5,455.1 451.5,454.5 450.5,453.8 449.5,453.1 448.5,452.5 447.5,451.8 447.1,451.6"/>
<polygon fill="#2d2dff" points="471.4,454.9 471.5,454.9 472.5,455.5 473.5,456.2 474.5,456.8 475.5,457.4 476.5,458 477.5,458.6 478.5,459.2 479.5,459.8 480.5,460.4 481.5,461 482.5,461.6 483.5,462.1 483.6,462.2 483.6,474.4 483.5,474.3 482.5,473.7 481.5,473.1 480.5,472.5 479.5,471.9 478.5,471.3 477.5,470.7 476.5,470.1 475.5,469.5 474.5,468.9 473.5,468.3 472.5,467.7 471.5,467.1 471.4,467"/>
<polygon fill="#2d2dff" points="495.7,469.3 496.5,469.7 497.5,470.3 498.5,470.8 499.5,471.4 500.5,471.9 501.5,472.5 502.5,473 503.5,473.6 504.5,474.1 505.5,474.7 506.5,475.2 507.5,475.7 507.9,476 507.9,487.8 507.5,487.6 506.5,487.1 505.5,486.5 504.5,486 503.5,485.4 502.5,484.9 501.5,484.4 500.5,483.8 499.5,483.2 498.5,482.7 497.5,482.1 496.5,481.6 495.7,481.2"/>
<polygon fill="#2d2dff" points="520,482.4 520.5,482.7 521.5,483.2 522.5,483.7 523.5,484.2 524.5,484.7 525.5,485.2 526.5,485.7 527.5,486.2 528.5,486.7 529.5,487.1 530.5,487.6 531.5,488.1 532.2,488.5 532.2,500.1 531.5,499.7 530.5,499.3 529.5,498.8 528.5,498.3 527.5,497.8 526.5,497.3 525.5,496.8 524.5,496.3 523.5,495.8 522.5,495.3 521.5,494.8 520.5,494.3 520,494"/>
<polygon fill="#2d2dff" points="544.3,494.3 544.5,494.4 545.5,494.8 546.5,495.3 547.5,495.8 548.5,496.2 549.5,496.7 550.5,497.1 551.5,497.6 552.5,498 553.5,498.5 554.5,498.9 555.5,499.3 556.5,499.8 556.5,499.8 556.5,511.2 556.5,511.2 555.5,510.7 554.5,510.3 553.5,509.9 552.5,509.4 551.5,509 550.5,508.5 549.5,508.1 548.5,507.6 547.5,507.2 546.5,506.7 545.5,506.3 544.5,505.8 544.3,505.7"/>
<polygon fill="#2d2dff" points="568.6,505.1 569.5,505.4 570.5,505.8 571.5,506.2 572.5,506.7 573.5,507.1 574.5,507.5 575.5,507.9 576.5,508.3 577.5,508.7 578.5,509.1 579.5,509.5 580.5,509.9 580.8,510 580.8,521.2 580.5,521.1 579.5,520.7 578.5,520.3 577.5,519.9 576.5,519.5 575.5,519.1 574.5,518.7 573.5,518.3 572.5,517.9 571.5,517.5 570.5,517.1 569.5,516.6 568.6,516.3"/>
<polygon fill="#2d2dff" points="592.9,514.7 593.5,514.9 594.5,515.3 595.5,515.7 596.5,516.1 597.5,516.4 598.5,516.8 599.5,517.1 600.5,517.5 601.5,517.9 602.5,518.2 603.5,518.6 604.5,518.9 605.1,519.2 605.1,530.2 604.5,530 603.5,529.7 602.5,529.3 601.5,528.9 600.5,528.6 599.5,528.2 598.5,527.9 597.5,527.5 596.5,527.1 595.5,526.8 594.5,526.4 593.5,526 592.9,525.8"/>
<polygon fill="#2d2dff" points="617.2,523.4 617.5,523.5 618.5,523.8 619.5,524.1 620.5,524.5 621.5,524.8 622.5,525.1 623.5,525.5 624.5,525.8 625.5,526.1 626.5,526.4 627.5,526.7 628.5,527.1 629.4,527.4 629.4,538.3 628.5,538 627.5,537.7 626.5,537.4 625.5,537 624.5,536.7 623.5,536.4 622.5,536.1 621.5,535.7 620.5,535.4 619.5,535.1 618.5,534.8 617.5,534.4 617.2,534.3"/>
<polygon fill="#2d2dff" points="641.5,531.1 642.5,531.4 643.5,531.7 644.5,532 645.5,532.3 646.5,532.6 647.5,532.9 648.5,533.2 649.5,533.4 650.5,533.7 651.5,534 652.5,534.3 653.5,534.6 653.7,534.6 653.7,545.5 653.5,545.4 652.5,545.1 651.5,544.8 650.5,544.6 649.5,544.3 648.5,544 647.5,543.7 646.5,543.4 645.5,543.1 644.5,542.8 643.5,542.5 642.5,542.2 641.5,541.9"/>
<polygon fill="#2d2dff" points="665.8,538 666.5,538.2 667.5,538.4 668.5,538.7 669.5,538.9 670.5,539.2 671.5,539.5 672.5,539.7 673.5,540 674.5,540.2 675.5,540.5 676.5,540.7 677.5,541 678,541.1 678,551.8 677.5,551.7 676.5,551.5 675.5,551.2 674.5,551 673.5,550.7 672.5,550.4 671.5,550.2 670.5,549.9 669.5,549.7 668.5,549.4 667.5,549.2 666.5,548.9 665.8,548.7"/>
</g>
<line x1="112.4" y1="548.2" x2="112.4" y2="541.2" stroke="#000" stroke-opacity="0.45" stroke-width="1.4"/>
<line x1="142.3" y1="548.2" x2="142.3" y2="541.2" stroke="#000" stroke-opacity="0.45" stroke-width="1.4"/>
<line x1="172.2" y1="548.2" x2="172.2" y2="541.2" stroke="#000" stroke-opacity="0.45" stroke-width="1.4"/>
<line x1="232.1" y1="548.2" x2="232.1" y2="541.2" stroke="#000" stroke-opacity="0.45" stroke-width="1.4"/>
<line x1="262" y1="548.2" x2="262" y2="541.2" stroke="#000" stroke-opacity="0.45" stroke-width="1.4"/>
<line x1="291.9" y1="548.2" x2="291.9" y2="541.2" stroke="#000" stroke-opacity="0.45" stroke-width="1.4"/>
<line x1="351.7" y1="548.2" x2="351.7" y2="541.2" stroke="#000" stroke-opacity="0.45" stroke-width="1.4"/>
<line x1="381.6" y1="548.2" x2="381.6" y2="541.2" stroke="#000" stroke-opacity="0.45" stroke-width="1.4"/>
<line x1="411.5" y1="548.2" x2="411.5" y2="541.2" stroke="#000" stroke-opacity="0.45" stroke-width="1.4"/>
<line x1="471.3" y1="548.2" x2="471.3" y2="541.2" stroke="#000" stroke-opacity="0.45" stroke-width="1.4"/>
<line x1="501.2" y1="548.2" x2="501.2" y2="541.2" stroke="#000" stroke-opacity="0.45" stroke-width="1.4"/>
<line x1="531.2" y1="548.2" x2="531.2" y2="541.2" stroke="#000" stroke-opacity="0.45" stroke-width="1.4"/>
<line x1="591" y1="548.2" x2="591" y2="541.2" stroke="#000" stroke-opacity="0.45" stroke-width="1.4"/>
<line x1="620.9" y1="548.2" x2="620.9" y2="541.2" stroke="#000" stroke-opacity="0.45" stroke-width="1.4"/>
<line x1="650.8" y1="548.2" x2="650.8" y2="541.2" stroke="#000" stroke-opacity="0.45" stroke-width="1.4"/>
<line x1="82.5" y1="533.8" x2="90.8" y2="533.8" stroke="#000" stroke-opacity="0.45" stroke-width="1.5"/>
<line x1="82.5" y1="521.1" x2="90.8" y2="521.1" stroke="#000" stroke-opacity="0.45" stroke-width="1.5"/>
<line x1="82.5" y1="495.7" x2="90.8" y2="495.7" stroke="#000" stroke-opacity="0.45" stroke-width="1.5"/>
<line x1="82.5" y1="483" x2="90.8" y2="483" stroke="#000" stroke-opacity="0.45" stroke-width="1.5"/>
<line x1="82.5" y1="470.3" x2="90.8" y2="470.3" stroke="#000" stroke-opacity="0.45" stroke-width="1.5"/>
<line x1="82.5" y1="444.9" x2="90.8" y2="444.9" stroke="#000" stroke-opacity="0.45" stroke-width="1.5"/>
<line x1="82.5" y1="432.3" x2="90.8" y2="432.3" stroke="#000" stroke-opacity="0.45" stroke-width="1.5"/>
<line x1="82.5" y1="419.6" x2="90.8" y2="419.6" stroke="#000" stroke-opacity="0.45" stroke-width="1.5"/>
<line x1="82.5" y1="394.2" x2="90.8" y2="394.2" stroke="#000" stroke-opacity="0.45" stroke-width="1.5"/>
<line x1="82.5" y1="381.5" x2="90.8" y2="381.5" stroke="#000" stroke-opacity="0.45" stroke-width="1.5"/>
<line x1="82.5" y1="368.8" x2="90.8" y2="368.8" stroke="#000" stroke-opacity="0.45" stroke-width="1.5"/>
<line x1="82.5" y1="343.4" x2="90.8" y2="343.4" stroke="#000" stroke-opacity="0.45" stroke-width="1.5"/>
<line x1="82.5" y1="330.7" x2="90.8" y2="330.7" stroke="#000" stroke-opacity="0.45" stroke-width="1.5"/>
<line x1="82.5" y1="318" x2="90.8" y2="318" stroke="#000" stroke-opacity="0.45" stroke-width="1.5"/>
<line x1="82.5" y1="292.6" x2="90.8" y2="292.6" stroke="#000" stroke-opacity="0.45" stroke-width="1.5"/>
<line x1="82.5" y1="279.9" x2="90.8" y2="279.9" stroke="#000" stroke-opacity="0.45" stroke-width="1.5"/>
<line x1="82.5" y1="267.2" x2="90.8" y2="267.2" stroke="#000" stroke-opacity="0.45" stroke-width="1.5"/>
<line x1="82.5" y1="241.8" x2="90.8" y2="241.8" stroke="#000" stroke-opacity="0.45" stroke-width="1.5"/>
<line x1="82.5" y1="229.1" x2="90.8" y2="229.1" stroke="#000" stroke-opacity="0.45" stroke-width="1.5"/>
<line x1="82.5" y1="216.4" x2="90.8" y2="216.4" stroke="#000" stroke-opacity="0.45" stroke-width="1.5"/>
<line x1="82.5" y1="191" x2="90.8" y2="191" stroke="#000" stroke-opacity="0.45" stroke-width="1.5"/>
<line x1="82.5" y1="178.4" x2="90.8" y2="178.4" stroke="#000" stroke-opacity="0.45" stroke-width="1.5"/>
<line x1="82.5" y1="165.7" x2="90.8" y2="165.7" stroke="#000" stroke-opacity="0.45" stroke-width="1.5"/>
<line x1="82.5" y1="140.3" x2="90.8" y2="140.3" stroke="#000" stroke-opacity="0.45" stroke-width="1.5"/>
<line x1="82.5" y1="127.6" x2="90.8" y2="127.6" stroke="#000" stroke-opacity="0.45" stroke-width="1.5"/>
<line x1="82.5" y1="114.9" x2="90.8" y2="114.9" stroke="#000" stroke-opacity="0.45" stroke-width="1.5"/>
<line x1="82.5" y1="89.5" x2="90.8" y2="89.5" stroke="#000" stroke-opacity="0.45" stroke-width="1.5"/>
<line x1="82.5" y1="76.8" x2="90.8" y2="76.8" stroke="#000" stroke-opacity="0.45" stroke-width="1.5"/>
<line x1="82.5" y1="64.1" x2="90.8" y2="64.1" stroke="#000" stroke-opacity="0.45" stroke-width="1.5"/>
<line x1="82.5" y1="38.7" x2="90.8" y2="38.7" stroke="#000" stroke-opacity="0.45" stroke-width="1.5"/>
<line x1="82.5" y1="26" x2="90.8" y2="26" stroke="#000" stroke-opacity="0.45" stroke-width="1.5"/>
<line x1="82.5" y1="13.3" x2="90.8" y2="13.3" stroke="#000" stroke-opacity="0.45" stroke-width="1.5"/>
<text x="82.5" y="570" text-anchor="middle" class="tk">0</text>
<line x1="202.1" y1="548.2" x2="202.1" y2="535.2" stroke="#000" stroke-width="2.6"/>
<text x="202.1" y="570" text-anchor="middle" class="tk">0.2</text>
<line x1="321.8" y1="548.2" x2="321.8" y2="535.2" stroke="#000" stroke-width="2.6"/>
<text x="321.8" y="570" text-anchor="middle" class="tk">0.4</text>
<line x1="441.4" y1="548.2" x2="441.4" y2="535.2" stroke="#000" stroke-width="2.6"/>
<text x="441.4" y="570" text-anchor="middle" class="tk">0.6</text>
<line x1="561.1" y1="548.2" x2="561.1" y2="535.2" stroke="#000" stroke-width="2.6"/>
<text x="561.1" y="570" text-anchor="middle" class="tk">0.8</text>
<text x="680.7" y="570" text-anchor="middle" class="tk">1</text>
<line x1="82.5" y1="508.4" x2="96" y2="508.4" stroke="#000" stroke-width="2.6"/>
<text x="74" y="516.6" text-anchor="end" class="tk">0.4</text>
<line x1="82.5" y1="457.6" x2="96" y2="457.6" stroke="#000" stroke-width="2.6"/>
<text x="74" y="465.8" text-anchor="end" class="tk">0.6</text>
<line x1="82.5" y1="406.9" x2="96" y2="406.9" stroke="#000" stroke-width="2.6"/>
<text x="74" y="415.1" text-anchor="end" class="tk">0.8</text>
<line x1="82.5" y1="356.1" x2="96" y2="356.1" stroke="#000" stroke-width="2.6"/>
<text x="74" y="364.3" text-anchor="end" class="tk">1</text>
<line x1="82.5" y1="305.3" x2="96" y2="305.3" stroke="#000" stroke-width="2.6"/>
<text x="74" y="313.5" text-anchor="end" class="tk">1.2</text>
<line x1="82.5" y1="254.5" x2="96" y2="254.5" stroke="#000" stroke-width="2.6"/>
<text x="74" y="262.7" text-anchor="end" class="tk">1.4</text>
<line x1="82.5" y1="203.7" x2="96" y2="203.7" stroke="#000" stroke-width="2.6"/>
<text x="74" y="211.9" text-anchor="end" class="tk">1.6</text>
<line x1="82.5" y1="153" x2="96" y2="153" stroke="#000" stroke-width="2.6"/>
<text x="74" y="161.2" text-anchor="end" class="tk">1.8</text>
<line x1="82.5" y1="102.2" x2="96" y2="102.2" stroke="#000" stroke-width="2.6"/>
<text x="74" y="110.4" text-anchor="end" class="tk">2</text>
<line x1="82.5" y1="51.4" x2="96" y2="51.4" stroke="#000" stroke-width="2.6"/>
<text x="74" y="59.6" text-anchor="end" class="tk">2.2</text>
<rect x="82.5" y="3.2" width="598.2" height="545.0" fill="none" stroke="#000" stroke-width="2.7"/>
<rect x="121.3" y="417" width="95.8" height="5" fill="#cf0000"/>
<rect x="121.3" y="438.8" width="18.4" height="10.5" fill="#00cc00"/>
<rect x="157.9" y="438.8" width="18.4" height="10.5" fill="#00cc00"/>
<rect x="194.2" y="438.8" width="18.4" height="10.5" fill="#00cc00"/>
<rect x="121.3" y="464.7" width="12.2" height="10.4" fill="#2d2dff"/>
<rect x="145.8" y="464.7" width="12.2" height="10.4" fill="#2d2dff"/>
<rect x="170.0" y="464.7" width="12.2" height="10.4" fill="#2d2dff"/>
<rect x="194.2" y="464.7" width="12.2" height="10.4" fill="#2d2dff"/>
<text x="233.4" y="425.6" class="lg">Ref [37]</text>
<text x="233.4" y="450.6" class="lg">Modified AGM</text>
<text x="233.4" y="476.4" class="lg">HAN Method</text>
<text x="140" y="58.6" class="cs">Case1, Case2, Case3, Case4</text>
<text x="145.6" y="518.4" class="cs">Case1, Case2, Case3, Case4</text>
<circle cx="346" cy="331.6" r="57.3" fill="none" stroke="#000" stroke-width="3"/>
<line x1="122" y1="256.8" x2="217.2" y2="107.8" stroke="#000" stroke-width="3.2"/><polygon points="236,78.1 210.5,102.4 223.8,113.2" fill="#000" stroke="#000" stroke-width="1.5" stroke-linejoin="round"/>
<line x1="514.5" y1="350.2" x2="429.3" y2="478.9" stroke="#000" stroke-width="3.2"/><polygon points="410.4,508.6 422.1,474.9 436.5,483" fill="#000" stroke="#000" stroke-width="1.5" stroke-linejoin="round"/>
<line x1="403.6" y1="330" x2="498.8" y2="276.9" stroke="#000" stroke-width="3.2"/><polygon points="528.5,259.2 494.5,270.1 503.1,283.7" fill="#000" stroke="#000" stroke-width="1.5" stroke-linejoin="round"/>
<rect x="413.9" y="38.3" width="228.30000000000007" height="216.60000000000002" fill="#fff"/>
<clipPath id="ci"><rect x="413.9" y="38.3" width="228.30000000000007" height="216.60000000000002"/></clipPath>
<g clip-path="url(#ci)">
<polygon fill="#cf0000" points="425,28.7 425.4,28.9 425.8,29.2 426.2,29.4 426.6,29.6 427,29.9 427.4,30.1 427.8,30.3 428.2,30.6 428.6,30.8 429,31 429.4,31.2 429.8,31.5 430.2,31.7 430.6,31.9 431,32.2 431.4,32.4 431.8,32.6 432.2,32.9 432.6,33.1 433,33.3 433.4,33.5 433.8,33.8 434.2,34 434.6,34.2 435,34.4 435.4,34.7 435.8,34.9 436.2,35.1 436.6,35.4 437,35.6 437.4,35.8 437.8,36 438.2,36.3 438.6,36.5 439,36.7 439.4,36.9 439.8,37.2 440.2,37.4 440.6,37.6 441,37.8 441.4,38.1 441.8,38.3 442.2,38.5 442.6,38.8 443,39 443.4,39.2 443.8,39.4 444.2,39.7 444.6,39.9 445,40.1 445.4,40.3 445.8,40.5 446.2,40.8 446.6,41 447,41.2 447.4,41.4 447.8,41.7 448.2,41.9 448.6,42.1 449,42.3 449.4,42.6 449.8,42.8 450.2,43 450.6,43.2 451,43.5 451.4,43.7 451.8,43.9 452.2,44.1 452.6,44.3 453,44.6 453.4,44.8 453.8,45 454.2,45.2 454.6,45.5 455,45.7 455.4,45.9 455.8,46.1 456.2,46.3 456.6,46.6 457,46.8 457.4,47 457.8,47.2 458.2,47.4 458.6,47.7 459,47.9 459.4,48.1 459.8,48.3 460.2,48.5 460.6,48.8 461,49 461.4,49.2 461.8,49.4 462.2,49.6 462.6,49.9 463,50.1 463.4,50.3 463.8,50.5 464.2,50.7 464.6,51 465,51.2 465.4,51.4 465.8,51.6 466.2,51.8 466.6,52.1 467,52.3 467.4,52.5 467.8,52.7 468.2,52.9 468.6,53.2 469,53.4 469.4,53.6 469.8,53.8 470.2,54 470.6,54.2 471,54.5 471.4,54.7 471.8,54.9 472.2,55.1 472.6,55.3 473,55.6 473.4,55.8 473.8,56 474.2,56.2 474.6,56.4 475,56.6 475.4,56.9 475.8,57.1 476.2,57.3 476.6,57.5 477,57.7 477.4,57.9 477.8,58.2 478.2,58.4 478.6,58.6 479,58.8 479.4,59 479.8,59.2 480.2,59.5 480.6,59.7 481,59.9 481.4,60.1 481.8,60.3 482.2,60.5 482.6,60.8 483,61 483.4,61.2 483.8,61.4 484.2,61.6 484.6,61.8 485,62.1 485.4,62.3 485.8,62.5 486.2,62.7 486.6,62.9 487,63.1 487.4,63.4 487.8,63.6 488.2,63.8 488.6,64 489,64.2 489.4,64.4 489.8,64.7 490.2,64.9 490.6,65.1 491,65.3 491.4,65.5 491.8,65.7 492.2,66 492.6,66.2 493,66.4 493.4,66.6 493.8,66.8 494.2,67 494.6,67.2 495,67.5 495.4,67.7 495.8,67.9 496.2,68.1 496.6,68.3 497,68.5 497.4,68.8 497.8,69 498.2,69.2 498.6,69.4 499,69.6 499.4,69.8 499.8,70.1 500.2,70.3 500.6,70.5 501,70.7 501.4,70.9 501.8,71.1 502.2,71.3 502.6,71.6 503,71.8 503.4,72 503.8,72.2 504.2,72.4 504.6,72.6 505,72.9 505.4,73.1 505.8,73.3 506.2,73.5 506.6,73.7 507,73.9 507.4,74.1 507.8,74.4 508.2,74.6 508.6,74.8 509,75 509.4,75.2 509.8,75.4 510.2,75.7 510.6,75.9 511,76.1 511.4,76.3 511.8,76.5 512.2,76.7 512.6,77 513,77.2 513.4,77.4 513.8,77.6 514.2,77.8 514.6,78 515,78.2 515.4,78.5 515.8,78.7 516.2,78.9 516.6,79.1 517,79.3 517.4,79.5 517.8,79.8 518.2,80 518.6,80.2 519,80.4 519.4,80.6 519.8,80.8 520.2,81.1 520.6,81.3 521,81.5 521.4,81.7 521.8,81.9 522.2,82.1 522.6,82.4 523,82.6 523.4,82.8 523.8,83 524.2,83.2 524.6,83.4 525,83.7 525.4,83.9 525.8,84.1 526.2,84.3 526.6,84.5 527,84.7 527.4,85 527.8,85.2 528.2,85.4 528.6,85.6 529,85.8 529.4,86 529.8,86.3 530.2,86.5 530.6,86.7 531,86.9 531.4,87.1 531.8,87.3 532.2,87.6 532.6,87.8 533,88 533.4,88.2 533.8,88.4 534.2,88.7 534.6,88.9 535,89.1 535.4,89.3 535.8,89.5 536.2,89.7 536.6,90 537,90.2 537.4,90.4 537.8,90.6 538.2,90.8 538.6,91.1 539,91.3 539.4,91.5 539.8,91.7 540.2,91.9 540.6,92.2 541,92.4 541.4,92.6 541.8,92.8 542.2,93 542.6,93.3 543,93.5 543.4,93.7 543.8,93.9 544.2,94.1 544.6,94.4 545,94.6 545.4,94.8 545.8,95 546.2,95.2 546.6,95.5 547,95.7 547.4,95.9 547.8,96.1 548.2,96.3 548.6,96.6 549,96.8 549.4,97 549.8,97.2 550.2,97.4 550.6,97.7 551,97.9 551.4,98.1 551.8,98.3 552.2,98.6 552.6,98.8 553,99 553.4,99.2 553.8,99.4 554.2,99.7 554.6,99.9 555,100.1 555.4,100.3 555.8,100.6 556.2,100.8 556.6,101 557,101.2 557.4,101.5 557.8,101.7 558.2,101.9 558.6,102.1 559,102.3 559.4,102.6 559.8,102.8 560.2,103 560.6,103.2 561,103.5 561.4,103.7 561.8,103.9 562.2,104.1 562.6,104.4 563,104.6 563.4,104.8 563.8,105 564.2,105.3 564.6,105.5 565,105.7 565.4,105.9 565.8,106.2 566.2,106.4 566.6,106.6 567,106.8 567.4,107.1 567.8,107.3 568.2,107.5 568.6,107.8 569,108 569.4,108.2 569.8,108.4 570.2,108.7 570.6,108.9 571,109.1 571.4,109.3 571.8,109.6 572.2,109.8 572.6,110 573,110.3 573.4,110.5 573.8,110.7 574.2,110.9 574.6,111.2 575,111.4 575.4,111.6 575.8,111.9 576.2,112.1 576.6,112.3 577,112.6 577.4,112.8 577.8,113 578.2,113.2 578.6,113.5 579,113.7 579.4,113.9 579.8,114.2 580.2,114.4 580.6,114.6 581,114.9 581.4,115.1 581.8,115.3 582.2,115.6 582.6,115.8 583,116 583.4,116.3 583.8,116.5 584.2,116.7 584.6,117 585,117.2 585.4,117.4 585.8,117.7 586.2,117.9 586.6,118.1 587,118.4 587.4,118.6 587.8,118.8 588.2,119.1 588.6,119.3 589,119.5 589.4,119.8 589.8,120 590.2,120.2 590.6,120.5 591,120.7 591.4,121 591.8,121.2 592.2,121.4 592.6,121.7 593,121.9 593.4,122.1 593.8,122.4 594.2,122.6 594.6,122.8 595,123.1 595.4,123.3 595.8,123.6 596.2,123.8 596.6,124 597,124.3 597.4,124.5 597.8,124.8 598.2,125 598.6,125.2 599,125.5 599.4,125.7 599.8,126 600.2,126.2 600.6,126.4 601,126.7 601.4,126.9 601.8,127.2 602.2,127.4 602.6,127.6 603,127.9 603.4,128.1 603.8,128.4 604.2,128.6 604.6,128.9 605,129.1 605.4,129.3 605.8,129.6 606.2,129.8 606.6,130.1 607,130.3 607.4,130.6 607.8,130.8 608.2,131.1 608.6,131.3 609,131.5 609.4,131.8 609.8,132 610.2,132.3 610.6,132.5 611,132.8 611.4,133 611.8,133.3 612.2,133.5 612.6,133.8 613,134 613.4,134.3 613.8,134.5 614.2,134.8 614.6,135 615,135.3 615.4,135.5 615.8,135.8 616.2,136 616.6,136.3 617,136.5 617.4,136.8 617.8,137 618.2,137.3 618.6,137.5 619,137.8 619.4,138 619.8,138.3 620.2,138.5 620.6,138.8 621,139 621.4,139.3 621.8,139.5 622.2,139.8 622.6,140 623,140.3 623.4,140.5 623.8,140.8 624.2,141 624.6,141.3 625,141.6 625.4,141.8 625.8,142.1 626.2,142.3 626.6,142.6 627,142.8 627.4,143.1 627.8,143.3 628.2,143.6 628.6,143.9 629,144.1 629.4,144.4 629.8,144.6 630.2,144.9 630.6,145.2 631,145.4 631.4,145.7 631.8,145.9 632.2,146.2 632.6,146.4 633,146.7 633.4,147 633.8,147.2 634.2,147.5 634.6,147.8 635,148 635.4,148.3 635.8,148.5 636.2,148.8 636.6,149.1 637,149.3 637.4,149.6 637.8,149.9 638.2,150.1 638.6,150.4 639,150.6 639.4,150.9 639.8,151.2 640.2,151.4 640.6,151.7 641,152 641.4,152.2 641.8,152.5 642.2,152.8 642.6,153 643,153.3 643.4,153.6 643.8,153.8 644.2,154.1 644.6,154.4 645,154.7 645.4,154.9 645.8,155.2 646.2,155.5 646.6,155.7 647,156 647.4,156.3 647.8,156.5 648.2,156.8 648.6,157.1 649,157.4 649.4,157.6 649.8,157.9 649.8,163.5 649.4,163.2 649,162.9 648.6,162.7 648.2,162.4 647.8,162.1 647.4,161.8 647,161.6 646.6,161.3 646.2,161 645.8,160.7 645.4,160.5 645,160.2 644.6,159.9 644.2,159.7 643.8,159.4 643.4,159.1 643,158.8 642.6,158.6 642.2,158.3 641.8,158 641.4,157.8 641,157.5 640.6,157.2 640.2,157 639.8,156.7 639.4,156.4 639,156.2 638.6,155.9 638.2,155.6 637.8,155.4 637.4,155.1 637,154.8 636.6,154.6 636.2,154.3 635.8,154 635.4,153.8 635,153.5 634.6,153.3 634.2,153 633.8,152.7 633.4,152.5 633,152.2 632.6,151.9 632.2,151.7 631.8,151.4 631.4,151.2 631,150.9 630.6,150.6 630.2,150.4 629.8,150.1 629.4,149.9 629,149.6 628.6,149.3 628.2,149.1 627.8,148.8 627.4,148.6 627,148.3 626.6,148 626.2,147.8 625.8,147.5 625.4,147.3 625,147 624.6,146.8 624.2,146.5 623.8,146.2 623.4,146 623,145.7 622.6,145.5 622.2,145.2 621.8,145 621.4,144.7 621,144.5 620.6,144.2 620.2,144 619.8,143.7 619.4,143.4 619,143.2 618.6,142.9 618.2,142.7 617.8,142.4 617.4,142.2 617,141.9 616.6,141.7 616.2,141.4 615.8,141.2 615.4,140.9 615,140.7 614.6,140.4 614.2,140.2 613.8,139.9 613.4,139.7 613,139.4 612.6,139.2 612.2,138.9 611.8,138.7 611.4,138.4 611,138.2 610.6,137.9 610.2,137.7 609.8,137.4 609.4,137.2 609,136.9 608.6,136.7 608.2,136.5 607.8,136.2 607.4,136 607,135.7 606.6,135.5 606.2,135.2 605.8,135 605.4,134.7 605,134.5 604.6,134.2 604.2,134 603.8,133.8 603.4,133.5 603,133.3 602.6,133 602.2,132.8 601.8,132.5 601.4,132.3 601,132.1 600.6,131.8 600.2,131.6 599.8,131.3 599.4,131.1 599,130.8 598.6,130.6 598.2,130.4 597.8,130.1 597.4,129.9 597,129.6 596.6,129.4 596.2,129.2 595.8,128.9 595.4,128.7 595,128.4 594.6,128.2 594.2,128 593.8,127.7 593.4,127.5 593,127.2 592.6,127 592.2,126.8 591.8,126.5 591.4,126.3 591,126.1 590.6,125.8 590.2,125.6 589.8,125.3 589.4,125.1 589,124.9 588.6,124.6 588.2,124.4 587.8,124.2 587.4,123.9 587,123.7 586.6,123.5 586.2,123.2 585.8,123 585.4,122.8 585,122.5 584.6,122.3 584.2,122.1 583.8,121.8 583.4,121.6 583,121.4 582.6,121.1 582.2,120.9 581.8,120.7 581.4,120.4 581,120.2 580.6,120 580.2,119.7 579.8,119.5 579.4,119.3 579,119 578.6,118.8 578.2,118.6 577.8,118.3 577.4,118.1 577,117.9 576.6,117.6 576.2,117.4 575.8,117.2 575.4,116.9 575,116.7 574.6,116.5 574.2,116.3 573.8,116 573.4,115.8 573,115.6 572.6,115.3 572.2,115.1 571.8,114.9 571.4,114.6 571,114.4 570.6,114.2 570.2,114 569.8,113.7 569.4,113.5 569,113.3 568.6,113 568.2,112.8 567.8,112.6 567.4,112.4 567,112.1 566.6,111.9 566.2,111.7 565.8,111.5 565.4,111.2 565,111 564.6,110.8 564.2,110.6 563.8,110.3 563.4,110.1 563,109.9 562.6,109.6 562.2,109.4 561.8,109.2 561.4,109 561,108.7 560.6,108.5 560.2,108.3 559.8,108.1 559.4,107.8 559,107.6 558.6,107.4 558.2,107.2 557.8,106.9 557.4,106.7 557,106.5 556.6,106.3 556.2,106 555.8,105.8 555.4,105.6 555,105.4 554.6,105.2 554.2,104.9 553.8,104.7 553.4,104.5 553,104.3 552.6,104 552.2,103.8 551.8,103.6 551.4,103.4 551,103.2 550.6,102.9 550.2,102.7 549.8,102.5 549.4,102.3 549,102 548.6,101.8 548.2,101.6 547.8,101.4 547.4,101.2 547,100.9 546.6,100.7 546.2,100.5 545.8,100.3 545.4,100 545,99.8 544.6,99.6 544.2,99.4 543.8,99.2 543.4,98.9 543,98.7 542.6,98.5 542.2,98.3 541.8,98.1 541.4,97.8 541,97.6 540.6,97.4 540.2,97.2 539.8,97 539.4,96.7 539,96.5 538.6,96.3 538.2,96.1 537.8,95.9 537.4,95.6 537,95.4 536.6,95.2 536.2,95 535.8,94.8 535.4,94.6 535,94.3 534.6,94.1 534.2,93.9 533.8,93.7 533.4,93.5 533,93.2 532.6,93 532.2,92.8 531.8,92.6 531.4,92.4 531,92.2 530.6,91.9 530.2,91.7 529.8,91.5 529.4,91.3 529,91.1 528.6,90.8 528.2,90.6 527.8,90.4 527.4,90.2 527,90 526.6,89.8 526.2,89.5 525.8,89.3 525.4,89.1 525,88.9 524.6,88.7 524.2,88.5 523.8,88.2 523.4,88 523,87.8 522.6,87.6 522.2,87.4 521.8,87.2 521.4,86.9 521,86.7 520.6,86.5 520.2,86.3 519.8,86.1 519.4,85.9 519,85.6 518.6,85.4 518.2,85.2 517.8,85 517.4,84.8 517,84.6 516.6,84.3 516.2,84.1 515.8,83.9 515.4,83.7 515,83.5 514.6,83.3 514.2,83 513.8,82.8 513.4,82.6 513,82.4 512.6,82.2 512.2,82 511.8,81.7 511.4,81.5 511,81.3 510.6,81.1 510.2,80.9 509.8,80.7 509.4,80.5 509,80.2 508.6,80 508.2,79.8 507.8,79.6 507.4,79.4 507,79.2 506.6,78.9 506.2,78.7 505.8,78.5 505.4,78.3 505,78.1 504.6,77.9 504.2,77.6 503.8,77.4 503.4,77.2 503,77 502.6,76.8 502.2,76.6 501.8,76.4 501.4,76.1 501,75.9 500.6,75.7 500.2,75.5 499.8,75.3 499.4,75.1 499,74.8 498.6,74.6 498.2,74.4 497.8,74.2 497.4,74 497,73.8 496.6,73.6 496.2,73.3 495.8,73.1 495.4,72.9 495,72.7 494.6,72.5 494.2,72.3 493.8,72 493.4,71.8 493,71.6 492.6,71.4 492.2,71.2 491.8,71 491.4,70.7 491,70.5 490.6,70.3 490.2,70.1 489.8,69.9 489.4,69.7 489,69.5 488.6,69.2 488.2,69 487.8,68.8 487.4,68.6 487,68.4 486.6,68.2 486.2,67.9 485.8,67.7 485.4,67.5 485,67.3 484.6,67.1 484.2,66.9 483.8,66.6 483.4,66.4 483,66.2 482.6,66 482.2,65.8 481.8,65.6 481.4,65.3 481,65.1 480.6,64.9 480.2,64.7 479.8,64.5 479.4,64.3 479,64 478.6,63.8 478.2,63.6 477.8,63.4 477.4,63.2 477,63 476.6,62.7 476.2,62.5 475.8,62.3 475.4,62.1 475,61.9 474.6,61.7 474.2,61.4 473.8,61.2 473.4,61 473,60.8 472.6,60.6 472.2,60.4 471.8,60.1 471.4,59.9 471,59.7 470.6,59.5 470.2,59.3 469.8,59 469.4,58.8 469,58.6 468.6,58.4 468.2,58.2 467.8,58 467.4,57.7 467,57.5 466.6,57.3 466.2,57.1 465.8,56.9 465.4,56.6 465,56.4 464.6,56.2 464.2,56 463.8,55.8 463.4,55.6 463,55.3 462.6,55.1 462.2,54.9 461.8,54.7 461.4,54.5 461,54.2 460.6,54 460.2,53.8 459.8,53.6 459.4,53.4 459,53.1 458.6,52.9 458.2,52.7 457.8,52.5 457.4,52.3 457,52 456.6,51.8 456.2,51.6 455.8,51.4 455.4,51.2 455,50.9 454.6,50.7 454.2,50.5 453.8,50.3 453.4,50 453,49.8 452.6,49.6 452.2,49.4 451.8,49.2 451.4,48.9 451,48.7 450.6,48.5 450.2,48.3 449.8,48 449.4,47.8 449,47.6 448.6,47.4 448.2,47.2 447.8,46.9 447.4,46.7 447,46.5 446.6,46.3 446.2,46 445.8,45.8 445.4,45.6 445,45.4 444.6,45.1 444.2,44.9 443.8,44.7 443.4,44.5 443,44.3 442.6,44 442.2,43.8 441.8,43.6 441.4,43.4 441,43.1 440.6,42.9 440.2,42.7 439.8,42.5 439.4,42.2 439,42 438.6,41.8 438.2,41.6 437.8,41.3 437.4,41.1 437,40.9 436.6,40.6 436.2,40.4 435.8,40.2 435.4,40 435,39.7 434.6,39.5 434.2,39.3 433.8,39.1 433.4,38.8 433,38.6 432.6,38.4 432.2,38.1 431.8,37.9 431.4,37.7 431,37.5 430.6,37.2 430.2,37 429.8,36.8 429.4,36.5 429,36.3 428.6,36.1 428.2,35.9 427.8,35.6 427.4,35.4 427,35.2 426.6,34.9 426.2,34.7 425.8,34.5 425.4,34.3 425,34"/>
<polygon fill="#cf0000" points="405,36 405.4,36.3 405.8,36.5 406.2,36.8 406.6,37 407,37.3 407.4,37.6 407.8,37.8 408.2,38.1 408.6,38.4 409,38.6 409.4,38.9 409.8,39.1 410.2,39.4 410.6,39.7 411,39.9 411.4,40.2 411.8,40.5 412.2,40.7 412.6,41 413,41.3 413.4,41.5 413.8,41.8 414.2,42 414.6,42.3 415,42.6 415.4,42.8 415.8,43.1 416.2,43.4 416.6,43.6 417,43.9 417.4,44.2 417.8,44.4 418.2,44.7 418.6,45 419,45.2 419.4,45.5 419.8,45.7 420.2,46 420.6,46.3 421,46.5 421.4,46.8 421.8,47.1 422.2,47.3 422.6,47.6 423,47.9 423.4,48.1 423.8,48.4 424.2,48.7 424.6,48.9 425,49.2 425.4,49.5 425.8,49.7 426.2,50 426.6,50.3 427,50.5 427.4,50.8 427.8,51.1 428.2,51.3 428.6,51.6 429,51.9 429.4,52.1 429.8,52.4 430.2,52.7 430.6,52.9 431,53.2 431.4,53.5 431.8,53.7 432.2,54 432.6,54.3 433,54.5 433.4,54.8 433.8,55.1 434.2,55.3 434.6,55.6 435,55.9 435.4,56.2 435.8,56.4 436.2,56.7 436.6,57 437,57.2 437.4,57.5 437.8,57.8 438.2,58 438.6,58.3 439,58.6 439.4,58.8 439.8,59.1 440.2,59.4 440.6,59.6 441,59.9 441.4,60.2 441.8,60.5 442.2,60.7 442.6,61 443,61.3 443.4,61.5 443.8,61.8 444.2,62.1 444.6,62.3 445,62.6 445.4,62.9 445.8,63.2 446.2,63.4 446.6,63.7 447,64 447.4,64.2 447.8,64.5 448.2,64.8 448.6,65.1 449,65.3 449.4,65.6 449.8,65.9 450.2,66.1 450.6,66.4 451,66.7 451.4,67 451.8,67.2 452.2,67.5 452.6,67.8 453,68 453.4,68.3 453.8,68.6 454.2,68.9 454.6,69.1 455,69.4 455.4,69.7 455.8,69.9 456.2,70.2 456.6,70.5 457,70.8 457.4,71 457.8,71.3 458.2,71.6 458.6,71.8 459,72.1 459.4,72.4 459.8,72.7 460.2,72.9 460.6,73.2 461,73.5 461.4,73.8 461.8,74 462.2,74.3 462.6,74.6 463,74.9 463.4,75.1 463.8,75.4 464.2,75.7 464.6,75.9 465,76.2 465.4,76.5 465.8,76.8 466.2,77 466.6,77.3 467,77.6 467.4,77.9 467.8,78.1 468.2,78.4 468.6,78.7 469,79 469.4,79.2 469.8,79.5 470.2,79.8 470.6,80.1 471,80.3 471.4,80.6 471.8,80.9 472.2,81.2 472.6,81.4 473,81.7 473.4,82 473.8,82.3 474.2,82.5 474.6,82.8 475,83.1 475.4,83.4 475.8,83.6 476.2,83.9 476.6,84.2 477,84.5 477.4,84.7 477.8,85 478.2,85.3 478.6,85.6 479,85.8 479.4,86.1 479.8,86.4 480.2,86.7 480.6,86.9 481,87.2 481.4,87.5 481.8,87.8 482.2,88 482.6,88.3 483,88.6 483.4,88.9 483.8,89.2 484.2,89.4 484.6,89.7 485,90 485.4,90.3 485.8,90.5 486.2,90.8 486.6,91.1 487,91.4 487.4,91.6 487.8,91.9 488.2,92.2 488.6,92.5 489,92.8 489.4,93 489.8,93.3 490.2,93.6 490.6,93.9 491,94.1 491.4,94.4 491.8,94.7 492.2,95 492.6,95.3 493,95.5 493.4,95.8 493.8,96.1 494.2,96.4 494.6,96.6 495,96.9 495.4,97.2 495.8,97.5 496.2,97.8 496.6,98 497,98.3 497.4,98.6 497.8,98.9 498.2,99.1 498.6,99.4 499,99.7 499.4,100 499.8,100.3 500.2,100.5 500.6,100.8 501,101.1 501.4,101.4 501.8,101.6 502.2,101.9 502.6,102.2 503,102.5 503.4,102.8 503.8,103 504.2,103.3 504.6,103.6 505,103.9 505.4,104.2 505.8,104.4 506.2,104.7 506.6,105 507,105.3 507.4,105.6 507.8,105.8 508.2,106.1 508.6,106.4 509,106.7 509.4,107 509.8,107.2 510.2,107.5 510.6,107.8 511,108.1 511.4,108.4 511.8,108.6 512.2,108.9 512.6,109.2 513,109.5 513.4,109.8 513.8,110 514.2,110.3 514.6,110.6 515,110.9 515.4,111.2 515.8,111.4 516.2,111.7 516.6,112 517,112.3 517.4,112.6 517.8,112.8 518.2,113.1 518.6,113.4 519,113.7 519.4,114 519.8,114.2 520.2,114.5 520.6,114.8 521,115.1 521.4,115.4 521.8,115.6 522.2,115.9 522.6,116.2 523,116.5 523.4,116.8 523.8,117 524.2,117.3 524.6,117.6 525,117.9 525.4,118.2 525.8,118.4 526.2,118.7 526.6,119 527,119.3 527.4,119.6 527.8,119.9 528.2,120.1 528.6,120.4 529,120.7 529.4,121 529.8,121.3 530.2,121.5 530.6,121.8 531,122.1 531.4,122.4 531.8,122.7 532.2,122.9 532.6,123.2 533,123.5 533.4,123.8 533.8,124.1 534.2,124.4 534.6,124.6 535,124.9 535.4,125.2 535.8,125.5 536.2,125.8 536.6,126 537,126.3 537.4,126.6 537.8,126.9 538.2,127.2 538.6,127.5 539,127.7 539.4,128 539.8,128.3 540.2,128.6 540.6,128.9 541,129.1 541.4,129.4 541.8,129.7 542.2,130 542.6,130.3 543,130.6 543.4,130.8 543.8,131.1 544.2,131.4 544.6,131.7 545,132 545.4,132.2 545.8,132.5 546.2,132.8 546.6,133.1 547,133.4 547.4,133.7 547.8,133.9 548.2,134.2 548.6,134.5 549,134.8 549.4,135.1 549.8,135.4 550.2,135.6 550.6,135.9 551,136.2 551.4,136.5 551.8,136.8 552.2,137.1 552.6,137.3 553,137.6 553.4,137.9 553.8,138.2 554.2,138.5 554.6,138.7 555,139 555.4,139.3 555.8,139.6 556.2,139.9 556.6,140.2 557,140.4 557.4,140.7 557.8,141 558.2,141.3 558.6,141.6 559,141.9 559.4,142.1 559.8,142.4 560.2,142.7 560.6,143 561,143.3 561.4,143.6 561.8,143.8 562.2,144.1 562.6,144.4 563,144.7 563.4,145 563.8,145.3 564.2,145.5 564.6,145.8 565,146.1 565.4,146.4 565.8,146.7 566.2,147 566.6,147.2 567,147.5 567.4,147.8 567.8,148.1 568.2,148.4 568.6,148.7 569,148.9 569.4,149.2 569.8,149.5 570.2,149.8 570.6,150.1 571,150.3 571.4,150.6 571.8,150.9 572.2,151.2 572.6,151.5 573,151.8 573.4,152 573.8,152.3 574.2,152.6 574.6,152.9 575,153.2 575.4,153.5 575.8,153.7 576.2,154 576.6,154.3 577,154.6 577.4,154.9 577.8,155.2 578.2,155.4 578.6,155.7 579,156 579.4,156.3 579.8,156.6 580.2,156.9 580.6,157.1 581,157.4 581.4,157.7 581.8,158 582.2,158.3 582.6,158.6 583,158.8 583.4,159.1 583.8,159.4 584.2,159.7 584.6,160 585,160.3 585.4,160.5 585.8,160.8 586.2,161.1 586.6,161.4 587,161.7 587.4,162 587.8,162.2 588.2,162.5 588.6,162.8 589,163.1 589.4,163.4 589.8,163.7 590.2,163.9 590.6,164.2 591,164.5 591.4,164.8 591.8,165.1 592.2,165.4 592.6,165.6 593,165.9 593.4,166.2 593.8,166.5 594.2,166.8 594.6,167.1 595,167.3 595.4,167.6 595.8,167.9 596.2,168.2 596.6,168.5 597,168.8 597.4,169 597.8,169.3 598.2,169.6 598.6,169.9 599,170.2 599.4,170.5 599.8,170.7 600.2,171 600.6,171.3 601,171.6 601.4,171.9 601.8,172.2 602.2,172.4 602.6,172.7 603,173 603.4,173.3 603.8,173.6 604.2,173.9 604.6,174.1 605,174.4 605.4,174.7 605.8,175 606.2,175.3 606.6,175.6 607,175.8 607.4,176.1 607.8,176.4 608.2,176.7 608.6,177 609,177.3 609.4,177.5 609.8,177.8 610.2,178.1 610.6,178.4 611,178.7 611.4,178.9 611.8,179.2 612.2,179.5 612.6,179.8 613,180.1 613.4,180.4 613.8,180.6 614.2,180.9 614.6,181.2 615,181.5 615.4,181.8 615.8,182.1 616.2,182.3 616.6,182.6 617,182.9 617.4,183.2 617.8,183.5 618.2,183.8 618.6,184 619,184.3 619.4,184.6 619.8,184.9 620.2,185.2 620.6,185.4 621,185.7 621.4,186 621.8,186.3 622.2,186.6 622.6,186.9 623,187.1 623.4,187.4 623.8,187.7 624.2,188 624.6,188.3 625,188.6 625.4,188.8 625.8,189.1 626.2,189.4 626.6,189.7 627,190 627.4,190.2 627.8,190.5 628.2,190.8 628.6,191.1 629,191.4 629.4,191.7 629.8,191.9 630.2,192.2 630.6,192.5 631,192.8 631.4,193.1 631.8,193.3 632.2,193.6 632.6,193.9 633,194.2 633.4,194.5 633.8,194.8 634.2,195 634.6,195.3 635,195.6 635.4,195.9 635.8,196.2 636.2,196.4 636.6,196.7 637,197 637.4,197.3 637.8,197.6 638.2,197.9 638.6,198.1 639,198.4 639.4,198.7 639.8,199 640.2,199.3 640.6,199.5 641,199.8 641.4,200.1 641.8,200.4 642.2,200.7 642.6,200.9 643,201.2 643.4,201.5 643.8,201.8 644.2,202.1 644.6,202.3 645,202.6 645.4,202.9 645.8,203.2 646.2,203.5 646.6,203.8 647,204 647.4,204.3 647.8,204.6 648.2,204.9 648.6,205.2 649,205.4 649.4,205.7 649.8,206 649.8,211.6 649.4,211.3 649,211.1 648.6,210.8 648.2,210.5 647.8,210.2 647.4,209.9 647,209.7 646.6,209.4 646.2,209.1 645.8,208.8 645.4,208.5 645,208.3 644.6,208 644.2,207.7 643.8,207.4 643.4,207.1 643,206.8 642.6,206.6 642.2,206.3 641.8,206 641.4,205.7 641,205.4 640.6,205.2 640.2,204.9 639.8,204.6 639.4,204.3 639,204 638.6,203.8 638.2,203.5 637.8,203.2 637.4,202.9 637,202.6 636.6,202.4 636.2,202.1 635.8,201.8 635.4,201.5 635,201.2 634.6,200.9 634.2,200.7 633.8,200.4 633.4,200.1 633,199.8 632.6,199.5 632.2,199.3 631.8,199 631.4,198.7 631,198.4 630.6,198.1 630.2,197.8 629.8,197.6 629.4,197.3 629,197 628.6,196.7 628.2,196.4 627.8,196.2 627.4,195.9 627,195.6 626.6,195.3 626.2,195 625.8,194.7 625.4,194.5 625,194.2 624.6,193.9 624.2,193.6 623.8,193.3 623.4,193.1 623,192.8 622.6,192.5 622.2,192.2 621.8,191.9 621.4,191.6 621,191.4 620.6,191.1 620.2,190.8 619.8,190.5 619.4,190.2 619,190 618.6,189.7 618.2,189.4 617.8,189.1 617.4,188.8 617,188.5 616.6,188.3 616.2,188 615.8,187.7 615.4,187.4 615,187.1 614.6,186.8 614.2,186.6 613.8,186.3 613.4,186 613,185.7 612.6,185.4 612.2,185.1 611.8,184.9 611.4,184.6 611,184.3 610.6,184 610.2,183.7 609.8,183.5 609.4,183.2 609,182.9 608.6,182.6 608.2,182.3 607.8,182 607.4,181.8 607,181.5 606.6,181.2 606.2,180.9 605.8,180.6 605.4,180.3 605,180.1 604.6,179.8 604.2,179.5 603.8,179.2 603.4,178.9 603,178.6 602.6,178.4 602.2,178.1 601.8,177.8 601.4,177.5 601,177.2 600.6,176.9 600.2,176.7 599.8,176.4 599.4,176.1 599,175.8 598.6,175.5 598.2,175.2 597.8,175 597.4,174.7 597,174.4 596.6,174.1 596.2,173.8 595.8,173.5 595.4,173.3 595,173 594.6,172.7 594.2,172.4 593.8,172.1 593.4,171.8 593,171.6 592.6,171.3 592.2,171 591.8,170.7 591.4,170.4 591,170.1 590.6,169.9 590.2,169.6 589.8,169.3 589.4,169 589,168.7 588.6,168.5 588.2,168.2 587.8,167.9 587.4,167.6 587,167.3 586.6,167 586.2,166.8 585.8,166.5 585.4,166.2 585,165.9 584.6,165.6 584.2,165.3 583.8,165.1 583.4,164.8 583,164.5 582.6,164.2 582.2,163.9 581.8,163.6 581.4,163.4 581,163.1 580.6,162.8 580.2,162.5 579.8,162.2 579.4,161.9 579,161.7 578.6,161.4 578.2,161.1 577.8,160.8 577.4,160.5 577,160.2 576.6,160 576.2,159.7 575.8,159.4 575.4,159.1 575,158.8 574.6,158.5 574.2,158.3 573.8,158 573.4,157.7 573,157.4 572.6,157.1 572.2,156.8 571.8,156.6 571.4,156.3 571,156 570.6,155.7 570.2,155.4 569.8,155.1 569.4,154.9 569,154.6 568.6,154.3 568.2,154 567.8,153.7 567.4,153.4 567,153.2 566.6,152.9 566.2,152.6 565.8,152.3 565.4,152 565,151.7 564.6,151.5 564.2,151.2 563.8,150.9 563.4,150.6 563,150.3 562.6,150 562.2,149.8 561.8,149.5 561.4,149.2 561,148.9 560.6,148.6 560.2,148.3 559.8,148.1 559.4,147.8 559,147.5 558.6,147.2 558.2,146.9 557.8,146.6 557.4,146.4 557,146.1 556.6,145.8 556.2,145.5 555.8,145.2 555.4,144.9 555,144.7 554.6,144.4 554.2,144.1 553.8,143.8 553.4,143.5 553,143.2 552.6,143 552.2,142.7 551.8,142.4 551.4,142.1 551,141.8 550.6,141.6 550.2,141.3 549.8,141 549.4,140.7 549,140.4 548.6,140.1 548.2,139.9 547.8,139.6 547.4,139.3 547,139 546.6,138.7 546.2,138.4 545.8,138.2 545.4,137.9 545,137.6 544.6,137.3 544.2,137 543.8,136.8 543.4,136.5 543,136.2 542.6,135.9 542.2,135.6 541.8,135.3 541.4,135.1 541,134.8 540.6,134.5 540.2,134.2 539.8,133.9 539.4,133.6 539,133.4 538.6,133.1 538.2,132.8 537.8,132.5 537.4,132.2 537,132 536.6,131.7 536.2,131.4 535.8,131.1 535.4,130.8 535,130.5 534.6,130.3 534.2,130 533.8,129.7 533.4,129.4 533,129.1 532.6,128.9 532.2,128.6 531.8,128.3 531.4,128 531,127.7 530.6,127.4 530.2,127.2 529.8,126.9 529.4,126.6 529,126.3 528.6,126 528.2,125.8 527.8,125.5 527.4,125.2 527,124.9 526.6,124.6 526.2,124.3 525.8,124.1 525.4,123.8 525,123.5 524.6,123.2 524.2,122.9 523.8,122.7 523.4,122.4 523,122.1 522.6,121.8 522.2,121.5 521.8,121.3 521.4,121 521,120.7 520.6,120.4 520.2,120.1 519.8,119.9 519.4,119.6 519,119.3 518.6,119 518.2,118.7 517.8,118.5 517.4,118.2 517,117.9 516.6,117.6 516.2,117.3 515.8,117 515.4,116.8 515,116.5 514.6,116.2 514.2,115.9 513.8,115.6 513.4,115.4 513,115.1 512.6,114.8 512.2,114.5 511.8,114.2 511.4,114 511,113.7 510.6,113.4 510.2,113.1 509.8,112.8 509.4,112.6 509,112.3 508.6,112 508.2,111.7 507.8,111.4 507.4,111.2 507,110.9 506.6,110.6 506.2,110.3 505.8,110 505.4,109.8 505,109.5 504.6,109.2 504.2,108.9 503.8,108.7 503.4,108.4 503,108.1 502.6,107.8 502.2,107.5 501.8,107.3 501.4,107 501,106.7 500.6,106.4 500.2,106.1 499.8,105.9 499.4,105.6 499,105.3 498.6,105 498.2,104.7 497.8,104.5 497.4,104.2 497,103.9 496.6,103.6 496.2,103.4 495.8,103.1 495.4,102.8 495,102.5 494.6,102.2 494.2,102 493.8,101.7 493.4,101.4 493,101.1 492.6,100.9 492.2,100.6 491.8,100.3 491.4,100 491,99.7 490.6,99.5 490.2,99.2 489.8,98.9 489.4,98.6 489,98.4 488.6,98.1 488.2,97.8 487.8,97.5 487.4,97.2 487,97 486.6,96.7 486.2,96.4 485.8,96.1 485.4,95.9 485,95.6 484.6,95.3 484.2,95 483.8,94.7 483.4,94.5 483,94.2 482.6,93.9 482.2,93.6 481.8,93.4 481.4,93.1 481,92.8 480.6,92.5 480.2,92.3 479.8,92 479.4,91.7 479,91.4 478.6,91.2 478.2,90.9 477.8,90.6 477.4,90.3 477,90 476.6,89.8 476.2,89.5 475.8,89.2 475.4,88.9 475,88.7 474.6,88.4 474.2,88.1 473.8,87.8 473.4,87.6 473,87.3 472.6,87 472.2,86.7 471.8,86.5 471.4,86.2 471,85.9 470.6,85.6 470.2,85.4 469.8,85.1 469.4,84.8 469,84.5 468.6,84.3 468.2,84 467.8,83.7 467.4,83.4 467,83.2 466.6,82.9 466.2,82.6 465.8,82.3 465.4,82.1 465,81.8 464.6,81.5 464.2,81.2 463.8,81 463.4,80.7 463,80.4 462.6,80.2 462.2,79.9 461.8,79.6 461.4,79.3 461,79.1 460.6,78.8 460.2,78.5 459.8,78.2 459.4,78 459,77.7 458.6,77.4 458.2,77.1 457.8,76.9 457.4,76.6 457,76.3 456.6,76.1 456.2,75.8 455.8,75.5 455.4,75.2 455,75 454.6,74.7 454.2,74.4 453.8,74.1 453.4,73.9 453,73.6 452.6,73.3 452.2,73.1 451.8,72.8 451.4,72.5 451,72.2 450.6,72 450.2,71.7 449.8,71.4 449.4,71.2 449,70.9 448.6,70.6 448.2,70.3 447.8,70.1 447.4,69.8 447,69.5 446.6,69.3 446.2,69 445.8,68.7 445.4,68.4 445,68.2 444.6,67.9 444.2,67.6 443.8,67.4 443.4,67.1 443,66.8 442.6,66.5 442.2,66.3 441.8,66 441.4,65.7 441,65.5 440.6,65.2 440.2,64.9 439.8,64.7 439.4,64.4 439,64.1 438.6,63.8 438.2,63.6 437.8,63.3 437.4,63 437,62.8 436.6,62.5 436.2,62.2 435.8,62 435.4,61.7 435,61.4 434.6,61.2 434.2,60.9 433.8,60.6 433.4,60.3 433,60.1 432.6,59.8 432.2,59.5 431.8,59.3 431.4,59 431,58.7 430.6,58.5 430.2,58.2 429.8,57.9 429.4,57.7 429,57.4 428.6,57.1 428.2,56.9 427.8,56.6 427.4,56.3 427,56.1 426.6,55.8 426.2,55.5 425.8,55.3 425.4,55 425,54.7 424.6,54.5 424.2,54.2 423.8,53.9 423.4,53.7 423,53.4 422.6,53.1 422.2,52.9 421.8,52.6 421.4,52.3 421,52.1 420.6,51.8 420.2,51.5 419.8,51.3 419.4,51 419,50.7 418.6,50.5 418.2,50.2 417.8,49.9 417.4,49.7 417,49.4 416.6,49.1 416.2,48.9 415.8,48.6 415.4,48.3 415,48.1 414.6,47.8 414.2,47.6 413.8,47.3 413.4,47 413,46.8 412.6,46.5 412.2,46.2 411.8,46 411.4,45.7 411,45.4 410.6,45.2 410.2,44.9 409.8,44.7 409.4,44.4 409,44.1 408.6,43.9 408.2,43.6 407.8,43.3 407.4,43.1 407,42.8 406.6,42.5 406.2,42.3 405.8,42 405.4,41.8 405,41.5"/>
<polygon fill="#cf0000" points="405,51.2 405.4,51.5 405.8,51.8 406.2,52.1 406.6,52.4 407,52.7 407.4,53 407.8,53.3 408.2,53.6 408.6,53.9 409,54.2 409.4,54.5 409.8,54.8 410.2,55.1 410.6,55.4 411,55.8 411.4,56.1 411.8,56.4 412.2,56.7 412.6,57 413,57.3 413.4,57.6 413.8,57.9 414.2,58.2 414.6,58.6 415,58.9 415.4,59.2 415.8,59.5 416.2,59.8 416.6,60.1 417,60.4 417.4,60.8 417.8,61.1 418.2,61.4 418.6,61.7 419,62 419.4,62.3 419.8,62.7 420.2,63 420.6,63.3 421,63.6 421.4,63.9 421.8,64.2 422.2,64.6 422.6,64.9 423,65.2 423.4,65.5 423.8,65.8 424.2,66.2 424.6,66.5 425,66.8 425.4,67.1 425.8,67.5 426.2,67.8 426.6,68.1 427,68.4 427.4,68.8 427.8,69.1 428.2,69.4 428.6,69.7 429,70.1 429.4,70.4 429.8,70.7 430.2,71 430.6,71.4 431,71.7 431.4,72 431.8,72.3 432.2,72.7 432.6,73 433,73.3 433.4,73.7 433.8,74 434.2,74.3 434.6,74.6 435,75 435.4,75.3 435.8,75.6 436.2,76 436.6,76.3 437,76.6 437.4,77 437.8,77.3 438.2,77.6 438.6,78 439,78.3 439.4,78.6 439.8,79 440.2,79.3 440.6,79.6 441,80 441.4,80.3 441.8,80.6 442.2,81 442.6,81.3 443,81.6 443.4,82 443.8,82.3 444.2,82.6 444.6,83 445,83.3 445.4,83.6 445.8,84 446.2,84.3 446.6,84.7 447,85 447.4,85.3 447.8,85.7 448.2,86 448.6,86.4 449,86.7 449.4,87 449.8,87.4 450.2,87.7 450.6,88.1 451,88.4 451.4,88.7 451.8,89.1 452.2,89.4 452.6,89.8 453,90.1 453.4,90.4 453.8,90.8 454.2,91.1 454.6,91.5 455,91.8 455.4,92.2 455.8,92.5 456.2,92.8 456.6,93.2 457,93.5 457.4,93.9 457.8,94.2 458.2,94.6 458.6,94.9 459,95.3 459.4,95.6 459.8,96 460.2,96.3 460.6,96.6 461,97 461.4,97.3 461.8,97.7 462.2,98 462.6,98.4 463,98.7 463.4,99.1 463.8,99.4 464.2,99.8 464.6,100.1 465,100.5 465.4,100.8 465.8,101.2 466.2,101.5 466.6,101.9 467,102.2 467.4,102.6 467.8,102.9 468.2,103.3 468.6,103.6 469,104 469.4,104.3 469.8,104.7 470.2,105 470.6,105.4 471,105.7 471.4,106.1 471.8,106.4 472.2,106.8 472.6,107.1 473,107.5 473.4,107.8 473.8,108.2 474.2,108.5 474.6,108.9 475,109.2 475.4,109.6 475.8,109.9 476.2,110.3 476.6,110.6 477,111 477.4,111.3 477.8,111.7 478.2,112.1 478.6,112.4 479,112.8 479.4,113.1 479.8,113.5 480.2,113.8 480.6,114.2 481,114.5 481.4,114.9 481.8,115.2 482.2,115.6 482.6,116 483,116.3 483.4,116.7 483.8,117 484.2,117.4 484.6,117.7 485,118.1 485.4,118.4 485.8,118.8 486.2,119.2 486.6,119.5 487,119.9 487.4,120.2 487.8,120.6 488.2,120.9 488.6,121.3 489,121.7 489.4,122 489.8,122.4 490.2,122.7 490.6,123.1 491,123.4 491.4,123.8 491.8,124.2 492.2,124.5 492.6,124.9 493,125.2 493.4,125.6 493.8,125.9 494.2,126.3 494.6,126.7 495,127 495.4,127.4 495.8,127.7 496.2,128.1 496.6,128.5 497,128.8 497.4,129.2 497.8,129.5 498.2,129.9 498.6,130.2 499,130.6 499.4,131 499.8,131.3 500.2,131.7 500.6,132 501,132.4 501.4,132.8 501.8,133.1 502.2,133.5 502.6,133.8 503,134.2 503.4,134.6 503.8,134.9 504.2,135.3 504.6,135.6 505,136 505.4,136.4 505.8,136.7 506.2,137.1 506.6,137.4 507,137.8 507.4,138.2 507.8,138.5 508.2,138.9 508.6,139.2 509,139.6 509.4,140 509.8,140.3 510.2,140.7 510.6,141 511,141.4 511.4,141.8 511.8,142.1 512.2,142.5 512.6,142.8 513,143.2 513.4,143.6 513.8,143.9 514.2,144.3 514.6,144.6 515,145 515.4,145.4 515.8,145.7 516.2,146.1 516.6,146.4 517,146.8 517.4,147.2 517.8,147.5 518.2,147.9 518.6,148.2 519,148.6 519.4,149 519.8,149.3 520.2,149.7 520.6,150.1 521,150.4 521.4,150.8 521.8,151.1 522.2,151.5 522.6,151.9 523,152.2 523.4,152.6 523.8,152.9 524.2,153.3 524.6,153.7 525,154 525.4,154.4 525.8,154.7 526.2,155.1 526.6,155.5 527,155.8 527.4,156.2 527.8,156.5 528.2,156.9 528.6,157.3 529,157.6 529.4,158 529.8,158.3 530.2,158.7 530.6,159.1 531,159.4 531.4,159.8 531.8,160.1 532.2,160.5 532.6,160.8 533,161.2 533.4,161.6 533.8,161.9 534.2,162.3 534.6,162.6 535,163 535.4,163.4 535.8,163.7 536.2,164.1 536.6,164.4 537,164.8 537.4,165.2 537.8,165.5 538.2,165.9 538.6,166.2 539,166.6 539.4,166.9 539.8,167.3 540.2,167.7 540.6,168 541,168.4 541.4,168.7 541.8,169.1 542.2,169.4 542.6,169.8 543,170.2 543.4,170.5 543.8,170.9 544.2,171.2 544.6,171.6 545,171.9 545.4,172.3 545.8,172.7 546.2,173 546.6,173.4 547,173.7 547.4,174.1 547.8,174.4 548.2,174.8 548.6,175.2 549,175.5 549.4,175.9 549.8,176.2 550.2,176.6 550.6,176.9 551,177.3 551.4,177.6 551.8,178 552.2,178.3 552.6,178.7 553,179.1 553.4,179.4 553.8,179.8 554.2,180.1 554.6,180.5 555,180.8 555.4,181.2 555.8,181.5 556.2,181.9 556.6,182.2 557,182.6 557.4,182.9 557.8,183.3 558.2,183.6 558.6,184 559,184.4 559.4,184.7 559.8,185.1 560.2,185.4 560.6,185.8 561,186.1 561.4,186.5 561.8,186.8 562.2,187.2 562.6,187.5 563,187.9 563.4,188.2 563.8,188.6 564.2,188.9 564.6,189.3 565,189.6 565.4,190 565.8,190.3 566.2,190.7 566.6,191 567,191.4 567.4,191.7 567.8,192.1 568.2,192.4 568.6,192.8 569,193.1 569.4,193.4 569.8,193.8 570.2,194.1 570.6,194.5 571,194.8 571.4,195.2 571.8,195.5 572.2,195.9 572.6,196.2 573,196.6 573.4,196.9 573.8,197.3 574.2,197.6 574.6,197.9 575,198.3 575.4,198.6 575.8,199 576.2,199.3 576.6,199.7 577,200 577.4,200.4 577.8,200.7 578.2,201 578.6,201.4 579,201.7 579.4,202.1 579.8,202.4 580.2,202.8 580.6,203.1 581,203.4 581.4,203.8 581.8,204.1 582.2,204.5 582.6,204.8 583,205.1 583.4,205.5 583.8,205.8 584.2,206.2 584.6,206.5 585,206.8 585.4,207.2 585.8,207.5 586.2,207.8 586.6,208.2 587,208.5 587.4,208.9 587.8,209.2 588.2,209.5 588.6,209.9 589,210.2 589.4,210.5 589.8,210.9 590.2,211.2 590.6,211.5 591,211.9 591.4,212.2 591.8,212.6 592.2,212.9 592.6,213.2 593,213.6 593.4,213.9 593.8,214.2 594.2,214.6 594.6,214.9 595,215.2 595.4,215.5 595.8,215.9 596.2,216.2 596.6,216.5 597,216.9 597.4,217.2 597.8,217.5 598.2,217.9 598.6,218.2 599,218.5 599.4,218.8 599.8,219.2 600.2,219.5 600.6,219.8 601,220.2 601.4,220.5 601.8,220.8 602.2,221.1 602.6,221.5 603,221.8 603.4,222.1 603.8,222.4 604.2,222.8 604.6,223.1 605,223.4 605.4,223.7 605.8,224.1 606.2,224.4 606.6,224.7 607,225 607.4,225.4 607.8,225.7 608.2,226 608.6,226.3 609,226.6 609.4,227 609.8,227.3 610.2,227.6 610.6,227.9 611,228.2 611.4,228.6 611.8,228.9 612.2,229.2 612.6,229.5 613,229.8 613.4,230.1 613.8,230.5 614.2,230.8 614.6,231.1 615,231.4 615.4,231.7 615.8,232 616.2,232.4 616.6,232.7 617,233 617.4,233.3 617.8,233.6 618.2,233.9 618.6,234.2 619,234.5 619.4,234.9 619.8,235.2 620.2,235.5 620.6,235.8 621,236.1 621.4,236.4 621.8,236.7 622.2,237 622.6,237.3 623,237.6 623.4,238 623.8,238.3 624.2,238.6 624.6,238.9 625,239.2 625.4,239.5 625.8,239.8 626.2,240.1 626.6,240.4 627,240.7 627.4,241 627.8,241.3 628.2,241.6 628.6,241.9 629,242.2 629.4,242.5 629.8,242.8 630.2,243.1 630.6,243.4 631,243.7 631.4,244 631.8,244.3 632.2,244.6 632.6,244.9 633,245.2 633.4,245.5 633.8,245.8 634.2,246.1 634.6,246.4 635,246.7 635.4,247 635.8,247.3 636.2,247.6 636.6,247.9 637,248.2 637.4,248.5 637.8,248.7 638.2,249 638.6,249.3 639,249.6 639.4,249.9 639.8,250.2 640.2,250.5 640.6,250.8 641,251.1 641.4,251.4 641.8,251.6 642.2,251.9 642.6,252.2 643,252.5 643.4,252.8 643.8,253.1 644.2,253.4 644.6,253.6 645,253.9 645.4,254.2 645.8,254.5 646.2,254.8 646.6,255.1 647,255.3 647.4,255.6 647.8,255.9 648.2,256.2 648.6,256.5 649,256.7 649.4,257 649.8,257.3 649.8,262.9 649.4,262.6 649,262.3 648.6,262.1 648.2,261.8 647.8,261.5 647.4,261.2 647,261 646.6,260.7 646.2,260.4 645.8,260.1 645.4,259.8 645,259.6 644.6,259.3 644.2,259 643.8,258.7 643.4,258.4 643,258.2 642.6,257.9 642.2,257.6 641.8,257.3 641.4,257 641,256.7 640.6,256.4 640.2,256.2 639.8,255.9 639.4,255.6 639,255.3 638.6,255 638.2,254.7 637.8,254.4 637.4,254.1 637,253.9 636.6,253.6 636.2,253.3 635.8,253 635.4,252.7 635,252.4 634.6,252.1 634.2,251.8 633.8,251.5 633.4,251.2 633,250.9 632.6,250.6 632.2,250.3 631.8,250 631.4,249.8 631,249.5 630.6,249.2 630.2,248.9 629.8,248.6 629.4,248.3 629,248 628.6,247.7 628.2,247.4 627.8,247.1 627.4,246.8 627,246.5 626.6,246.2 626.2,245.9 625.8,245.6 625.4,245.3 625,245 624.6,244.7 624.2,244.4 623.8,244 623.4,243.7 623,243.4 622.6,243.1 622.2,242.8 621.8,242.5 621.4,242.2 621,241.9 620.6,241.6 620.2,241.3 619.8,241 619.4,240.7 619,240.4 618.6,240.1 618.2,239.7 617.8,239.4 617.4,239.1 617,238.8 616.6,238.5 616.2,238.2 615.8,237.9 615.4,237.6 615,237.3 614.6,236.9 614.2,236.6 613.8,236.3 613.4,236 613,235.7 612.6,235.4 612.2,235.1 611.8,234.7 611.4,234.4 611,234.1 610.6,233.8 610.2,233.5 609.8,233.2 609.4,232.8 609,232.5 608.6,232.2 608.2,231.9 607.8,231.6 607.4,231.3 607,230.9 606.6,230.6 606.2,230.3 605.8,230 605.4,229.6 605,229.3 604.6,229 604.2,228.7 603.8,228.4 603.4,228 603,227.7 602.6,227.4 602.2,227.1 601.8,226.7 601.4,226.4 601,226.1 600.6,225.8 600.2,225.4 599.8,225.1 599.4,224.8 599,224.5 598.6,224.1 598.2,223.8 597.8,223.5 597.4,223.2 597,222.8 596.6,222.5 596.2,222.2 595.8,221.8 595.4,221.5 595,221.2 594.6,220.9 594.2,220.5 593.8,220.2 593.4,219.9 593,219.5 592.6,219.2 592.2,218.9 591.8,218.5 591.4,218.2 591,217.9 590.6,217.5 590.2,217.2 589.8,216.9 589.4,216.5 589,216.2 588.6,215.9 588.2,215.5 587.8,215.2 587.4,214.9 587,214.5 586.6,214.2 586.2,213.9 585.8,213.5 585.4,213.2 585,212.9 584.6,212.5 584.2,212.2 583.8,211.8 583.4,211.5 583,211.2 582.6,210.8 582.2,210.5 581.8,210.2 581.4,209.8 581,209.5 580.6,209.1 580.2,208.8 579.8,208.5 579.4,208.1 579,207.8 578.6,207.4 578.2,207.1 577.8,206.8 577.4,206.4 577,206.1 576.6,205.7 576.2,205.4 575.8,205 575.4,204.7 575,204.4 574.6,204 574.2,203.7 573.8,203.3 573.4,203 573,202.6 572.6,202.3 572.2,202 571.8,201.6 571.4,201.3 571,200.9 570.6,200.6 570.2,200.2 569.8,199.9 569.4,199.5 569,199.2 568.6,198.8 568.2,198.5 567.8,198.2 567.4,197.8 567,197.5 566.6,197.1 566.2,196.8 565.8,196.4 565.4,196.1 565,195.7 564.6,195.4 564.2,195 563.8,194.7 563.4,194.3 563,194 562.6,193.6 562.2,193.3 561.8,192.9 561.4,192.6 561,192.2 560.6,191.9 560.2,191.5 559.8,191.2 559.4,190.8 559,190.5 558.6,190.1 558.2,189.8 557.8,189.4 557.4,189.1 557,188.7 556.6,188.4 556.2,188 555.8,187.7 555.4,187.3 555,187 554.6,186.6 554.2,186.3 553.8,185.9 553.4,185.6 553,185.2 552.6,184.8 552.2,184.5 551.8,184.1 551.4,183.8 551,183.4 550.6,183.1 550.2,182.7 549.8,182.4 549.4,182 549,181.7 548.6,181.3 548.2,180.9 547.8,180.6 547.4,180.2 547,179.9 546.6,179.5 546.2,179.2 545.8,178.8 545.4,178.5 545,178.1 544.6,177.8 544.2,177.4 543.8,177 543.4,176.7 543,176.3 542.6,176 542.2,175.6 541.8,175.3 541.4,174.9 541,174.5 540.6,174.2 540.2,173.8 539.8,173.5 539.4,173.1 539,172.8 538.6,172.4 538.2,172 537.8,171.7 537.4,171.3 537,171 536.6,170.6 536.2,170.3 535.8,169.9 535.4,169.5 535,169.2 534.6,168.8 534.2,168.5 533.8,168.1 533.4,167.7 533,167.4 532.6,167 532.2,166.7 531.8,166.3 531.4,166 531,165.6 530.6,165.2 530.2,164.9 529.8,164.5 529.4,164.2 529,163.8 528.6,163.4 528.2,163.1 527.8,162.7 527.4,162.4 527,162 526.6,161.6 526.2,161.3 525.8,160.9 525.4,160.6 525,160.2 524.6,159.8 524.2,159.5 523.8,159.1 523.4,158.8 523,158.4 522.6,158 522.2,157.7 521.8,157.3 521.4,157 521,156.6 520.6,156.2 520.2,155.9 519.8,155.5 519.4,155.2 519,154.8 518.6,154.4 518.2,154.1 517.8,153.7 517.4,153.4 517,153 516.6,152.6 516.2,152.3 515.8,151.9 515.4,151.6 515,151.2 514.6,150.8 514.2,150.5 513.8,150.1 513.4,149.8 513,149.4 512.6,149 512.2,148.7 511.8,148.3 511.4,148 511,147.6 510.6,147.2 510.2,146.9 509.8,146.5 509.4,146.2 509,145.8 508.6,145.4 508.2,145.1 507.8,144.7 507.4,144.3 507,144 506.6,143.6 506.2,143.3 505.8,142.9 505.4,142.5 505,142.2 504.6,141.8 504.2,141.5 503.8,141.1 503.4,140.7 503,140.4 502.6,140 502.2,139.7 501.8,139.3 501.4,138.9 501,138.6 500.6,138.2 500.2,137.9 499.8,137.5 499.4,137.2 499,136.8 498.6,136.4 498.2,136.1 497.8,135.7 497.4,135.4 497,135 496.6,134.6 496.2,134.3 495.8,133.9 495.4,133.6 495,133.2 494.6,132.8 494.2,132.5 493.8,132.1 493.4,131.8 493,131.4 492.6,131 492.2,130.7 491.8,130.3 491.4,130 491,129.6 490.6,129.3 490.2,128.9 489.8,128.5 489.4,128.2 489,127.8 488.6,127.5 488.2,127.1 487.8,126.7 487.4,126.4 487,126 486.6,125.7 486.2,125.3 485.8,125 485.4,124.6 485,124.2 484.6,123.9 484.2,123.5 483.8,123.2 483.4,122.8 483,122.5 482.6,122.1 482.2,121.8 481.8,121.4 481.4,121 481,120.7 480.6,120.3 480.2,120 479.8,119.6 479.4,119.3 479,118.9 478.6,118.6 478.2,118.2 477.8,117.8 477.4,117.5 477,117.1 476.6,116.8 476.2,116.4 475.8,116.1 475.4,115.7 475,115.4 474.6,115 474.2,114.7 473.8,114.3 473.4,114 473,113.6 472.6,113.2 472.2,112.9 471.8,112.5 471.4,112.2 471,111.8 470.6,111.5 470.2,111.1 469.8,110.8 469.4,110.4 469,110.1 468.6,109.7 468.2,109.4 467.8,109 467.4,108.7 467,108.3 466.6,108 466.2,107.6 465.8,107.3 465.4,106.9 465,106.6 464.6,106.2 464.2,105.9 463.8,105.5 463.4,105.2 463,104.8 462.6,104.5 462.2,104.1 461.8,103.8 461.4,103.4 461,103.1 460.6,102.7 460.2,102.4 459.8,102 459.4,101.7 459,101.3 458.6,101 458.2,100.7 457.8,100.3 457.4,100 457,99.6 456.6,99.3 456.2,98.9 455.8,98.6 455.4,98.2 455,97.9 454.6,97.5 454.2,97.2 453.8,96.9 453.4,96.5 453,96.2 452.6,95.8 452.2,95.5 451.8,95.1 451.4,94.8 451,94.4 450.6,94.1 450.2,93.8 449.8,93.4 449.4,93.1 449,92.7 448.6,92.4 448.2,92.1 447.8,91.7 447.4,91.4 447,91 446.6,90.7 446.2,90.4 445.8,90 445.4,89.7 445,89.3 444.6,89 444.2,88.7 443.8,88.3 443.4,88 443,87.6 442.6,87.3 442.2,87 441.8,86.6 441.4,86.3 441,86 440.6,85.6 440.2,85.3 439.8,84.9 439.4,84.6 439,84.3 438.6,83.9 438.2,83.6 437.8,83.3 437.4,82.9 437,82.6 436.6,82.3 436.2,81.9 435.8,81.6 435.4,81.3 435,80.9 434.6,80.6 434.2,80.3 433.8,79.9 433.4,79.6 433,79.3 432.6,79 432.2,78.6 431.8,78.3 431.4,78 431,77.6 430.6,77.3 430.2,77 429.8,76.6 429.4,76.3 429,76 428.6,75.7 428.2,75.3 427.8,75 427.4,74.7 427,74.4 426.6,74 426.2,73.7 425.8,73.4 425.4,73.1 425,72.7 424.6,72.4 424.2,72.1 423.8,71.8 423.4,71.4 423,71.1 422.6,70.8 422.2,70.5 421.8,70.1 421.4,69.8 421,69.5 420.6,69.2 420.2,68.9 419.8,68.5 419.4,68.2 419,67.9 418.6,67.6 418.2,67.3 417.8,66.9 417.4,66.6 417,66.3 416.6,66 416.2,65.7 415.8,65.4 415.4,65 415,64.7 414.6,64.4 414.2,64.1 413.8,63.8 413.4,63.5 413,63.1 412.6,62.8 412.2,62.5 411.8,62.2 411.4,61.9 411,61.6 410.6,61.3 410.2,61 409.8,60.6 409.4,60.3 409,60 408.6,59.7 408.2,59.4 407.8,59.1 407.4,58.8 407,58.5 406.6,58.2 406.2,57.9 405.8,57.5 405.4,57.2 405,56.9"/>
<polygon fill="#cf0000" points="408.1,74.9 408.5,75.3 408.9,75.7 409.3,76.2 409.7,76.6 410.1,77 410.5,77.5 410.9,77.9 411.3,78.3 411.7,78.8 412.1,79.2 412.5,79.6 412.9,80.1 413.3,80.5 413.7,80.9 414.1,81.4 414.5,81.8 414.9,82.2 415.3,82.7 415.7,83.1 416.1,83.5 416.5,84 416.9,84.4 417.3,84.8 417.7,85.3 418.1,85.7 418.5,86.1 418.9,86.6 419.3,87 419.7,87.4 420.1,87.8 420.5,88.3 420.9,88.7 421.3,89.1 421.7,89.6 422.1,90 422.5,90.4 422.9,90.9 423.3,91.3 423.7,91.7 424.1,92.2 424.5,92.6 424.9,93 425.3,93.4 425.7,93.9 426.1,94.3 426.5,94.7 426.9,95.2 427.3,95.6 427.7,96 428.1,96.4 428.5,96.9 428.9,97.3 429.3,97.7 429.7,98.2 430.1,98.6 430.5,99 430.9,99.4 431.3,99.9 431.7,100.3 432.1,100.7 432.5,101.2 432.9,101.6 433.3,102 433.7,102.4 434.2,102.9 434.6,103.3 435,103.7 435.4,104.2 435.8,104.6 436.2,105 436.6,105.4 437,105.9 437.4,106.3 437.8,106.7 438.2,107.1 438.6,107.6 439,108 439.4,108.4 439.8,108.8 440.2,109.3 440.6,109.7 441,110.1 441.4,110.5 441.8,111 442.2,111.4 442.6,111.8 443,112.2 443.4,112.7 443.8,113.1 444.2,113.5 444.6,113.9 445,114.4 445.4,114.8 445.8,115.2 446.2,115.6 446.6,116.1 447,116.5 447.4,116.9 447.8,117.3 448.2,117.8 448.6,118.2 449,118.6 449.4,119 449.8,119.5 450.2,119.9 450.6,120.3 451,120.7 451.4,121.1 451.8,121.6 452.2,122 452.6,122.4 453,122.8 453.4,123.3 453.8,123.7 454.2,124.1 454.6,124.5 455,125 455.4,125.4 455.8,125.8 456.2,126.2 456.6,126.6 457,127.1 457.4,127.5 457.8,127.9 458.2,128.3 458.6,128.7 459,129.2 459.4,129.6 459.8,130 460.2,130.4 460.6,130.8 461,131.3 461.4,131.7 461.8,132.1 462.2,132.5 462.6,132.9 463,133.4 463.4,133.8 463.8,134.2 464.2,134.6 464.6,135 465,135.5 465.4,135.9 465.8,136.3 466.2,136.7 466.6,137.1 467,137.6 467.4,138 467.8,138.4 468.2,138.8 468.6,139.2 469,139.6 469.4,140.1 469.8,140.5 470.2,140.9 470.6,141.3 471,141.7 471.4,142.2 471.8,142.6 472.2,143 472.6,143.4 473,143.8 473.4,144.2 473.8,144.7 474.2,145.1 474.6,145.5 475,145.9 475.4,146.3 475.8,146.7 476.2,147.2 476.6,147.6 477,148 477.4,148.4 477.8,148.8 478.2,149.2 478.6,149.7 479,150.1 479.4,150.5 479.8,150.9 480.2,151.3 480.6,151.7 481,152.1 481.4,152.6 481.8,153 482.2,153.4 482.6,153.8 483,154.2 483.4,154.6 483.8,155 484.2,155.5 484.6,155.9 485,156.3 485.4,156.7 485.8,157.1 486.2,157.5 486.6,157.9 487,158.4 487.4,158.8 487.8,159.2 488.2,159.6 488.6,160 489,160.4 489.4,160.8 489.8,161.2 490.2,161.7 490.6,162.1 491,162.5 491.4,162.9 491.8,163.3 492.2,163.7 492.6,164.1 493,164.5 493.4,165 493.8,165.4 494.2,165.8 494.6,166.2 495,166.6 495.4,167 495.8,167.4 496.2,167.8 496.6,168.2 497,168.7 497.4,169.1 497.8,169.5 498.2,169.9 498.6,170.3 499,170.7 499.4,171.1 499.8,171.5 500.2,171.9 500.6,172.3 501,172.8 501.4,173.2 501.8,173.6 502.2,174 502.6,174.4 503,174.8 503.4,175.2 503.8,175.6 504.2,176 504.6,176.4 505,176.8 505.4,177.3 505.8,177.7 506.2,178.1 506.6,178.5 507,178.9 507.4,179.3 507.8,179.7 508.2,180.1 508.6,180.5 509,180.9 509.4,181.3 509.8,181.7 510.2,182.1 510.6,182.6 511,183 511.4,183.4 511.8,183.8 512.2,184.2 512.6,184.6 513,185 513.4,185.4 513.8,185.8 514.2,186.2 514.6,186.6 515,187 515.4,187.4 515.8,187.8 516.2,188.2 516.6,188.6 517,189 517.4,189.5 517.8,189.9 518.2,190.3 518.6,190.7 519,191.1 519.4,191.5 519.8,191.9 520.2,192.3 520.6,192.7 521,193.1 521.4,193.5 521.8,193.9 522.2,194.3 522.6,194.7 523,195.1 523.4,195.5 523.8,195.9 524.2,196.3 524.6,196.7 525,197.1 525.4,197.5 525.8,197.9 526.2,198.3 526.6,198.7 527,199.1 527.4,199.5 527.8,200 528.2,200.4 528.6,200.8 529,201.2 529.4,201.6 529.8,202 530.2,202.4 530.6,202.8 531,203.2 531.4,203.6 531.8,204 532.2,204.4 532.6,204.8 533,205.2 533.4,205.6 533.8,206 534.3,206.4 534.7,206.8 535.1,207.2 535.5,207.6 535.9,208 536.3,208.4 533.4,205.5 533.8,205.9 534.2,206.3 534.6,206.7 535,207.1 535.4,207.5 535.8,207.9 536.2,208.3 536.6,208.7 537,209.1 537.4,209.5 537.8,209.9 538.2,210.3 538.6,210.7 539,211.1 539.4,211.5 539.8,211.9 540.2,212.3 540.6,212.7 541,213.1 541.4,213.5 541.8,213.9 542.2,214.3 542.6,214.7 543,215.1 543.4,215.5 543.8,215.9 544.2,216.3 544.6,216.7 545,217.1 545.4,217.5 545.8,217.9 546.2,218.3 546.6,218.7 547,219.1 547.4,219.5 547.8,219.9 548.2,220.3 548.6,220.7 549,221.1 549.4,221.5 549.8,221.9 550.2,222.2 550.6,222.6 551,223 551.4,223.4 551.8,223.8 552.2,224.2 552.6,224.6 553,225 553.4,225.4 553.8,225.8 554.2,226.2 554.6,226.6 555,227 555.4,227.4 555.8,227.8 556.2,228.2 556.6,228.6 557,229 557.4,229.4 557.8,229.7 558.2,230.1 558.6,230.5 559,230.9 559.4,231.3 559.8,231.7 560.2,232.1 560.6,232.5 561,232.9 561.4,233.3 561.8,233.7 562.2,234.1 562.6,234.5 563,234.9 563.4,235.3 563.8,235.6 564.2,236 564.6,236.4 565,236.8 565.4,237.2 565.8,237.6 566.2,238 566.6,238.4 567,238.8 567.4,239.2 567.8,239.6 568.2,240 568.6,240.3 569,240.7 569.4,241.1 569.8,241.5 570.2,241.9 570.6,242.3 571,242.7 571.4,243.1 571.8,243.5 572.2,243.9 572.6,244.2 573,244.6 573.4,245 573.8,245.4 574.2,245.8 574.6,246.2 575,246.6 575.4,247 575.8,247.4 576.2,247.8 576.6,248.1 577,248.5 577.4,248.9 577.8,249.3 578.2,249.7 578.6,250.1 579,250.5 579.4,250.9 579.8,251.2 580.2,251.6 580.6,252 581,252.4 581.4,252.8 581.8,253.2 582.2,253.6 582.6,254 583,254.3 583.4,254.7 583.8,255.1 584.2,255.5 584.6,255.9 585,256.3 585,262.7 584.6,262.3 584.2,261.9 583.8,261.5 583.4,261.1 583,260.7 582.6,260.4 582.2,260 581.8,259.6 581.4,259.2 581,258.8 580.6,258.4 580.2,258 579.8,257.7 579.4,257.3 579,256.9 578.6,256.5 578.2,256.1 577.8,255.7 577.4,255.3 577,254.9 576.6,254.6 576.2,254.2 575.8,253.8 575.4,253.4 575,253 574.6,252.6 574.2,252.2 573.8,251.8 573.4,251.4 573,251.1 572.6,250.7 572.2,250.3 571.8,249.9 571.4,249.5 571,249.1 570.6,248.7 570.2,248.3 569.8,247.9 569.4,247.6 569,247.2 568.6,246.8 568.2,246.4 567.8,246 567.4,245.6 567,245.2 566.6,244.8 566.2,244.4 565.8,244 565.4,243.6 565,243.3 564.6,242.9 564.2,242.5 563.8,242.1 563.4,241.7 563,241.3 562.6,240.9 562.2,240.5 561.8,240.1 561.4,239.7 561,239.3 560.6,238.9 560.2,238.6 559.8,238.2 559.4,237.8 559,237.4 558.6,237 558.2,236.6 557.8,236.2 557.4,235.8 557,235.4 556.6,235 556.2,234.6 555.8,234.2 555.4,233.8 555,233.4 554.6,233.1 554.2,232.7 553.8,232.3 553.4,231.9 553,231.5 552.6,231.1 552.2,230.7 551.8,230.3 551.4,229.9 551,229.5 550.6,229.1 550.2,228.7 549.8,228.3 549.4,227.9 549,227.5 548.6,227.1 548.2,226.7 547.8,226.3 547.4,225.9 547,225.6 546.6,225.2 546.2,224.8 545.8,224.4 545.4,224 545,223.6 544.6,223.2 544.2,222.8 543.8,222.4 543.4,222 543,221.6 542.6,221.2 542.2,220.8 541.8,220.4 541.4,220 541,219.6 540.6,219.2 540.2,218.8 539.8,218.4 539.4,218 539,217.6 538.6,217.2 538.2,216.8 537.8,216.4 537.4,216 537,215.6 536.6,215.2 536.2,214.8 535.8,214.4 535.4,214 535,213.6 534.6,213.2 534.2,212.8 533.8,212.4 533.4,212 529.7,208.4 529.3,208 528.9,207.6 528.5,207.2 528.1,206.8 527.7,206.4 527.4,206 527,205.6 526.6,205.2 526.2,204.8 525.8,204.4 525.4,204 525,203.6 524.6,203.2 524.2,202.8 523.8,202.4 523.4,202 523,201.6 522.6,201.2 522.2,200.8 521.8,200.4 521.4,200 521,199.5 520.6,199.1 520.2,198.7 519.8,198.3 519.4,197.9 519,197.5 518.6,197.1 518.2,196.7 517.8,196.3 517.4,195.9 517,195.5 516.6,195.1 516.2,194.7 515.8,194.3 515.4,193.9 515,193.5 514.6,193.1 514.2,192.7 513.8,192.3 513.4,191.9 513,191.5 512.6,191.1 512.2,190.7 511.8,190.3 511.4,189.9 511,189.5 510.6,189 510.2,188.6 509.8,188.2 509.4,187.8 509,187.4 508.6,187 508.2,186.6 507.8,186.2 507.4,185.8 507,185.4 506.6,185 506.2,184.6 505.8,184.2 505.4,183.8 505,183.4 504.6,183 504.2,182.6 503.8,182.1 503.4,181.7 503,181.3 502.6,180.9 502.2,180.5 501.8,180.1 501.4,179.7 501,179.3 500.6,178.9 500.2,178.5 499.8,178.1 499.4,177.7 499,177.3 498.6,176.8 498.2,176.4 497.8,176 497.4,175.6 497,175.2 496.6,174.8 496.2,174.4 495.8,174 495.4,173.6 495,173.2 494.6,172.8 494.2,172.3 493.8,171.9 493.4,171.5 493,171.1 492.6,170.7 492.2,170.3 491.8,169.9 491.4,169.5 491,169.1 490.6,168.7 490.2,168.2 489.8,167.8 489.4,167.4 489,167 488.6,166.6 488.2,166.2 487.8,165.8 487.4,165.4 487,165 486.6,164.5 486.2,164.1 485.8,163.7 485.4,163.3 485,162.9 484.6,162.5 484.2,162.1 483.8,161.7 483.4,161.2 483,160.8 482.6,160.4 482.2,160 481.8,159.6 481.4,159.2 481,158.8 480.6,158.4 480.2,157.9 479.8,157.5 479.4,157.1 479,156.7 478.6,156.3 478.2,155.9 477.8,155.5 477.4,155 477,154.6 476.6,154.2 476.2,153.8 475.8,153.4 475.4,153 475,152.6 474.6,152.1 474.2,151.7 473.8,151.3 473.4,150.9 473,150.5 472.6,150.1 472.2,149.7 471.8,149.2 471.4,148.8 471,148.4 470.6,148 470.2,147.6 469.8,147.2 469.4,146.7 469,146.3 468.6,145.9 468.2,145.5 467.8,145.1 467.4,144.7 467,144.2 466.6,143.8 466.2,143.4 465.8,143 465.4,142.6 465,142.2 464.6,141.7 464.2,141.3 463.8,140.9 463.4,140.5 463,140.1 462.6,139.6 462.2,139.2 461.8,138.8 461.4,138.4 461,138 460.6,137.6 460.2,137.1 459.8,136.7 459.4,136.3 459,135.9 458.6,135.5 458.2,135 457.8,134.6 457.4,134.2 457,133.8 456.6,133.4 456.2,132.9 455.8,132.5 455.4,132.1 455,131.7 454.6,131.3 454.2,130.8 453.8,130.4 453.4,130 453,129.6 452.6,129.2 452.2,128.7 451.8,128.3 451.4,127.9 451,127.5 450.6,127.1 450.2,126.6 449.8,126.2 449.4,125.8 449,125.4 448.6,125 448.2,124.5 447.8,124.1 447.4,123.7 447,123.3 446.6,122.8 446.2,122.4 445.8,122 445.4,121.6 445,121.1 444.6,120.7 444.2,120.3 443.8,119.9 443.4,119.5 443,119 442.6,118.6 442.2,118.2 441.8,117.8 441.4,117.3 441,116.9 440.6,116.5 440.2,116.1 439.8,115.6 439.4,115.2 439,114.8 438.6,114.4 438.2,113.9 437.8,113.5 437.4,113.1 437,112.7 436.6,112.2 436.2,111.8 435.8,111.4 435.4,111 435,110.5 434.6,110.1 434.2,109.7 433.8,109.3 433.4,108.8 433,108.4 432.6,108 432.2,107.6 431.8,107.1 431.4,106.7 431,106.3 430.6,105.9 430.2,105.4 429.8,105 429.4,104.6 429,104.2 428.6,103.7 428.2,103.3 427.8,102.9 427.5,102.4 427.1,102 426.7,101.6 426.3,101.2 425.9,100.7 425.5,100.3 425.1,99.9 424.7,99.4 424.3,99 423.9,98.6 423.5,98.2 423.1,97.7 422.7,97.3 422.3,96.9 421.9,96.4 421.5,96 421.1,95.6 420.7,95.2 420.3,94.7 419.9,94.3 419.5,93.9 419.1,93.4 418.7,93 418.3,92.6 417.9,92.2 417.5,91.7 417.1,91.3 416.7,90.9 416.3,90.4 415.9,90 415.5,89.6 415.1,89.1 414.7,88.7 414.3,88.3 413.9,87.8 413.5,87.4 413.1,87 412.7,86.6 412.3,86.1 411.9,85.7 411.5,85.3 411.1,84.8 410.7,84.4 410.3,84 409.9,83.5 409.5,83.1 409.1,82.7 408.7,82.2 408.3,81.8 407.9,81.4 407.5,80.9 407.1,80.5 406.7,80.1 406.3,79.6 405.9,79.2 405.5,78.8 405.1,78.3 404.7,77.9 404.3,77.5 403.9,77 403.5,76.6 403.1,76.2 402.7,75.7 402.3,75.3 401.9,74.9"/>
<polygon fill="#00cc00" points="412.8,41.4 413,41.5 413.4,41.7 413.8,41.9 414.2,42.1 414.6,42.3 415,42.5 415.4,42.8 415.8,43 416.2,43.2 416.6,43.4 417,43.6 417.4,43.8 417.8,44 418.2,44.3 418.6,44.5 419,44.7 419.4,44.9 419.8,45.1 420.2,45.3 420.6,45.6 421,45.8 421.4,46 421.8,46.2 422.2,46.4 422.6,46.6 423,46.8 423.4,47.1 423.8,47.3 424.2,47.5 424.6,47.7 424.8,47.8 424.8,57.5 424.6,57.4 424.2,57.1 423.8,56.9 423.4,56.7 423,56.5 422.6,56.3 422.2,56.1 421.8,55.9 421.4,55.6 421,55.4 420.6,55.2 420.2,55 419.8,54.8 419.4,54.6 419,54.3 418.6,54.1 418.2,53.9 417.8,53.7 417.4,53.5 417,53.3 416.6,53.1 416.2,52.8 415.8,52.6 415.4,52.4 415,52.2 414.6,52 414.2,51.8 413.8,51.6 413.4,51.3 413,51.1 412.8,51"/>
<polygon fill="#00cc00" points="437,54.4 437.4,54.6 437.8,54.8 438.2,55.1 438.6,55.3 439,55.5 439.4,55.7 439.8,55.9 440.2,56.1 440.6,56.4 441,56.6 441.4,56.8 441.8,57 442.2,57.2 442.6,57.5 443,57.7 443.4,57.9 443.8,58.1 444.2,58.3 444.6,58.5 445,58.8 445.4,59 445.8,59.2 446.2,59.4 446.6,59.6 447,59.8 447.4,60.1 447.8,60.3 448.2,60.5 448.6,60.7 449,60.9 449,70.6 448.6,70.4 448.2,70.2 447.8,70 447.4,69.7 447,69.5 446.6,69.3 446.2,69.1 445.8,68.9 445.4,68.7 445,68.4 444.6,68.2 444.2,68 443.8,67.8 443.4,67.6 443,67.3 442.6,67.1 442.2,66.9 441.8,66.7 441.4,66.5 441,66.3 440.6,66 440.2,65.8 439.8,65.6 439.4,65.4 439,65.2 438.6,65 438.2,64.7 437.8,64.5 437.4,64.3 437,64.1"/>
<polygon fill="#00cc00" points="461.2,67.6 461.4,67.7 461.8,67.9 462.2,68.2 462.6,68.4 463,68.6 463.4,68.8 463.8,69 464.2,69.2 464.6,69.5 465,69.7 465.4,69.9 465.8,70.1 466.2,70.3 466.6,70.6 467,70.8 467.4,71 467.8,71.2 468.2,71.4 468.6,71.7 469,71.9 469.4,72.1 469.8,72.3 470.2,72.6 470.6,72.8 471,73 471.4,73.2 471.8,73.4 472.2,73.7 472.6,73.9 473,74.1 473.2,74.2 473.2,83.9 473,83.8 472.6,83.6 472.2,83.4 471.8,83.1 471.4,82.9 471,82.7 470.6,82.5 470.2,82.3 469.8,82 469.4,81.8 469,81.6 468.6,81.4 468.2,81.2 467.8,80.9 467.4,80.7 467,80.5 466.6,80.3 466.2,80.1 465.8,79.8 465.4,79.6 465,79.4 464.6,79.2 464.2,79 463.8,78.7 463.4,78.5 463,78.3 462.6,78.1 462.2,77.9 461.8,77.6 461.4,77.4 461.2,77.3"/>
<polygon fill="#00cc00" points="485.4,81 485.8,81.2 486.2,81.4 486.6,81.6 487,81.8 487.4,82.1 487.8,82.3 488.2,82.5 488.6,82.7 489,83 489.4,83.2 489.8,83.4 490.2,83.6 490.6,83.8 491,84.1 491.4,84.3 491.8,84.5 492.2,84.7 492.6,85 493,85.2 493.4,85.4 493.8,85.6 494.2,85.9 494.6,86.1 495,86.3 495.4,86.5 495.8,86.7 496.2,87 496.6,87.2 497,87.4 497.4,87.6 497.4,97.4 497,97.1 496.6,96.9 496.2,96.7 495.8,96.5 495.4,96.3 495,96 494.6,95.8 494.2,95.6 493.8,95.4 493.4,95.1 493,94.9 492.6,94.7 492.2,94.5 491.8,94.2 491.4,94 491,93.8 490.6,93.6 490.2,93.4 489.8,93.1 489.4,92.9 489,92.7 488.6,92.5 488.2,92.2 487.8,92 487.4,91.8 487,91.6 486.6,91.3 486.2,91.1 485.8,90.9 485.4,90.7"/>
<polygon fill="#00cc00" points="509.6,94.5 509.8,94.6 510.2,94.8 510.6,95 511,95.3 511.4,95.5 511.8,95.7 512.2,95.9 512.6,96.2 513,96.4 513.4,96.6 513.8,96.8 514.2,97.1 514.6,97.3 515,97.5 515.4,97.7 515.8,98 516.2,98.2 516.6,98.4 517,98.6 517.4,98.9 517.8,99.1 518.2,99.3 518.6,99.5 519,99.8 519.4,100 519.8,100.2 520.2,100.5 520.6,100.7 521,100.9 521.4,101.1 521.6,101.2 521.6,111 521.4,110.9 521,110.7 520.6,110.4 520.2,110.2 519.8,110 519.4,109.8 519,109.5 518.6,109.3 518.2,109.1 517.8,108.9 517.4,108.6 517,108.4 516.6,108.2 516.2,108 515.8,107.7 515.4,107.5 515,107.3 514.6,107 514.2,106.8 513.8,106.6 513.4,106.4 513,106.1 512.6,105.9 512.2,105.7 511.8,105.5 511.4,105.2 511,105 510.6,104.8 510.2,104.6 509.8,104.3 509.6,104.2"/>
<polygon fill="#00cc00" points="533.8,108.2 534.2,108.4 534.6,108.6 535,108.9 535.4,109.1 535.8,109.3 536.2,109.5 536.6,109.8 537,110 537.4,110.2 537.8,110.5 538.2,110.7 538.6,110.9 539,111.1 539.4,111.4 539.8,111.6 540.2,111.8 540.6,112.1 541,112.3 541.4,112.5 541.8,112.7 542.2,113 542.6,113.2 543,113.4 543.4,113.7 543.8,113.9 544.2,114.1 544.6,114.3 545,114.6 545.4,114.8 545.8,115 545.8,124.8 545.4,124.6 545,124.4 544.6,124.1 544.2,123.9 543.8,123.7 543.4,123.5 543,123.2 542.6,123 542.2,122.8 541.8,122.5 541.4,122.3 541,122.1 540.6,121.8 540.2,121.6 539.8,121.4 539.4,121.2 539,120.9 538.6,120.7 538.2,120.5 537.8,120.2 537.4,120 537,119.8 536.6,119.6 536.2,119.3 535.8,119.1 535.4,118.9 535,118.6 534.6,118.4 534.2,118.2 533.8,118"/>
<polygon fill="#00cc00" points="558,122.1 558.2,122.2 558.6,122.4 559,122.6 559.4,122.9 559.8,123.1 560.2,123.3 560.6,123.6 561,123.8 561.4,124 561.8,124.3 562.2,124.5 562.6,124.7 563,125 563.4,125.2 563.8,125.4 564.2,125.6 564.6,125.9 565,126.1 565.4,126.3 565.8,126.6 566.2,126.8 566.6,127 567,127.3 567.4,127.5 567.8,127.7 568.2,128 568.6,128.2 569,128.4 569.4,128.7 569.8,128.9 570,129 570,138.9 569.8,138.7 569.4,138.5 569,138.3 568.6,138 568.2,137.8 567.8,137.6 567.4,137.3 567,137.1 566.6,136.9 566.2,136.6 565.8,136.4 565.4,136.2 565,135.9 564.6,135.7 564.2,135.5 563.8,135.2 563.4,135 563,134.8 562.6,134.5 562.2,134.3 561.8,134.1 561.4,133.9 561,133.6 560.6,133.4 560.2,133.2 559.8,132.9 559.4,132.7 559,132.5 558.6,132.2 558.2,132 558,131.9"/>
<polygon fill="#00cc00" points="582.2,136.1 582.6,136.4 583,136.6 583.4,136.8 583.8,137.1 584.2,137.3 584.6,137.6 585,137.8 585.4,138 585.8,138.3 586.2,138.5 586.6,138.7 587,139 587.4,139.2 587.8,139.4 588.2,139.7 588.6,139.9 589,140.1 589.4,140.4 589.8,140.6 590.2,140.9 590.6,141.1 591,141.3 591.4,141.6 591.8,141.8 592.2,142 592.6,142.3 593,142.5 593.4,142.7 593.8,143 594.2,143.2 594.2,153.1 593.8,152.8 593.4,152.6 593,152.4 592.6,152.1 592.2,151.9 591.8,151.7 591.4,151.4 591,151.2 590.6,151 590.2,150.7 589.8,150.5 589.4,150.2 589,150 588.6,149.8 588.2,149.5 587.8,149.3 587.4,149.1 587,148.8 586.6,148.6 586.2,148.4 585.8,148.1 585.4,147.9 585,147.7 584.6,147.4 584.2,147.2 583.8,146.9 583.4,146.7 583,146.5 582.6,146.2 582.2,146"/>
<polygon fill="#00cc00" points="606.4,150.4 606.6,150.6 607,150.8 607.4,151 607.8,151.3 608.2,151.5 608.6,151.8 609,152 609.4,152.2 609.8,152.5 610.2,152.7 610.6,153 611,153.2 611.4,153.4 611.8,153.7 612.2,153.9 612.6,154.1 613,154.4 613.4,154.6 613.8,154.9 614.2,155.1 614.6,155.3 615,155.6 615.4,155.8 615.8,156.1 616.2,156.3 616.6,156.5 617,156.8 617.4,157 617.8,157.3 618.2,157.5 618.4,157.6 618.4,167.5 618.2,167.4 617.8,167.2 617.4,166.9 617,166.7 616.6,166.5 616.2,166.2 615.8,166 615.4,165.7 615,165.5 614.6,165.3 614.2,165 613.8,164.8 613.4,164.5 613,164.3 612.6,164.1 612.2,163.8 611.8,163.6 611.4,163.3 611,163.1 610.6,162.9 610.2,162.6 609.8,162.4 609.4,162.1 609,161.9 608.6,161.7 608.2,161.4 607.8,161.2 607.4,160.9 607,160.7 606.6,160.5 606.4,160.3"/>
<polygon fill="#00cc00" points="630.6,165 631,165.2 631.4,165.5 631.8,165.7 632.2,165.9 632.6,166.2 633,166.4 633.4,166.7 633.8,166.9 634.2,167.2 634.6,167.4 635,167.6 635.4,167.9 635.8,168.1 636.2,168.4 636.6,168.6 637,168.9 637.4,169.1 637.8,169.3 638.2,169.6 638.6,169.8 639,170.1 639.4,170.3 639.8,170.6 640.2,170.8 640.6,171 641,171.3 641.4,171.5 641.8,171.8 642.2,172 642.6,172.3 642.6,182.2 642.2,182 641.8,181.7 641.4,181.5 641,181.2 640.6,181 640.2,180.7 639.8,180.5 639.4,180.3 639,180 638.6,179.8 638.2,179.5 637.8,179.3 637.4,179 637,178.8 636.6,178.6 636.2,178.3 635.8,178.1 635.4,177.8 635,177.6 634.6,177.3 634.2,177.1 633.8,176.9 633.4,176.6 633,176.4 632.6,176.1 632.2,175.9 631.8,175.6 631.4,175.4 631,175.2 630.6,174.9"/>
<polygon fill="#00cc00" points="413.8,45.2 414.2,45.5 414.6,45.8 415,46.1 415.4,46.4 415.8,46.7 416.2,47 416.6,47.3 417,47.6 417.4,47.9 417.8,48.2 418.2,48.5 418.6,48.8 419,49.1 419.4,49.3 419.8,49.6 420.2,49.9 420.6,50.2 421,50.5 421.4,50.8 421.8,51.1 422.2,51.4 422.6,51.7 423,52 423.4,52.3 423.8,52.6 424.2,52.9 424.6,53.2 425,53.5 425.4,53.8 425.8,54.1 425.8,64.6 425.4,64.3 425,64 424.6,63.7 424.2,63.4 423.8,63.1 423.4,62.8 423,62.5 422.6,62.3 422.2,62 421.8,61.7 421.4,61.4 421,61.1 420.6,60.8 420.2,60.5 419.8,60.2 419.4,59.9 419,59.6 418.6,59.3 418.2,59 417.8,58.7 417.4,58.4 417,58.1 416.6,57.8 416.2,57.6 415.8,57.3 415.4,57 415,56.7 414.6,56.4 414.2,56.1 413.8,55.8"/>
<polygon fill="#00cc00" points="438,63.1 438.2,63.2 438.6,63.5 439,63.8 439.4,64.1 439.8,64.4 440.2,64.7 440.6,65 441,65.3 441.4,65.6 441.8,65.9 442.2,66.2 442.6,66.5 443,66.8 443.4,67.1 443.8,67.4 444.2,67.7 444.6,68 445,68.3 445.4,68.6 445.8,68.9 446.2,69.2 446.6,69.5 447,69.8 447.4,70.1 447.8,70.4 448.2,70.7 448.6,71 449,71.3 449.4,71.6 449.8,71.9 450,72 450,82.6 449.8,82.5 449.4,82.2 449,81.9 448.6,81.6 448.2,81.3 447.8,81 447.4,80.7 447,80.4 446.6,80.1 446.2,79.8 445.8,79.5 445.4,79.2 445,78.9 444.6,78.6 444.2,78.3 443.8,78 443.4,77.7 443,77.4 442.6,77.1 442.2,76.8 441.8,76.5 441.4,76.2 441,75.9 440.6,75.6 440.2,75.3 439.8,75 439.4,74.7 439,74.4 438.6,74.1 438.2,73.8 438,73.7"/>
<polygon fill="#00cc00" points="462.2,81.2 462.6,81.5 463,81.8 463.4,82.1 463.8,82.4 464.2,82.7 464.6,83 465,83.3 465.4,83.6 465.8,83.9 466.2,84.2 466.6,84.5 467,84.8 467.4,85.1 467.8,85.4 468.2,85.7 468.6,86 469,86.3 469.4,86.6 469.8,86.9 470.2,87.2 470.6,87.5 471,87.8 471.4,88.1 471.8,88.4 472.2,88.7 472.6,89 473,89.3 473.4,89.6 473.8,89.9 474.2,90.2 474.2,100.9 473.8,100.6 473.4,100.3 473,100 472.6,99.7 472.2,99.4 471.8,99.1 471.4,98.8 471,98.5 470.6,98.2 470.2,97.9 469.8,97.6 469.4,97.3 469,97 468.6,96.7 468.2,96.4 467.8,96.1 467.4,95.7 467,95.4 466.6,95.1 466.2,94.8 465.8,94.5 465.4,94.2 465,93.9 464.6,93.6 464.2,93.3 463.8,93 463.4,92.7 463,92.4 462.6,92.1 462.2,91.8"/>
<polygon fill="#00cc00" points="486.4,99.6 486.6,99.8 487,100.1 487.4,100.4 487.8,100.7 488.2,101 488.6,101.3 489,101.6 489.4,101.9 489.8,102.2 490.2,102.5 490.6,102.8 491,103.1 491.4,103.4 491.8,103.7 492.2,104 492.6,104.3 493,104.6 493.4,104.9 493.8,105.1 494.2,105.4 494.6,105.7 495,105.9 495.4,106.2 495.8,106.5 496.2,106.8 496.6,107 497,107.3 497.4,107.6 497.8,107.9 498.2,108.1 498.4,108.3 498.4,118.8 498.2,118.6 497.8,118.3 497.4,118.1 497,117.8 496.6,117.5 496.2,117.3 495.8,117 495.4,116.7 495,116.4 494.6,116.2 494.2,115.9 493.8,115.6 493.4,115.3 493,115.1 492.6,114.8 492.2,114.5 491.8,114.2 491.4,113.9 491,113.6 490.6,113.3 490.2,113 489.8,112.7 489.4,112.4 489,112.1 488.6,111.8 488.2,111.5 487.8,111.2 487.4,110.9 487,110.6 486.6,110.3 486.4,110.1"/>
<polygon fill="#00cc00" points="510.6,116.7 511,117 511.4,117.3 511.8,117.6 512.2,117.8 512.6,118.1 513,118.4 513.4,118.7 513.8,119 514.2,119.2 514.6,119.5 515,119.8 515.4,120.1 515.8,120.3 516.2,120.6 516.6,120.9 517,121.2 517.4,121.4 517.8,121.7 518.2,122 518.6,122.3 519,122.5 519.4,122.8 519.8,123.1 520.2,123.4 520.6,123.6 521,123.9 521.4,124.2 521.8,124.5 522.2,124.8 522.6,125 522.6,135.4 522.2,135.1 521.8,134.8 521.4,134.5 521,134.3 520.6,134 520.2,133.7 519.8,133.4 519.4,133.1 519,132.9 518.6,132.6 518.2,132.3 517.8,132 517.4,131.8 517,131.5 516.6,131.2 516.2,130.9 515.8,130.7 515.4,130.4 515,130.1 514.6,129.8 514.2,129.6 513.8,129.3 513.4,129 513,128.7 512.6,128.5 512.2,128.2 511.8,127.9 511.4,127.6 511,127.4 510.6,127.1"/>
<polygon fill="#00cc00" points="534.8,133.5 535,133.6 535.4,133.9 535.8,134.2 536.2,134.4 536.6,134.7 537,135 537.4,135.3 537.8,135.6 538.2,135.8 538.6,136.1 539,136.4 539.4,136.7 539.8,136.9 540.2,137.2 540.6,137.5 541,137.8 541.4,138.1 541.8,138.3 542.2,138.6 542.6,138.9 543,139.2 543.4,139.5 543.8,139.7 544.2,140 544.6,140.3 545,140.6 545.4,140.8 545.8,141.1 546.2,141.4 546.6,141.7 546.8,141.8 546.8,152.2 546.6,152 546.2,151.8 545.8,151.5 545.4,151.2 545,150.9 544.6,150.6 544.2,150.4 543.8,150.1 543.4,149.8 543,149.5 542.6,149.2 542.2,149 541.8,148.7 541.4,148.4 541,148.1 540.6,147.9 540.2,147.6 539.8,147.3 539.4,147 539,146.7 538.6,146.5 538.2,146.2 537.8,145.9 537.4,145.6 537,145.4 536.6,145.1 536.2,144.8 535.8,144.5 535.4,144.2 535,144 534.8,143.8"/>
<polygon fill="#00cc00" points="559,150.3 559.4,150.6 559.8,150.9 560.2,151.2 560.6,151.4 561,151.7 561.4,152 561.8,152.3 562.2,152.6 562.6,152.8 563,153.1 563.4,153.4 563.8,153.7 564.2,153.9 564.6,154.2 565,154.5 565.4,154.8 565.8,155.1 566.2,155.3 566.6,155.6 567,155.9 567.4,156.2 567.8,156.5 568.2,156.7 568.6,157 569,157.3 569.4,157.6 569.8,157.9 570.2,158.1 570.6,158.4 571,158.7 571,169.1 570.6,168.8 570.2,168.5 569.8,168.2 569.4,167.9 569,167.7 568.6,167.4 568.2,167.1 567.8,166.8 567.4,166.5 567,166.3 566.6,166 566.2,165.7 565.8,165.4 565.4,165.2 565,164.9 564.6,164.6 564.2,164.3 563.8,164 563.4,163.8 563,163.5 562.6,163.2 562.2,162.9 561.8,162.6 561.4,162.4 561,162.1 560.6,161.8 560.2,161.5 559.8,161.2 559.4,161 559,160.7"/>
<polygon fill="#00cc00" points="583.2,167.2 583.4,167.4 583.8,167.6 584.2,167.9 584.6,168.2 585,168.5 585.4,168.8 585.8,169 586.2,169.3 586.6,169.6 587,169.9 587.4,170.2 587.8,170.4 588.2,170.7 588.6,171 589,171.3 589.4,171.5 589.8,171.8 590.2,172.1 590.6,172.4 591,172.7 591.4,172.9 591.8,173.2 592.2,173.5 592.6,173.8 593,174.1 593.4,174.3 593.8,174.6 594.2,174.9 594.6,175.2 595,175.5 595.2,175.6 595.2,186 595,185.8 594.6,185.6 594.2,185.3 593.8,185 593.4,184.7 593,184.4 592.6,184.2 592.2,183.9 591.8,183.6 591.4,183.3 591,183 590.6,182.8 590.2,182.5 589.8,182.2 589.4,181.9 589,181.6 588.6,181.4 588.2,181.1 587.8,180.8 587.4,180.5 587,180.2 586.6,180 586.2,179.7 585.8,179.4 585.4,179.1 585,178.8 584.6,178.6 584.2,178.3 583.8,178 583.4,177.7 583.2,177.6"/>
<polygon fill="#00cc00" points="607.4,184.1 607.8,184.4 608.2,184.7 608.6,185 609,185.2 609.4,185.5 609.8,185.8 610.2,186.1 610.6,186.4 611,186.6 611.4,186.9 611.8,187.2 612.2,187.5 612.6,187.7 613,188 613.4,188.3 613.8,188.6 614.2,188.9 614.6,189.1 615,189.4 615.4,189.7 615.8,190 616.2,190.3 616.6,190.5 617,190.8 617.4,191.1 617.8,191.4 618.2,191.7 618.6,191.9 619,192.2 619.4,192.5 619.4,202.9 619,202.6 618.6,202.3 618.2,202 617.8,201.7 617.4,201.5 617,201.2 616.6,200.9 616.2,200.6 615.8,200.3 615.4,200.1 615,199.8 614.6,199.5 614.2,199.2 613.8,198.9 613.4,198.7 613,198.4 612.6,198.1 612.2,197.8 611.8,197.6 611.4,197.3 611,197 610.6,196.7 610.2,196.4 609.8,196.2 609.4,195.9 609,195.6 608.6,195.3 608.2,195 607.8,194.8 607.4,194.5"/>
<polygon fill="#00cc00" points="631.6,201 631.8,201.1 632.2,201.4 632.6,201.7 633,202 633.4,202.3 633.8,202.5 634.2,202.8 634.6,203.1 635,203.4 635.4,203.6 635.8,203.9 636.2,204.2 636.6,204.5 637,204.8 637.4,205 637.8,205.3 638.2,205.6 638.6,205.9 639,206.1 639.4,206.4 639.8,206.7 640.2,207 640.6,207.3 641,207.5 641.4,207.8 641.8,208.1 642.2,208.4 642.6,208.6 643,208.9 643.4,209.2 643.6,209.3 643.6,219.7 643.4,219.5 643,219.3 642.6,219 642.2,218.7 641.8,218.4 641.4,218.2 641,217.9 640.6,217.6 640.2,217.3 639.8,217 639.4,216.8 639,216.5 638.6,216.2 638.2,215.9 637.8,215.7 637.4,215.4 637,215.1 636.6,214.8 636.2,214.5 635.8,214.3 635.4,214 635,213.7 634.6,213.4 634.2,213.2 633.8,212.9 633.4,212.6 633,212.3 632.6,212 632.2,211.8 631.8,211.5 631.6,211.3"/>
<polygon fill="#00cc00" points="405,48.7 405.4,49 405.8,49.3 406.2,49.6 406.6,49.9 407,50.2 407.4,50.5 407.8,50.8 407.8,61.5 407.4,61.2 407,60.9 406.6,60.6 406.2,60.3 405.8,60 405.4,59.7 405,59.4"/>
<polygon fill="#00cc00" points="420,60.3 420.2,60.4 420.6,60.8 421,61.1 421.4,61.4 421.8,61.7 422.2,62 422.6,62.4 423,62.7 423.4,63 423.8,63.3 424.2,63.7 424.6,64 425,64.3 425.4,64.6 425.8,64.9 426.2,65.3 426.6,65.6 427,65.9 427.4,66.2 427.8,66.6 428.2,66.9 428.6,67.2 429,67.6 429.4,67.9 429.8,68.2 430.2,68.5 430.6,68.9 431,69.2 431.4,69.5 431.8,69.8 432,70 432,80.9 431.8,80.8 431.4,80.5 431,80.1 430.6,79.8 430.2,79.5 429.8,79.1 429.4,78.8 429,78.5 428.6,78.2 428.2,77.8 427.8,77.5 427.4,77.2 427,76.9 426.6,76.5 426.2,76.2 425.8,75.9 425.4,75.6 425,75.2 424.6,74.9 424.2,74.6 423.8,74.3 423.4,73.9 423,73.6 422.6,73.3 422.2,73 421.8,72.7 421.4,72.3 421,72 420.6,71.7 420.2,71.4 420,71.2"/>
<polygon fill="#00cc00" points="444.2,80.1 444.6,80.4 445,80.7 445.4,81.1 445.8,81.4 446.2,81.8 446.6,82.1 447,82.4 447.4,82.8 447.8,83.1 448.2,83.4 448.6,83.8 449,84.1 449.4,84.5 449.8,84.8 450.2,85.2 450.6,85.5 451,85.8 451.4,86.2 451.8,86.5 452.2,86.9 452.6,87.2 453,87.5 453.4,87.9 453.8,88.2 454.2,88.6 454.6,88.9 455,89.3 455.4,89.6 455.8,90 456.2,90.3 456.2,101.5 455.8,101.1 455.4,100.8 455,100.4 454.6,100.1 454.2,99.8 453.8,99.4 453.4,99.1 453,98.7 452.6,98.4 452.2,98 451.8,97.7 451.4,97.4 451,97 450.6,96.7 450.2,96.3 449.8,96 449.4,95.6 449,95.3 448.6,95 448.2,94.6 447.8,94.3 447.4,93.9 447,93.6 446.6,93.3 446.2,92.9 445.8,92.6 445.4,92.2 445,91.9 444.6,91.6 444.2,91.2"/>
<polygon fill="#00cc00" points="468.4,100.8 468.6,101 469,101.3 469.4,101.7 469.8,102.1 470.2,102.4 470.6,102.8 471,103.1 471.4,103.5 471.8,103.8 472.2,104.2 472.6,104.5 473,104.9 473.4,105.2 473.8,105.6 474.2,105.9 474.6,106.3 475,106.6 475.4,107 475.8,107.3 476.2,107.7 476.6,108 477,108.4 477.4,108.8 477.8,109.1 478.2,109.5 478.6,109.8 479,110.2 479.4,110.5 479.8,110.9 480.2,111.2 480.4,111.4 480.4,122.7 480.2,122.6 479.8,122.2 479.4,121.9 479,121.5 478.6,121.1 478.2,120.8 477.8,120.4 477.4,120.1 477,119.7 476.6,119.4 476.2,119 475.8,118.7 475.4,118.3 475,118 474.6,117.6 474.2,117.3 473.8,116.9 473.4,116.6 473,116.2 472.6,115.8 472.2,115.5 471.8,115.1 471.4,114.8 471,114.4 470.6,114.1 470.2,113.7 469.8,113.4 469.4,113 469,112.7 468.6,112.3 468.4,112.2"/>
<polygon fill="#00cc00" points="492.6,122.2 493,122.6 493.4,123 493.8,123.3 494.2,123.7 494.6,124 495,124.4 495.4,124.8 495.8,125.1 496.2,125.5 496.6,125.8 497,126.2 497.4,126.6 497.8,126.9 498.2,127.3 498.6,127.6 499,128 499.4,128.3 499.8,128.7 500.2,129.1 500.6,129.4 501,129.8 501.4,130.1 501.8,130.5 502.2,130.9 502.6,131.2 503,131.6 503.4,131.9 503.8,132.3 504.2,132.7 504.6,133 504.6,144.4 504.2,144.1 503.8,143.7 503.4,143.4 503,143 502.6,142.6 502.2,142.3 501.8,141.9 501.4,141.6 501,141.2 500.6,140.8 500.2,140.5 499.8,140.1 499.4,139.8 499,139.4 498.6,139.1 498.2,138.7 497.8,138.3 497.4,138 497,137.6 496.6,137.3 496.2,136.9 495.8,136.5 495.4,136.2 495,135.8 494.6,135.5 494.2,135.1 493.8,134.7 493.4,134.4 493,134 492.6,133.7"/>
<polygon fill="#00cc00" points="516.8,144 517,144.2 517.4,144.5 517.8,144.9 518.2,145.3 518.6,145.6 519,146 519.4,146.3 519.8,146.7 520.2,147.1 520.6,147.4 521,147.8 521.4,148.1 521.8,148.5 522.2,148.9 522.6,149.2 523,149.6 523.4,149.9 523.8,150.3 524.2,150.7 524.6,151 525,151.4 525.4,151.7 525.8,152.1 526.2,152.5 526.6,152.8 527,153.2 527.4,153.5 527.8,153.9 528.2,154.3 528.6,154.6 528.8,154.8 528.8,166.2 528.6,166.1 528.2,165.7 527.8,165.3 527.4,165 527,164.6 526.6,164.3 526.2,163.9 525.8,163.5 525.4,163.2 525,162.8 524.6,162.5 524.2,162.1 523.8,161.7 523.4,161.4 523,161 522.6,160.7 522.2,160.3 521.8,159.9 521.4,159.6 521,159.2 520.6,158.9 520.2,158.5 519.8,158.1 519.4,157.8 519,157.4 518.6,157.1 518.2,156.7 517.8,156.3 517.4,156 517,155.6 516.8,155.4"/>
<polygon fill="#00cc00" points="541,165.8 541.4,166.1 541.8,166.5 542.2,166.8 542.6,167.2 543,167.6 543.4,167.9 543.8,168.3 544.2,168.6 544.6,169 545,169.3 545.4,169.7 545.8,170.1 546.2,170.4 546.6,170.8 547,171.1 547.4,171.5 547.8,171.8 548.2,172.2 548.6,172.5 549,172.9 549.4,173.3 549.8,173.6 550.2,174 550.6,174.3 551,174.7 551.4,175 551.8,175.4 552.2,175.7 552.6,176.1 553,176.4 553,187.8 552.6,187.5 552.2,187.1 551.8,186.8 551.4,186.4 551,186 550.6,185.7 550.2,185.3 549.8,185 549.4,184.6 549,184.3 548.6,183.9 548.2,183.6 547.8,183.2 547.4,182.8 547,182.5 546.6,182.1 546.2,181.8 545.8,181.4 545.4,181.1 545,180.7 544.6,180.4 544.2,180 543.8,179.6 543.4,179.3 543,178.9 542.6,178.6 542.2,178.2 541.8,177.9 541.4,177.5 541,177.1"/>
<polygon fill="#00cc00" points="565.2,187.2 565.4,187.4 565.8,187.7 566.2,188.1 566.6,188.4 567,188.8 567.4,189.1 567.8,189.5 568.2,189.8 568.6,190.2 569,190.5 569.4,190.9 569.8,191.2 570.2,191.6 570.6,191.9 571,192.3 571.4,192.6 571.8,193 572.2,193.3 572.6,193.6 573,194 573.4,194.3 573.8,194.7 574.2,195 574.6,195.4 575,195.7 575.4,196.1 575.8,196.4 576.2,196.7 576.6,197.1 577,197.4 577.2,197.6 577.2,208.8 577,208.7 576.6,208.3 576.2,208 575.8,207.6 575.4,207.3 575,206.9 574.6,206.6 574.2,206.3 573.8,205.9 573.4,205.6 573,205.2 572.6,204.9 572.2,204.5 571.8,204.2 571.4,203.8 571,203.5 570.6,203.1 570.2,202.8 569.8,202.5 569.4,202.1 569,201.8 568.6,201.4 568.2,201.1 567.8,200.7 567.4,200.4 567,200 566.6,199.7 566.2,199.3 565.8,199 565.4,198.6 565.2,198.5"/>
<polygon fill="#00cc00" points="589.4,208 589.8,208.4 590.2,208.7 590.6,209 591,209.4 591.4,209.7 591.8,210 592.2,210.4 592.6,210.7 593,211 593.4,211.4 593.8,211.7 594.2,212 594.6,212.4 595,212.7 595.4,213 595.8,213.3 596.2,213.7 596.6,214 597,214.3 597.4,214.7 597.8,215 598.2,215.3 598.6,215.7 599,216 599.4,216.3 599.8,216.6 600.2,217 600.6,217.3 601,217.6 601.4,217.9 601.4,229 601,228.6 600.6,228.3 600.2,228 599.8,227.7 599.4,227.3 599,227 598.6,226.7 598.2,226.3 597.8,226 597.4,225.7 597,225.4 596.6,225 596.2,224.7 595.8,224.4 595.4,224 595,223.7 594.6,223.4 594.2,223.1 593.8,222.7 593.4,222.4 593,222.1 592.6,221.7 592.2,221.4 591.8,221.1 591.4,220.7 591,220.4 590.6,220.1 590.2,219.7 589.8,219.4 589.4,219.1"/>
<polygon fill="#00cc00" points="613.6,227.9 613.8,228 614.2,228.3 614.6,228.6 615,229 615.4,229.3 615.8,229.6 616.2,229.9 616.6,230.2 617,230.5 617.4,230.8 617.8,231.2 618.2,231.5 618.6,231.8 619,232.1 619.4,232.4 619.8,232.7 620.2,233 620.6,233.3 621,233.6 621.4,233.9 621.8,234.2 622.2,234.6 622.6,234.9 623,235.2 623.4,235.5 623.8,235.8 624.2,236.1 624.6,236.4 625,236.7 625.4,237 625.6,237.1 625.6,247.9 625.4,247.7 625,247.4 624.6,247.1 624.2,246.8 623.8,246.5 623.4,246.2 623,245.9 622.6,245.6 622.2,245.3 621.8,245 621.4,244.7 621,244.4 620.6,244.1 620.2,243.8 619.8,243.5 619.4,243.1 619,242.8 618.6,242.5 618.2,242.2 617.8,241.9 617.4,241.6 617,241.3 616.6,241 616.2,240.7 615.8,240.3 615.4,240 615,239.7 614.6,239.4 614.2,239.1 613.8,238.8 613.6,238.6"/>
<polygon fill="#00cc00" points="637.8,246.4 638.2,246.7 638.6,247 639,247.3 639.4,247.5 639.8,247.8 640.2,248.1 640.6,248.4 641,248.7 641.4,249 641.8,249.3 642.2,249.6 642.6,249.8 643,250.1 643.4,250.4 643.8,250.7 644.2,251 644.6,251.3 645,251.5 645.4,251.8 645.8,252.1 646.2,252.4 646.6,252.7 647,252.9 647.4,253.2 647.8,253.5 648.2,253.8 648.6,254.1 649,254.3 649.4,254.6 649.8,254.9 649.8,265.3 649.4,265 649,264.8 648.6,264.5 648.2,264.2 647.8,263.9 647.4,263.6 647,263.4 646.6,263.1 646.2,262.8 645.8,262.5 645.4,262.2 645,262 644.6,261.7 644.2,261.4 643.8,261.1 643.4,260.8 643,260.5 642.6,260.3 642.2,260 641.8,259.7 641.4,259.4 641,259.1 640.6,258.8 640.2,258.5 639.8,258.2 639.4,258 639,257.7 638.6,257.4 638.2,257.1 637.8,256.8"/>
<polygon fill="#00cc00" points="410.8,74.9 411.2,75.3 411.6,75.7 412,76.2 412.4,76.6 412.8,77 413.2,77.5 413.6,77.9 414,78.3 414.4,78.8 414.8,79.2 415.2,79.6 415.6,80.1 416,80.5 416.4,80.9 416.8,81.4 417.2,81.8 417.6,82.2 418,82.7 418.4,83.1 418.8,83.5 419.2,84 419.6,84.4 420,84.8 420.4,85.3 420.8,85.7 421.2,86.1 421.6,86.6 421.9,86.9 410.3,86.9 410,86.6 409.6,86.1 409.2,85.7 408.8,85.3 408.4,84.8 408,84.4 407.6,84 407.2,83.5 406.8,83.1 406.4,82.7 406,82.2 405.6,81.8 405.2,81.4 404.8,80.9 404.4,80.5 404,80.1 403.6,79.6 403.2,79.2 402.8,78.8 402.4,78.3 402,77.9 401.6,77.5 401.2,77 400.8,76.6 400.4,76.2 400,75.7 399.6,75.3 399.2,74.9"/>
<polygon fill="#00cc00" points="433.3,99.1 433.6,99.4 434,99.9 434.4,100.3 434.8,100.7 435.2,101.2 435.6,101.6 436,102 436.4,102.4 436.8,102.9 437.2,103.3 437.6,103.7 438,104.2 438.4,104.6 438.8,105 439.2,105.4 439.6,105.9 440,106.3 440.4,106.7 440.8,107.1 441.2,107.6 441.6,108 442,108.4 442.4,108.8 442.8,109.3 443.2,109.7 443.6,110.1 444,110.5 444.4,111 444.5,111.1 432.9,111.1 432.8,111 432.4,110.5 432,110.1 431.6,109.7 431.2,109.3 430.8,108.8 430.4,108.4 430,108 429.6,107.6 429.2,107.1 428.8,106.7 428.4,106.3 428,105.9 427.6,105.4 427.2,105 426.8,104.6 426.4,104.2 426,103.7 425.6,103.3 425.2,102.9 424.8,102.4 424.4,102 424,101.6 423.6,101.2 423.2,100.7 422.8,100.3 422.4,99.9 422,99.4 421.6,99.1"/>
<polygon fill="#00cc00" points="456.1,123.3 456.1,123.3 456.5,123.7 456.9,124.1 457.3,124.5 457.7,125 458.1,125.4 458.5,125.8 458.9,126.2 459.3,126.6 459.7,127.1 460.1,127.5 460.5,127.9 460.9,128.3 461.3,128.7 461.7,129.2 462.1,129.6 462.5,130 462.9,130.4 463.3,130.8 463.7,131.3 464.1,131.7 464.5,132.1 464.9,132.5 465.3,132.9 465.7,133.4 466.1,133.8 466.5,134.2 466.9,134.6 467.3,135 467.5,135.3 455.7,135.3 455.5,135 455.1,134.6 454.7,134.2 454.3,133.8 453.9,133.4 453.5,132.9 453.1,132.5 452.7,132.1 452.3,131.7 451.9,131.3 451.5,130.8 451.1,130.4 450.7,130 450.3,129.6 449.9,129.2 449.5,128.7 449.1,128.3 448.7,127.9 448.3,127.5 447.9,127.1 447.5,126.6 447.1,126.2 446.7,125.8 446.3,125.4 445.9,125 445.5,124.5 445.1,124.1 444.7,123.7 444.3,123.3 444.3,123.3"/>
<polygon fill="#00cc00" points="479.2,147.5 479.3,147.6 479.7,148 480.1,148.4 480.5,148.8 480.9,149.2 481.3,149.7 481.7,150.1 482.1,150.5 482.5,150.9 482.9,151.3 483.3,151.7 483.7,152.1 484.1,152.6 484.5,153 484.9,153.4 485.3,153.8 485.7,154.2 486.1,154.6 486.5,155 486.9,155.5 487.3,155.9 487.7,156.3 488.1,156.7 488.5,157.1 488.9,157.5 489.3,157.9 489.7,158.4 490.1,158.8 490.5,159.2 490.8,159.5 479,159.5 478.7,159.2 478.3,158.8 477.9,158.4 477.5,157.9 477.1,157.5 476.7,157.1 476.3,156.7 475.9,156.3 475.5,155.9 475.1,155.5 474.7,155 474.3,154.6 473.9,154.2 473.5,153.8 473.1,153.4 472.7,153 472.3,152.6 471.9,152.1 471.5,151.7 471.1,151.3 470.7,150.9 470.3,150.5 469.9,150.1 469.5,149.7 469.1,149.2 468.7,148.8 468.3,148.4 467.9,148 467.5,147.6 467.4,147.5"/>
<polygon fill="#00cc00" points="502.7,171.7 503,171.9 503.4,172.3 503.8,172.8 504.2,173.2 504.6,173.6 505,174 505.4,174.4 505.8,174.8 506.2,175.2 506.6,175.6 507,176 507.4,176.4 507.8,176.8 508.2,177.3 508.6,177.7 509,178.1 509.4,178.5 509.8,178.9 510.2,179.3 510.6,179.7 511,180.1 511.4,180.5 511.8,180.9 512.2,181.3 512.6,181.7 513,182.1 513.4,182.6 513.8,183 514.2,183.4 514.4,183.7 502.5,183.7 502.2,183.4 501.8,183 501.4,182.6 501,182.1 500.6,181.7 500.2,181.3 499.8,180.9 499.4,180.5 499,180.1 498.6,179.7 498.2,179.3 497.8,178.9 497.4,178.5 497,178.1 496.6,177.7 496.2,177.3 495.8,176.8 495.4,176.4 495,176 494.6,175.6 494.2,175.2 493.8,174.8 493.4,174.4 493,174 492.6,173.6 492.2,173.2 491.8,172.8 491.4,172.3 491,171.9 490.8,171.7"/>
<polygon fill="#00cc00" points="526.5,195.9 526.6,195.9 527,196.3 527.4,196.7 527.8,197.1 528.2,197.5 528.6,197.9 529,198.3 529.4,198.7 529.8,199.1 530.2,199.5 530.6,200 531,200.4 531.4,200.8 531.8,201.2 532.2,201.6 532.6,202 533,202.4 533.4,202.8 533.8,203.2 534.2,203.6 534.6,204 535,204.4 535.4,204.8 535.8,205.2 536.2,205.6 536.6,206 537,206.4 537.4,206.8 537.8,207.2 538.2,207.6 538.5,207.9 526.5,207.9 526.2,207.6 525.8,207.2 525.4,206.8 525,206.4 524.6,206 524.2,205.6 523.8,205.2 523.4,204.8 523,204.4 522.6,204 522.2,203.6 521.8,203.2 521.4,202.8 521,202.4 520.6,202 520.2,201.6 519.8,201.2 519.4,200.8 519,200.4 518.6,200 518.2,199.5 517.8,199.1 517.4,198.7 517,198.3 516.6,197.9 516.2,197.5 515.8,197.1 515.4,196.7 515,196.3 514.6,195.9 514.5,195.9"/>
<polygon fill="#00cc00" points="544.7,214 545,214.4 545.4,214.8 545.8,215.1 546.2,215.5 546.6,215.9 547,216.3 547.4,216.7 547.8,217.1 548.2,217.5 548.6,217.9 549,218.3 549.4,218.7 549.8,219.1 550.2,219.5 550.6,219.9 551,220.3 551.4,220.7 551.8,221.1 552.2,221.5 552.6,221.9 553,222.3 553.4,222.7 553.8,223.1 554.2,223.5 554.6,223.8 555,224.2 555.4,224.6 555.8,225 556.2,225.4 556.6,225.8 556.7,225.9 556.7,237.9 556.6,237.8 556.2,237.4 555.8,237 555.4,236.6 555,236.2 554.6,235.8 554.2,235.4 553.8,235 553.4,234.6 553,234.2 552.6,233.8 552.2,233.4 551.8,233 551.4,232.6 551,232.2 550.6,231.9 550.2,231.5 549.8,231.1 549.4,230.7 549,230.3 548.6,229.9 548.2,229.5 547.8,229.1 547.4,228.7 547,228.3 546.6,227.9 546.2,227.5 545.8,227.1 545.4,226.7 545,226.3 544.7,226"/>
<polygon fill="#00cc00" points="568.9,237.9 569,238 569.4,238.4 569.8,238.8 570.2,239.2 570.6,239.6 571,240 571.4,240.4 571.8,240.8 572.2,241.1 572.6,241.5 573,241.9 573.4,242.3 573.8,242.7 574.2,243.1 574.6,243.5 575,243.9 575.4,244.3 575.8,244.6 576.2,245 576.6,245.4 577,245.8 577.4,246.2 577.8,246.6 578.2,247 578.6,247.4 579,247.7 579.4,248.1 579.8,248.5 580.2,248.9 580.6,249.3 580.9,249.6 580.9,261.4 580.6,261.2 580.2,260.8 579.8,260.4 579.4,260 579,259.6 578.6,259.2 578.2,258.8 577.8,258.4 577.4,258.1 577,257.7 576.6,257.3 576.2,256.9 575.8,256.5 575.4,256.1 575,255.7 574.6,255.3 574.2,254.9 573.8,254.6 573.4,254.2 573,253.8 572.6,253.4 572.2,253 571.8,252.6 571.4,252.2 571,251.8 570.6,251.4 570.2,251 569.8,250.7 569.4,250.3 569,249.9 568.9,249.8"/>
<polygon fill="#2d2dff" points="425,26.6 425.4,26.9 425.8,27.1 426.2,27.3 426.6,27.6 427,27.8 427.4,28 427.8,28.2 428.2,28.5 428.6,28.7 428.7,28.8 428.7,38.2 428.6,38.2 428.2,37.9 427.8,37.7 427.4,37.5 427,37.3 426.6,37 426.2,36.8 425.8,36.6 425.4,36.3 425,36.1"/>
<polygon fill="#2d2dff" points="434.9,32.3 435,32.4 435.4,32.6 435.8,32.8 436.2,33.1 436.6,33.3 437,33.5 437.4,33.7 437.8,34 438.2,34.2 438.6,34.4 439,34.6 439.4,34.9 439.8,35.1 440.2,35.3 440.6,35.6 440.9,35.7 440.9,45.1 440.6,45 440.2,44.7 439.8,44.5 439.4,44.3 439,44.1 438.6,43.8 438.2,43.6 437.8,43.4 437.4,43.2 437,42.9 436.6,42.7 436.2,42.5 435.8,42.3 435.4,42 435,41.8 434.9,41.7"/>
<polygon fill="#2d2dff" points="447.1,39.2 447.4,39.4 447.8,39.6 448.2,39.8 448.6,40.1 449,40.3 449.4,40.5 449.8,40.7 450.2,40.9 450.6,41.2 451,41.4 451.4,41.6 451.8,41.8 452.2,42.1 452.6,42.3 453,42.5 453.1,42.6 453.1,51.9 453,51.9 452.6,51.7 452.2,51.4 451.8,51.2 451.4,51 451,50.8 450.6,50.6 450.2,50.3 449.8,50.1 449.4,49.9 449,49.7 448.6,49.4 448.2,49.2 447.8,49 447.4,48.8 447.1,48.6"/>
<polygon fill="#2d2dff" points="459.3,46 459.4,46.1 459.8,46.3 460.2,46.5 460.6,46.7 461,46.9 461.4,47.2 461.8,47.4 462.2,47.6 462.6,47.8 463,48 463.4,48.3 463.8,48.5 464.2,48.7 464.6,48.9 465,49.1 465.3,49.3 465.3,58.6 465,58.5 464.6,58.3 464.2,58 463.8,57.8 463.4,57.6 463,57.4 462.6,57.2 462.2,56.9 461.8,56.7 461.4,56.5 461,56.3 460.6,56.1 460.2,55.8 459.8,55.6 459.4,55.4 459.3,55.4"/>
<polygon fill="#2d2dff" points="471.5,52.7 471.8,52.9 472.2,53.1 472.6,53.3 473,53.5 473.4,53.7 473.8,53.9 474.2,54.2 474.6,54.4 475,54.6 475.4,54.8 475.8,55 476.2,55.2 476.6,55.5 477,55.7 477.4,55.9 477.5,56 477.5,65.3 477.4,65.2 477,65 476.6,64.8 476.2,64.6 475.8,64.4 475.4,64.1 475,63.9 474.6,63.7 474.2,63.5 473.8,63.3 473.4,63.1 473,62.8 472.6,62.6 472.2,62.4 471.8,62.2 471.5,62"/>
<polygon fill="#2d2dff" points="483.7,59.3 483.8,59.4 484.2,59.6 484.6,59.8 485,60 485.4,60.2 485.8,60.5 486.2,60.7 486.6,60.9 487,61.1 487.4,61.3 487.8,61.5 488.2,61.7 488.6,62 489,62.2 489.4,62.4 489.7,62.6 489.7,71.9 489.4,71.7 489,71.5 488.6,71.3 488.2,71.1 487.8,70.9 487.4,70.6 487,70.4 486.6,70.2 486.2,70 485.8,69.8 485.4,69.6 485,69.3 484.6,69.1 484.2,68.9 483.8,68.7 483.7,68.6"/>
<polygon fill="#2d2dff" points="495.9,65.9 496.2,66.1 496.6,66.3 497,66.5 497.4,66.7 497.8,66.9 498.2,67.1 498.6,67.4 499,67.6 499.4,67.8 499.8,68 500.2,68.2 500.6,68.4 501,68.7 501.4,68.9 501.8,69.1 501.9,69.1 501.9,78.5 501.8,78.4 501.4,78.2 501,78 500.6,77.8 500.2,77.5 499.8,77.3 499.4,77.1 499,76.9 498.6,76.7 498.2,76.5 497.8,76.2 497.4,76 497,75.8 496.6,75.6 496.2,75.4 495.9,75.2"/>
<polygon fill="#2d2dff" points="508.1,72.5 508.2,72.5 508.6,72.7 509,73 509.4,73.2 509.8,73.4 510.2,73.6 510.6,73.8 511,74 511.4,74.3 511.8,74.5 512.2,74.7 512.6,74.9 513,75.1 513.4,75.3 513.8,75.6 514.1,75.7 514.1,85 513.8,84.9 513.4,84.7 513,84.4 512.6,84.2 512.2,84 511.8,83.8 511.4,83.6 511,83.4 510.6,83.1 510.2,82.9 509.8,82.7 509.4,82.5 509,82.3 508.6,82.1 508.2,81.9 508.1,81.8"/>
<polygon fill="#2d2dff" points="520.3,79.1 520.6,79.2 521,79.4 521.4,79.7 521.8,79.9 522.2,80.1 522.6,80.3 523,80.5 523.4,80.7 523.8,81 524.2,81.2 524.6,81.4 525,81.6 525.4,81.8 525.8,82 526.2,82.3 526.3,82.3 526.3,91.6 526.2,91.6 525.8,91.4 525.4,91.2 525,90.9 524.6,90.7 524.2,90.5 523.8,90.3 523.4,90.1 523,89.9 522.6,89.6 522.2,89.4 521.8,89.2 521.4,89 521,88.8 520.6,88.6 520.3,88.4"/>
<polygon fill="#2d2dff" points="532.5,85.7 532.6,85.7 533,86 533.4,86.2 533.8,86.4 534.2,86.6 534.6,86.8 535,87 535.4,87.3 535.8,87.5 536.2,87.7 536.6,87.9 537,88.1 537.4,88.4 537.8,88.6 538.2,88.8 538.5,89 538.5,98.3 538.2,98.1 537.8,97.9 537.4,97.7 537,97.5 536.6,97.3 536.2,97 535.8,96.8 535.4,96.6 535,96.4 534.6,96.2 534.2,95.9 533.8,95.7 533.4,95.5 533,95.3 532.6,95.1 532.5,95"/>
<polygon fill="#2d2dff" points="544.7,92.4 545,92.5 545.4,92.7 545.8,93 546.2,93.2 546.6,93.4 547,93.6 547.4,93.8 547.8,94.1 548.2,94.3 548.6,94.5 549,94.7 549.4,94.9 549.8,95.2 550.2,95.4 550.6,95.6 550.7,95.7 550.7,105 550.6,105 550.2,104.8 549.8,104.5 549.4,104.3 549,104.1 548.6,103.9 548.2,103.7 547.8,103.4 547.4,103.2 547,103 546.6,102.8 546.2,102.5 545.8,102.3 545.4,102.1 545,101.9 544.7,101.7"/>
<polygon fill="#2d2dff" points="556.9,99.1 557,99.2 557.4,99.4 557.8,99.6 558.2,99.8 558.6,100.1 559,100.3 559.4,100.5 559.8,100.7 560.2,101 560.6,101.2 561,101.4 561.4,101.6 561.8,101.9 562.2,102.1 562.6,102.3 562.9,102.5 562.9,111.9 562.6,111.7 562.2,111.5 561.8,111.3 561.4,111 561,110.8 560.6,110.6 560.2,110.4 559.8,110.1 559.4,109.9 559,109.7 558.6,109.5 558.2,109.2 557.8,109 557.4,108.8 557,108.6 556.9,108.5"/>
<polygon fill="#2d2dff" points="569.1,106 569.4,106.1 569.8,106.4 570.2,106.6 570.6,106.8 571,107 571.4,107.3 571.8,107.5 572.2,107.7 572.6,108 573,108.2 573.4,108.4 573.8,108.6 574.2,108.9 574.6,109.1 575,109.3 575.1,109.4 575.1,118.8 575,118.8 574.6,118.6 574.2,118.3 573.8,118.1 573.4,117.9 573,117.6 572.6,117.4 572.2,117.2 571.8,116.9 571.4,116.7 571,116.5 570.6,116.3 570.2,116 569.8,115.8 569.4,115.6 569.1,115.4"/>
<polygon fill="#2d2dff" points="581.3,113 581.4,113 581.8,113.2 582.2,113.5 582.6,113.7 583,113.9 583.4,114.2 583.8,114.4 584.2,114.6 584.6,114.9 585,115.1 585.4,115.3 585.8,115.6 586.2,115.8 586.6,116 587,116.3 587.3,116.5 587.3,126 587,125.8 586.6,125.5 586.2,125.3 585.8,125.1 585.4,124.8 585,124.6 584.6,124.4 584.2,124.1 583.8,123.9 583.4,123.7 583,123.4 582.6,123.2 582.2,123 581.8,122.7 581.4,122.5 581.3,122.4"/>
<polygon fill="#2d2dff" points="593.5,120.1 593.8,120.3 594.2,120.5 594.6,120.7 595,121 595.4,121.2 595.8,121.5 596.2,121.7 596.6,121.9 597,122.2 597.4,122.4 597.8,122.7 598.2,122.9 598.6,123.1 599,123.4 599.4,123.6 599.5,123.7 599.5,133.2 599.4,133.2 599,132.9 598.6,132.7 598.2,132.5 597.8,132.2 597.4,132 597,131.7 596.6,131.5 596.2,131.3 595.8,131 595.4,130.8 595,130.5 594.6,130.3 594.2,130.1 593.8,129.8 593.5,129.6"/>
<polygon fill="#2d2dff" points="605.7,127.4 605.8,127.5 606.2,127.7 606.6,128 607,128.2 607.4,128.4 607.8,128.7 608.2,128.9 608.6,129.2 609,129.4 609.4,129.7 609.8,129.9 610.2,130.2 610.6,130.4 611,130.7 611.4,130.9 611.7,131.1 611.7,140.7 611.4,140.5 611,140.3 610.6,140 610.2,139.8 609.8,139.6 609.4,139.3 609,139.1 608.6,138.8 608.2,138.6 607.8,138.3 607.4,138.1 607,137.8 606.6,137.6 606.2,137.3 605.8,137.1 605.7,137"/>
<polygon fill="#2d2dff" points="617.9,134.9 618.2,135.1 618.6,135.4 619,135.6 619.4,135.9 619.8,136.1 620.2,136.4 620.6,136.6 621,136.9 621.4,137.1 621.8,137.4 622.2,137.6 622.6,137.9 623,138.2 623.4,138.4 623.8,138.7 623.9,138.7 623.9,148.4 623.8,148.4 623.4,148.1 623,147.9 622.6,147.6 622.2,147.4 621.8,147.1 621.4,146.8 621,146.6 620.6,146.3 620.2,146.1 619.8,145.8 619.4,145.6 619,145.3 618.6,145.1 618.2,144.8 617.9,144.6"/>
<polygon fill="#2d2dff" points="630.1,142.7 630.2,142.7 630.6,143 631,143.3 631.4,143.5 631.8,143.8 632.2,144 632.6,144.3 633,144.6 633.4,144.8 633.8,145.1 634.2,145.3 634.6,145.6 635,145.9 635.4,146.1 635.8,146.4 636.1,146.6 636.1,156.4 635.8,156.2 635.4,155.9 635,155.7 634.6,155.4 634.2,155.1 633.8,154.9 633.4,154.6 633,154.4 632.6,154.1 632.2,153.8 631.8,153.6 631.4,153.3 631,153.1 630.6,152.8 630.2,152.5 630.1,152.5"/>
<polygon fill="#2d2dff" points="642.3,150.7 642.6,150.9 643,151.1 643.4,151.4 643.8,151.7 644.2,151.9 644.6,152.2 645,152.5 645.4,152.7 645.8,153 646.2,153.3 646.6,153.6 647,153.8 647.4,154.1 647.8,154.4 648.2,154.6 648.3,154.7 648.3,164.6 648.2,164.5 647.8,164.3 647.4,164 647,163.7 646.6,163.5 646.2,163.2 645.8,162.9 645.4,162.6 645,162.4 644.6,162.1 644.2,161.8 643.8,161.6 643.4,161.3 643,161 642.6,160.8 642.3,160.6"/>
<polygon fill="#2d2dff" points="405,33.8 405.4,34.1 405.8,34.4 406.2,34.6 406.6,34.9 406.6,44.7 406.2,44.4 405.8,44.2 405.4,43.9 405,43.7"/>
<polygon fill="#2d2dff" points="412.8,39 413,39.1 413.4,39.4 413.8,39.6 414.2,39.9 414.6,40.1 415,40.4 415.4,40.7 415.8,40.9 416.2,41.2 416.6,41.5 417,41.7 417.4,42 417.8,42.3 418.2,42.5 418.6,42.8 418.8,42.9 418.8,52.8 418.6,52.6 418.2,52.4 417.8,52.1 417.4,51.8 417,51.6 416.6,51.3 416.2,51 415.8,50.8 415.4,50.5 415,50.2 414.6,50 414.2,49.7 413.8,49.5 413.4,49.2 413,48.9 412.8,48.8"/>
<polygon fill="#2d2dff" points="425,47 425.4,47.3 425.8,47.6 426.2,47.8 426.6,48.1 427,48.4 427.4,48.6 427.8,48.9 428.2,49.2 428.6,49.4 429,49.7 429.4,50 429.8,50.2 430.2,50.5 430.6,50.8 431,51 431,60.9 430.6,60.6 430.2,60.4 429.8,60.1 429.4,59.8 429,59.6 428.6,59.3 428.2,59 427.8,58.8 427.4,58.5 427,58.2 426.6,58 426.2,57.7 425.8,57.4 425.4,57.2 425,56.9"/>
<polygon fill="#2d2dff" points="437.2,55.2 437.4,55.3 437.8,55.6 438.2,55.9 438.6,56.1 439,56.4 439.4,56.7 439.8,56.9 440.2,57.2 440.6,57.5 441,57.7 441.4,58 441.8,58.3 442.2,58.6 442.6,58.8 443,59.1 443.2,59.2 443.2,69.1 443,69 442.6,68.7 442.2,68.4 441.8,68.2 441.4,67.9 441,67.6 440.6,67.4 440.2,67.1 439.8,66.8 439.4,66.6 439,66.3 438.6,66 438.2,65.7 437.8,65.5 437.4,65.2 437.2,65.1"/>
<polygon fill="#2d2dff" points="449.4,63.4 449.8,63.7 450.2,64 450.6,64.2 451,64.5 451.4,64.8 451.8,65 452.2,65.3 452.6,65.6 453,65.9 453.4,66.1 453.8,66.4 454.2,66.7 454.6,66.9 455,67.2 455.4,67.5 455.4,77.4 455,77.1 454.6,76.9 454.2,76.6 453.8,76.3 453.4,76 453,75.8 452.6,75.5 452.2,75.2 451.8,75 451.4,74.7 451,74.4 450.6,74.1 450.2,73.9 449.8,73.6 449.4,73.3"/>
<polygon fill="#2d2dff" points="461.6,71.7 461.8,71.8 462.2,72.1 462.6,72.4 463,72.7 463.4,72.9 463.8,73.2 464.2,73.5 464.6,73.8 465,74 465.4,74.3 465.8,74.6 466.2,74.9 466.6,75.1 467,75.4 467.4,75.7 467.6,75.8 467.6,85.8 467.4,85.6 467,85.3 466.6,85.1 466.2,84.8 465.8,84.5 465.4,84.3 465,84 464.6,83.7 464.2,83.4 463.8,83.2 463.4,82.9 463,82.6 462.6,82.3 462.2,82.1 461.8,81.8 461.6,81.7"/>
<polygon fill="#2d2dff" points="473.8,80.1 474.2,80.3 474.6,80.6 475,80.9 475.4,81.2 475.8,81.4 476.2,81.7 476.6,82 477,82.3 477.4,82.6 477.8,82.8 478.2,83.1 478.6,83.4 479,83.7 479.4,83.9 479.8,84.2 479.8,94.2 479.4,93.9 479,93.6 478.6,93.3 478.2,93.1 477.8,92.8 477.4,92.5 477,92.2 476.6,92 476.2,91.7 475.8,91.4 475.4,91.1 475,90.9 474.6,90.6 474.2,90.3 473.8,90"/>
<polygon fill="#2d2dff" points="486,88.5 486.2,88.6 486.6,88.9 487,89.2 487.4,89.5 487.8,89.7 488.2,90 488.6,90.3 489,90.6 489.4,90.8 489.8,91.1 490.2,91.4 490.6,91.7 491,92 491.4,92.2 491.8,92.5 492,92.6 492,102.6 491.8,102.5 491.4,102.2 491,101.9 490.6,101.7 490.2,101.4 489.8,101.1 489.4,100.8 489,100.5 488.6,100.3 488.2,100 487.8,99.7 487.4,99.4 487,99.2 486.6,98.9 486.2,98.6 486,98.5"/>
<polygon fill="#2d2dff" points="498.2,96.9 498.6,97.2 499,97.5 499.4,97.8 499.8,98.1 500.2,98.3 500.6,98.6 501,98.9 501.4,99.2 501.8,99.5 502.2,99.7 502.6,100 503,100.3 503.4,100.6 503.8,100.9 504.2,101.1 504.2,111.1 503.8,110.8 503.4,110.6 503,110.3 502.6,110 502.2,109.7 501.8,109.5 501.4,109.2 501,108.9 500.6,108.6 500.2,108.3 499.8,108.1 499.4,107.8 499,107.5 498.6,107.2 498.2,106.9"/>
<polygon fill="#2d2dff" points="510.4,105.5 510.6,105.6 511,105.9 511.4,106.2 511.8,106.4 512.2,106.7 512.6,107 513,107.3 513.4,107.6 513.8,107.8 514.2,108.1 514.6,108.4 515,108.7 515.4,109 515.8,109.2 516.2,109.5 516.4,109.7 516.4,119.7 516.2,119.5 515.8,119.2 515.4,119 515,118.7 514.6,118.4 514.2,118.1 513.8,117.8 513.4,117.6 513,117.3 512.6,117 512.2,116.7 511.8,116.4 511.4,116.2 511,115.9 510.6,115.6 510.4,115.5"/>
<polygon fill="#2d2dff" points="522.6,114 523,114.3 523.4,114.6 523.8,114.8 524.2,115.1 524.6,115.4 525,115.7 525.4,116 525.8,116.2 526.2,116.5 526.6,116.8 527,117.1 527.4,117.4 527.8,117.7 528.2,117.9 528.6,118.2 528.6,128.2 528.2,128 527.8,127.7 527.4,127.4 527,127.1 526.6,126.8 526.2,126.5 525.8,126.3 525.4,126 525,125.7 524.6,125.4 524.2,125.1 523.8,124.9 523.4,124.6 523,124.3 522.6,124"/>
<polygon fill="#2d2dff" points="534.8,122.6 535,122.7 535.4,123 535.8,123.3 536.2,123.6 536.6,123.8 537,124.1 537.4,124.4 537.8,124.7 538.2,125 538.6,125.3 539,125.5 539.4,125.8 539.8,126.1 540.2,126.4 540.6,126.7 540.8,126.8 540.8,136.8 540.6,136.7 540.2,136.4 539.8,136.1 539.4,135.8 539,135.6 538.6,135.3 538.2,135 537.8,134.7 537.4,134.4 537,134.2 536.6,133.9 536.2,133.6 535.8,133.3 535.4,133 535,132.7 534.8,132.6"/>
<polygon fill="#2d2dff" points="547,131.2 547.4,131.5 547.8,131.7 548.2,132 548.6,132.3 549,132.6 549.4,132.9 549.8,133.2 550.2,133.4 550.6,133.7 551,134 551.4,134.3 551.8,134.6 552.2,134.8 552.6,135.1 553,135.4 553,145.5 552.6,145.2 552.2,144.9 551.8,144.6 551.4,144.3 551,144 550.6,143.8 550.2,143.5 549.8,143.2 549.4,142.9 549,142.6 548.6,142.3 548.2,142.1 547.8,141.8 547.4,141.5 547,141.2"/>
<polygon fill="#2d2dff" points="559.2,139.8 559.4,139.9 559.8,140.2 560.2,140.5 560.6,140.8 561,141.1 561.4,141.4 561.8,141.6 562.2,141.9 562.6,142.2 563,142.5 563.4,142.8 563.8,143 564.2,143.3 564.6,143.6 565,143.9 565.2,144 565.2,154.1 565,153.9 564.6,153.7 564.2,153.4 563.8,153.1 563.4,152.8 563,152.5 562.6,152.2 562.2,152 561.8,151.7 561.4,151.4 561,151.1 560.6,150.8 560.2,150.5 559.8,150.3 559.4,150 559.2,149.8"/>
<polygon fill="#2d2dff" points="571.4,148.4 571.8,148.7 572.2,149 572.6,149.3 573,149.6 573.4,149.8 573.8,150.1 574.2,150.4 574.6,150.7 575,151 575.4,151.3 575.8,151.5 576.2,151.8 576.6,152.1 577,152.4 577.4,152.7 577.4,162.7 577,162.4 576.6,162.2 576.2,161.9 575.8,161.6 575.4,161.3 575,161 574.6,160.7 574.2,160.5 573.8,160.2 573.4,159.9 573,159.6 572.6,159.3 572.2,159 571.8,158.8 571.4,158.5"/>
<polygon fill="#2d2dff" points="583.6,157.1 583.8,157.2 584.2,157.5 584.6,157.8 585,158.1 585.4,158.3 585.8,158.6 586.2,158.9 586.6,159.2 587,159.5 587.4,159.8 587.8,160 588.2,160.3 588.6,160.6 589,160.9 589.4,161.2 589.6,161.3 589.6,171.4 589.4,171.2 589,170.9 588.6,170.7 588.2,170.4 587.8,170.1 587.4,169.8 587,169.5 586.6,169.2 586.2,169 585.8,168.7 585.4,168.4 585,168.1 584.6,167.8 584.2,167.5 583.8,167.3 583.6,167.1"/>
<polygon fill="#2d2dff" points="595.8,165.7 596.2,166 596.6,166.3 597,166.6 597.4,166.8 597.8,167.1 598.2,167.4 598.6,167.7 599,168 599.4,168.3 599.8,168.5 600.2,168.8 600.6,169.1 601,169.4 601.4,169.7 601.8,170 601.8,180 601.4,179.7 601,179.4 600.6,179.2 600.2,178.9 599.8,178.6 599.4,178.3 599,178 598.6,177.7 598.2,177.5 597.8,177.2 597.4,176.9 597,176.6 596.6,176.3 596.2,176 595.8,175.8"/>
<polygon fill="#2d2dff" points="608,174.3 608.2,174.5 608.6,174.8 609,175 609.4,175.3 609.8,175.6 610.2,175.9 610.6,176.2 611,176.5 611.4,176.7 611.8,177 612.2,177.3 612.6,177.6 613,177.9 613.4,178.2 613.8,178.4 614,178.6 614,188.6 613.8,188.5 613.4,188.2 613,187.9 612.6,187.6 612.2,187.4 611.8,187.1 611.4,186.8 611,186.5 610.6,186.2 610.2,185.9 609.8,185.7 609.4,185.4 609,185.1 608.6,184.8 608.2,184.5 608,184.4"/>
<polygon fill="#2d2dff" points="620.2,183 620.6,183.2 621,183.5 621.4,183.8 621.8,184.1 622.2,184.4 622.6,184.7 623,184.9 623.4,185.2 623.8,185.5 624.2,185.8 624.6,186.1 625,186.4 625.4,186.6 625.8,186.9 626.2,187.2 626.2,197.2 625.8,197 625.4,196.7 625,196.4 624.6,196.1 624.2,195.8 623.8,195.5 623.4,195.3 623,195 622.6,194.7 622.2,194.4 621.8,194.1 621.4,193.8 621,193.6 620.6,193.3 620.2,193"/>
<polygon fill="#2d2dff" points="632.4,191.6 632.6,191.7 633,192 633.4,192.3 633.8,192.6 634.2,192.8 634.6,193.1 635,193.4 635.4,193.7 635.8,194 636.2,194.2 636.6,194.5 637,194.8 637.4,195.1 637.8,195.4 638.2,195.7 638.4,195.8 638.4,205.8 638.2,205.7 637.8,205.4 637.4,205.1 637,204.8 636.6,204.6 636.2,204.3 635.8,204 635.4,203.7 635,203.4 634.6,203.1 634.2,202.9 633.8,202.6 633.4,202.3 633,202 632.6,201.7 632.4,201.6"/>
<polygon fill="#2d2dff" points="644.6,200.2 645,200.4 645.4,200.7 645.8,201 646.2,201.3 646.6,201.6 647,201.8 647.4,202.1 647.8,202.4 648.2,202.7 648.6,203 649,203.2 649.4,203.5 649.8,203.8 649.8,213.8 649.4,213.5 649,213.3 648.6,213 648.2,212.7 647.8,212.4 647.4,212.1 647,211.9 646.6,211.6 646.2,211.3 645.8,211 645.4,210.7 645,210.4 644.6,210.2"/>
<polygon fill="#2d2dff" points="405,48.9 405.4,49.2 405.8,49.5 406.2,49.8 406.5,50 406.5,60.4 406.2,60.1 405.8,59.8 405.4,59.5 405,59.2"/>
<polygon fill="#2d2dff" points="412.7,54.8 413,55 413.4,55.3 413.8,55.6 414.2,55.9 414.6,56.3 415,56.6 415.4,56.9 415.8,57.2 416.2,57.5 416.6,57.8 417,58.1 417.4,58.5 417.8,58.8 418.2,59.1 418.6,59.4 418.7,59.5 418.7,69.9 418.6,69.9 418.2,69.5 417.8,69.2 417.4,68.9 417,68.6 416.6,68.3 416.2,68 415.8,67.6 415.4,67.3 415,67 414.6,66.7 414.2,66.4 413.8,66.1 413.4,65.8 413,65.4 412.7,65.2"/>
<polygon fill="#2d2dff" points="424.9,64.4 425,64.5 425.4,64.8 425.8,65.1 426.2,65.5 426.6,65.8 427,66.1 427.4,66.4 427.8,66.8 428.2,67.1 428.6,67.4 429,67.7 429.4,68.1 429.8,68.4 430.2,68.7 430.6,69 430.9,69.3 430.9,79.9 430.6,79.6 430.2,79.3 429.8,79 429.4,78.6 429,78.3 428.6,78 428.2,77.7 427.8,77.3 427.4,77 427,76.7 426.6,76.4 426.2,76 425.8,75.7 425.4,75.4 425,75.1 424.9,75"/>
<polygon fill="#2d2dff" points="437.1,74.4 437.4,74.6 437.8,74.9 438.2,75.3 438.6,75.6 439,75.9 439.4,76.3 439.8,76.6 440.2,76.9 440.6,77.3 441,77.6 441.4,77.9 441.8,78.3 442.2,78.6 442.6,79 443,79.3 443.1,79.4 443.1,90.1 443,90 442.6,89.6 442.2,89.3 441.8,89 441.4,88.6 441,88.3 440.6,88 440.2,87.6 439.8,87.3 439.4,87 439,86.6 438.6,86.3 438.2,86 437.8,85.6 437.4,85.3 437.1,85"/>
<polygon fill="#2d2dff" points="449.3,84.6 449.4,84.7 449.8,85 450.2,85.3 450.6,85.7 451,86 451.4,86.4 451.8,86.7 452.2,87.1 452.6,87.4 453,87.7 453.4,88.1 453.8,88.4 454.2,88.8 454.6,89.1 455,89.5 455.3,89.7 455.3,100.5 455,100.2 454.6,99.9 454.2,99.6 453.8,99.2 453.4,98.9 453,98.5 452.6,98.2 452.2,97.8 451.8,97.5 451.4,97.2 451,96.8 450.6,96.5 450.2,96.1 449.8,95.8 449.4,95.5 449.3,95.4"/>
<polygon fill="#2d2dff" points="461.5,95 461.8,95.3 462.2,95.6 462.6,96 463,96.3 463.4,96.7 463.8,97 464.2,97.4 464.6,97.7 465,98.1 465.4,98.4 465.8,98.8 466.2,99.1 466.6,99.5 467,99.8 467.4,100.2 467.5,100.3 467.5,111.1 467.4,111.1 467,110.7 466.6,110.4 466.2,110 465.8,109.7 465.4,109.3 465,109 464.6,108.6 464.2,108.3 463.8,107.9 463.4,107.6 463,107.2 462.6,106.9 462.2,106.5 461.8,106.2 461.5,105.9"/>
<polygon fill="#2d2dff" points="473.7,105.7 473.8,105.8 474.2,106.1 474.6,106.5 475,106.8 475.4,107.2 475.8,107.5 476.2,107.9 476.6,108.2 477,108.6 477.4,108.9 477.8,109.3 478.2,109.7 478.6,110 479,110.4 479.4,110.7 479.7,111 479.7,121.9 479.4,121.7 479,121.3 478.6,121 478.2,120.6 477.8,120.2 477.4,119.9 477,119.5 476.6,119.2 476.2,118.8 475.8,118.5 475.4,118.1 475,117.8 474.6,117.4 474.2,117.1 473.8,116.7 473.7,116.6"/>
<polygon fill="#2d2dff" points="485.9,116.5 486.2,116.7 486.6,117.1 487,117.5 487.4,117.8 487.8,118.2 488.2,118.5 488.6,118.9 489,119.2 489.4,119.6 489.8,120 490.2,120.3 490.6,120.7 491,121 491.4,121.4 491.8,121.7 491.9,121.8 491.9,132.8 491.8,132.7 491.4,132.4 491,132 490.6,131.7 490.2,131.3 489.8,131 489.4,130.6 489,130.2 488.6,129.9 488.2,129.5 487.8,129.2 487.4,128.8 487,128.5 486.6,128.1 486.2,127.7 485.9,127.5"/>
<polygon fill="#2d2dff" points="498.1,127.4 498.2,127.5 498.6,127.8 499,128.2 499.4,128.5 499.8,128.9 500.2,129.3 500.6,129.6 501,130 501.4,130.3 501.8,130.7 502.2,131.1 502.6,131.4 503,131.8 503.4,132.1 503.8,132.5 504.1,132.8 504.1,143.8 503.8,143.5 503.4,143.2 503,142.8 502.6,142.4 502.2,142.1 501.8,141.7 501.4,141.4 501,141 500.6,140.6 500.2,140.3 499.8,139.9 499.4,139.6 499,139.2 498.6,138.9 498.2,138.5 498.1,138.4"/>
<polygon fill="#2d2dff" points="510.3,138.3 510.6,138.6 511,139 511.4,139.3 511.8,139.7 512.2,140.1 512.6,140.4 513,140.8 513.4,141.1 513.8,141.5 514.2,141.9 514.6,142.2 515,142.6 515.4,142.9 515.8,143.3 516.2,143.7 516.3,143.8 516.3,154.8 516.2,154.7 515.8,154.3 515.4,154 515,153.6 514.6,153.3 514.2,152.9 513.8,152.5 513.4,152.2 513,151.8 512.6,151.5 512.2,151.1 511.8,150.7 511.4,150.4 511,150 510.6,149.7 510.3,149.4"/>
<polygon fill="#2d2dff" points="522.5,149.3 522.6,149.4 523,149.8 523.4,150.2 523.8,150.5 524.2,150.9 524.6,151.2 525,151.6 525.4,152 525.8,152.3 526.2,152.7 526.6,153 527,153.4 527.4,153.8 527.8,154.1 528.2,154.5 528.5,154.7 528.5,165.8 528.2,165.5 527.8,165.1 527.4,164.8 527,164.4 526.6,164.1 526.2,163.7 525.8,163.3 525.4,163 525,162.6 524.6,162.3 524.2,161.9 523.8,161.5 523.4,161.2 523,160.8 522.6,160.5 522.5,160.4"/>
<polygon fill="#2d2dff" points="534.7,160.3 535,160.6 535.4,160.9 535.8,161.3 536.2,161.7 536.6,162 537,162.4 537.4,162.7 537.8,163.1 538.2,163.5 538.6,163.8 539,164.2 539.4,164.5 539.8,164.9 540.2,165.2 540.6,165.6 540.7,165.7 540.7,176.7 540.6,176.6 540.2,176.2 539.8,175.9 539.4,175.5 539,175.2 538.6,174.8 538.2,174.5 537.8,174.1 537.4,173.7 537,173.4 536.6,173 536.2,172.7 535.8,172.3 535.4,172 535,171.6 534.7,171.3"/>
<polygon fill="#2d2dff" points="546.9,171.2 547,171.3 547.4,171.7 547.8,172 548.2,172.4 548.6,172.7 549,173.1 549.4,173.5 549.8,173.8 550.2,174.2 550.6,174.5 551,174.9 551.4,175.2 551.8,175.6 552.2,175.9 552.6,176.3 552.9,176.6 552.9,187.5 552.6,187.3 552.2,186.9 551.8,186.5 551.4,186.2 551,185.8 550.6,185.5 550.2,185.1 549.8,184.8 549.4,184.4 549,184.1 548.6,183.7 548.2,183.4 547.8,183 547.4,182.6 547,182.3 546.9,182.2"/>
<polygon fill="#2d2dff" points="559.1,182.1 559.4,182.3 559.8,182.7 560.2,183 560.6,183.4 561,183.7 561.4,184.1 561.8,184.4 562.2,184.8 562.6,185.1 563,185.5 563.4,185.8 563.8,186.2 564.2,186.5 564.6,186.9 565,187.2 565.1,187.3 565.1,198.2 565,198.1 564.6,197.8 564.2,197.4 563.8,197.1 563.4,196.7 563,196.4 562.6,196 562.2,195.7 561.8,195.3 561.4,195 561,194.6 560.6,194.3 560.2,193.9 559.8,193.6 559.4,193.2 559.1,193"/>
<polygon fill="#2d2dff" points="571.3,192.7 571.4,192.8 571.8,193.2 572.2,193.5 572.6,193.9 573,194.2 573.4,194.5 573.8,194.9 574.2,195.2 574.6,195.6 575,195.9 575.4,196.3 575.8,196.6 576.2,196.9 576.6,197.3 577,197.6 577.3,197.9 577.3,208.7 577,208.4 576.6,208.1 576.2,207.8 575.8,207.4 575.4,207.1 575,206.7 574.6,206.4 574.2,206 573.8,205.7 573.4,205.4 573,205 572.6,204.7 572.2,204.3 571.8,204 571.4,203.6 571.3,203.5"/>
<polygon fill="#2d2dff" points="583.5,203.2 583.8,203.5 584.2,203.8 584.6,204.1 585,204.5 585.4,204.8 585.8,205.2 586.2,205.5 586.6,205.8 587,206.2 587.4,206.5 587.8,206.8 588.2,207.2 588.6,207.5 589,207.8 589.4,208.2 589.5,208.3 589.5,219 589.4,218.9 589,218.6 588.6,218.2 588.2,217.9 587.8,217.6 587.4,217.2 587,216.9 586.6,216.6 586.2,216.2 585.8,215.9 585.4,215.5 585,215.2 584.6,214.9 584.2,214.5 583.8,214.2 583.5,213.9"/>
<polygon fill="#2d2dff" points="595.7,213.5 595.8,213.6 596.2,213.9 596.6,214.2 597,214.5 597.4,214.9 597.8,215.2 598.2,215.5 598.6,215.9 599,216.2 599.4,216.5 599.8,216.8 600.2,217.2 600.6,217.5 601,217.8 601.4,218.2 601.7,218.4 601.7,229 601.4,228.8 601,228.4 600.6,228.1 600.2,227.8 599.8,227.4 599.4,227.1 599,226.8 598.6,226.5 598.2,226.1 597.8,225.8 597.4,225.5 597,225.2 596.6,224.8 596.2,224.5 595.8,224.2 595.7,224.1"/>
<polygon fill="#2d2dff" points="607.9,223.5 608.2,223.7 608.6,224 609,224.3 609.4,224.7 609.8,225 610.2,225.3 610.6,225.6 611,225.9 611.4,226.3 611.8,226.6 612.2,226.9 612.6,227.2 613,227.5 613.4,227.8 613.8,228.2 613.9,228.2 613.9,238.7 613.8,238.6 613.4,238.3 613,238 612.6,237.7 612.2,237.4 611.8,237 611.4,236.7 611,236.4 610.6,236.1 610.2,235.8 609.8,235.5 609.4,235.1 609,234.8 608.6,234.5 608.2,234.2 607.9,233.9"/>
<polygon fill="#2d2dff" points="620.1,233.1 620.2,233.2 620.6,233.5 621,233.8 621.4,234.1 621.8,234.5 622.2,234.8 622.6,235.1 623,235.4 623.4,235.7 623.8,236 624.2,236.3 624.6,236.6 625,236.9 625.4,237.2 625.8,237.5 626.1,237.7 626.1,248.1 625.8,247.8 625.4,247.5 625,247.2 624.6,246.9 624.2,246.6 623.8,246.3 623.4,246 623,245.7 622.6,245.4 622.2,245.1 621.8,244.8 621.4,244.5 621,244.2 620.6,243.9 620.2,243.6 620.1,243.5"/>
<polygon fill="#2d2dff" points="632.3,242.5 632.6,242.7 633,243 633.4,243.3 633.8,243.6 634.2,243.9 634.6,244.2 635,244.5 635.4,244.8 635.8,245 636.2,245.3 636.6,245.6 637,245.9 637.4,246.2 637.8,246.5 638.2,246.8 638.3,246.9 638.3,257 638.2,257 637.8,256.7 637.4,256.4 637,256.1 636.6,255.8 636.2,255.5 635.8,255.2 635.4,254.9 635,254.6 634.6,254.3 634.2,254 633.8,253.7 633.4,253.5 633,253.2 632.6,252.9 632.3,252.6"/>
<polygon fill="#2d2dff" points="644.5,251.4 644.6,251.5 645,251.7 645.4,252 645.8,252.3 646.2,252.6 646.6,252.9 647,253.2 647.4,253.4 647.8,253.7 648.2,254 648.6,254.3 649,254.5 649.4,254.8 649.8,255.1 649.8,265.1 649.4,264.8 649,264.5 648.6,264.3 648.2,264 647.8,263.7 647.4,263.4 647,263.2 646.6,262.9 646.2,262.6 645.8,262.3 645.4,262 645,261.8 644.6,261.5 644.5,261.4"/>
<polygon fill="#2d2dff" points="410.6,74.9 411,75.3 411.4,75.7 411.8,76.2 412.2,76.6 412.6,77 413,77.5 413.4,77.9 413.8,78.3 414.2,78.8 414.6,79.2 415,79.6 415.4,80.1 415.8,80.5 416.1,80.9 405,80.9 404.6,80.5 404.2,80.1 403.8,79.6 403.4,79.2 403,78.8 402.6,78.3 402.2,77.9 401.8,77.5 401.4,77 401,76.6 400.6,76.2 400.2,75.7 399.8,75.3 399.4,74.9"/>
<polygon fill="#2d2dff" points="421.9,87.1 422.2,87.4 422.6,87.8 423,88.3 423.4,88.7 423.8,89.1 424.2,89.6 424.6,90 425,90.4 425.4,90.9 425.8,91.3 426.2,91.7 426.6,92.2 427,92.6 427.4,93 427.4,93.1 416.3,93.1 416.2,93 415.8,92.6 415.4,92.2 415,91.7 414.6,91.3 414.2,90.9 413.8,90.4 413.4,90 413,89.6 412.6,89.1 412.2,88.7 411.8,88.3 411.4,87.8 411,87.4 410.7,87.1"/>
<polygon fill="#2d2dff" points="433.2,99.3 433.4,99.4 433.8,99.9 434.2,100.3 434.6,100.7 435,101.2 435.4,101.6 435.8,102 436.2,102.4 436.6,102.9 437,103.3 437.4,103.7 437.8,104.2 438.2,104.6 438.6,105 438.9,105.3 427.6,105.3 427.4,105 427,104.6 426.6,104.2 426.2,103.7 425.8,103.3 425.4,102.9 425,102.4 424.6,102 424.2,101.6 423.8,101.2 423.4,100.7 423,100.3 422.6,99.9 422.2,99.4 422,99.3"/>
<polygon fill="#2d2dff" points="444.7,111.5 445,111.8 445.4,112.2 445.8,112.7 446.2,113.1 446.6,113.5 447,113.9 447.4,114.4 447.8,114.8 448.2,115.2 448.6,115.6 449,116.1 449.4,116.5 449.8,116.9 450.2,117.3 450.3,117.5 439.1,117.5 439,117.3 438.6,116.9 438.2,116.5 437.8,116.1 437.4,115.6 437,115.2 436.6,114.8 436.2,114.4 435.8,113.9 435.4,113.5 435,113.1 434.6,112.7 434.2,112.2 433.8,111.8 433.4,111.5"/>
<polygon fill="#2d2dff" points="456.2,123.7 456.3,123.7 456.7,124.1 457.1,124.5 457.5,125 457.9,125.4 458.3,125.8 458.7,126.2 459.1,126.6 459.5,127.1 459.9,127.5 460.3,127.9 460.7,128.3 461.1,128.7 461.5,129.2 461.9,129.6 461.9,129.7 450.6,129.7 450.5,129.6 450.1,129.2 449.7,128.7 449.3,128.3 448.9,127.9 448.5,127.5 448.1,127.1 447.7,126.6 447.3,126.2 446.9,125.8 446.5,125.4 446.1,125 445.7,124.5 445.3,124.1 444.9,123.7 444.9,123.7"/>
<polygon fill="#2d2dff" points="467.9,135.9 467.9,135.9 468.3,136.3 468.7,136.7 469.1,137.1 469.5,137.6 469.9,138 470.3,138.4 470.7,138.8 471.1,139.2 471.5,139.6 471.9,140.1 472.3,140.5 472.7,140.9 473.1,141.3 473.5,141.7 473.6,141.9 462.2,141.9 462.1,141.7 461.7,141.3 461.3,140.9 460.9,140.5 460.5,140.1 460.1,139.6 459.7,139.2 459.3,138.8 458.9,138.4 458.5,138 458.1,137.6 457.7,137.1 457.3,136.7 456.9,136.3 456.5,135.9 456.5,135.9"/>
<polygon fill="#2d2dff" points="479.6,148.1 479.9,148.4 480.3,148.8 480.7,149.2 481.1,149.7 481.5,150.1 481.9,150.5 482.3,150.9 482.7,151.3 483.1,151.7 483.5,152.1 483.9,152.6 484.3,153 484.7,153.4 485.1,153.8 485.3,154.1 474,154.1 473.7,153.8 473.3,153.4 472.9,153 472.5,152.6 472.1,152.1 471.7,151.7 471.3,151.3 470.9,150.9 470.5,150.5 470.1,150.1 469.7,149.7 469.3,149.2 468.9,148.8 468.5,148.4 468.2,148.1"/>
<polygon fill="#2d2dff" points="491.4,160.3 491.5,160.4 491.9,160.8 492.3,161.2 492.7,161.7 493.1,162.1 493.5,162.5 493.9,162.9 494.3,163.3 494.7,163.7 495.1,164.1 495.5,164.5 495.9,165 496.3,165.4 496.7,165.8 497.1,166.2 497.2,166.3 485.8,166.3 485.7,166.2 485.3,165.8 484.9,165.4 484.5,165 484.1,164.5 483.7,164.1 483.3,163.7 482.9,163.3 482.5,162.9 482.1,162.5 481.7,162.1 481.3,161.7 480.9,161.2 480.5,160.8 480.1,160.4 479.9,160.3"/>
<polygon fill="#2d2dff" points="503.3,172.5 503.5,172.8 503.9,173.2 504.3,173.6 504.7,174 505.1,174.4 505.5,174.8 505.9,175.2 506.3,175.6 506.7,176 507.1,176.4 507.5,176.8 507.9,177.3 508.3,177.7 508.7,178.1 509.1,178.5 497.6,178.5 497.3,178.1 496.9,177.7 496.5,177.3 496.1,176.8 495.7,176.4 495.3,176 494.9,175.6 494.5,175.2 494.1,174.8 493.7,174.4 493.3,174 492.9,173.6 492.5,173.2 492.1,172.8 491.8,172.5"/>
<polygon fill="#2d2dff" points="515.2,184.7 515.6,185 516,185.4 516.4,185.8 516.8,186.2 517.2,186.6 517.6,187 518,187.4 518.4,187.8 518.8,188.2 519.2,188.6 519.6,189 520,189.5 520.4,189.9 520.8,190.3 521.2,190.7 509.6,190.7 509.2,190.3 508.8,189.9 508.4,189.5 508,189 507.6,188.6 507.2,188.2 506.8,187.8 506.4,187.4 506,187 505.6,186.6 505.2,186.2 504.8,185.8 504.4,185.4 504,185 503.7,184.7"/>
<polygon fill="#2d2dff" points="527.3,196.9 527.6,197.1 528,197.5 528.4,197.9 528.8,198.3 529.2,198.7 529.6,199.1 530,199.5 530.4,200 530.8,200.4 531.2,200.8 531.6,201.2 532,201.6 532.4,202 532.8,202.4 533.2,202.8 533.3,202.9 521.7,202.9 521.6,202.8 521.2,202.4 520.8,202 520.4,201.6 520,201.2 519.6,200.8 519.2,200.4 518.8,200 518.4,199.5 518,199.1 517.6,198.7 517.2,198.3 516.8,197.9 516.4,197.5 516,197.1 515.8,196.9"/>
<polygon fill="#2d2dff" points="533.7,203.3 533.8,203.4 534.2,203.8 534.6,204.2 535,204.6 535.4,205 535.8,205.4 536.2,205.8 536.6,206.2 537,206.6 537.4,207 537.8,207.4 538.2,207.8 538.6,208.2 539,208.6 539.4,209 539.7,209.3 539.7,220.8 539.4,220.6 539,220.2 538.6,219.8 538.2,219.4 537.8,219 537.4,218.6 537,218.2 536.6,217.8 536.2,217.4 535.8,217 535.4,216.6 535,216.2 534.6,215.8 534.2,215.4 533.8,215 533.7,214.9"/>
<polygon fill="#2d2dff" points="545.9,215.4 546.2,215.8 546.6,216.1 547,216.5 547.4,216.9 547.8,217.3 548.2,217.7 548.6,218.1 549,218.5 549.4,218.9 549.8,219.3 550.2,219.7 550.6,220.1 551,220.5 551.4,220.9 551.8,221.3 551.9,221.4 551.9,232.9 551.8,232.8 551.4,232.4 551,232 550.6,231.6 550.2,231.2 549.8,230.9 549.4,230.5 549,230.1 548.6,229.7 548.2,229.3 547.8,228.9 547.4,228.5 547,228.1 546.6,227.7 546.2,227.3 545.9,227"/>
<polygon fill="#2d2dff" points="558.1,227.5 558.2,227.6 558.6,228 559,228.4 559.4,228.8 559.8,229.2 560.2,229.6 560.6,230 561,230.4 561.4,230.8 561.8,231.2 562.2,231.6 562.6,231.9 563,232.3 563.4,232.7 563.8,233.1 564.1,233.4 564.1,244.9 563.8,244.6 563.4,244.2 563,243.8 562.6,243.4 562.2,243 561.8,242.6 561.4,242.3 561,241.9 560.6,241.5 560.2,241.1 559.8,240.7 559.4,240.3 559,239.9 558.6,239.5 558.2,239.1 558.1,239"/>
<polygon fill="#2d2dff" points="570.3,239.5 570.6,239.8 571,240.2 571.4,240.6 571.8,241 572.2,241.3 572.6,241.7 573,242.1 573.4,242.5 573.8,242.9 574.2,243.3 574.6,243.7 575,244.1 575.4,244.5 575.8,244.8 576.2,245.2 576.3,245.3 576.3,256.8 576.2,256.7 575.8,256.3 575.4,255.9 575,255.5 574.6,255.1 574.2,254.7 573.8,254.3 573.4,254 573,253.6 572.6,253.2 572.2,252.8 571.8,252.4 571.4,252 571,251.6 570.6,251.2 570.3,250.9"/>
<polygon fill="#2d2dff" points="582.5,251.3 582.6,251.5 583,251.8 583.4,252.2 583.8,252.6 584.2,253 584.6,253.4 585,253.8 585,265.2 584.6,264.8 584.2,264.4 583.8,264 583.4,263.6 583,263.2 582.6,262.9 582.5,262.8"/>
</g>
<rect x="413.9" y="38.3" width="228.30000000000007" height="216.60000000000002" fill="none" stroke="#000" stroke-width="2"/>
<text transform="translate(382,603.5) scale(1.15,1)" text-anchor="middle" class="ax">ξ</text>
<text transform="translate(28,275.6) rotate(-90)" text-anchor="middle" class="ay">θ<tspan dx="3" dy="1.5" font-size="41">′</tspan><tspan dx="-3.5" dy="-1.5">(ξ)</tspan></text>
</svg>
</body></html>
